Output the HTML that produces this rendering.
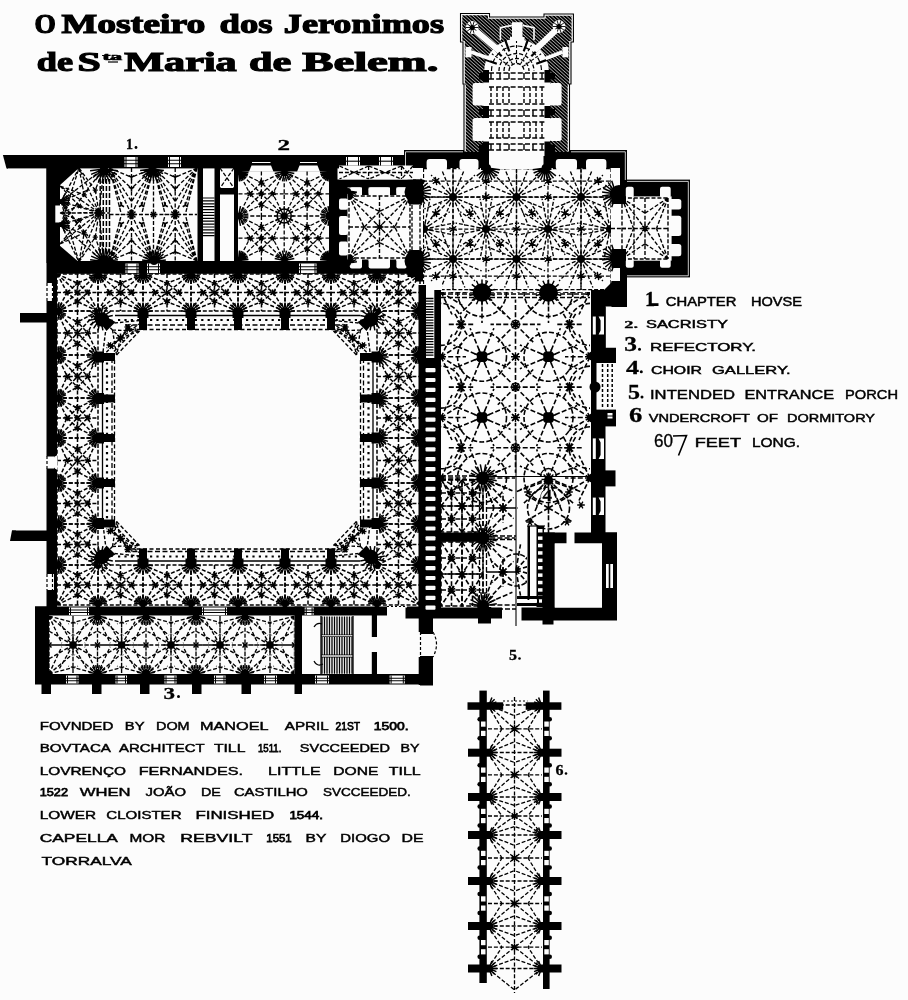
<!DOCTYPE html>
<html><head><meta charset="utf-8"><title>O Mosteiro dos Jeronimos</title>
<style>html,body{margin:0;padding:0;background:#fcfcfc;}svg{display:block;font-family:"Liberation Sans",sans-serif;}</style>
</head><body>
<svg width="908" height="1000" viewBox="0 0 908 1000">
<defs><filter id="soft" x="0" y="0" width="100%" height="100%" filterUnits="userSpaceOnUse"><feGaussianBlur stdDeviation="0.45"/></filter></defs>
<rect x="0" y="0" width="908" height="1000" fill="#fcfcfc"/>
<g filter="url(#soft)">
<rect x="4.0" y="155.0" width="400.0" height="13.4" fill="#000" />
<polygon points="0.0,155.0 7.0,155.0 7.0,169.0 0.0,169.0" fill="#fcfcfc" />
<polygon points="2.9,155.0 8.0,155.0 8.0,168.6 6.5,168.6" fill="#000" />
<rect x="46.5" y="155.0" width="10.5" height="457.0" fill="#000" />
<rect x="46.5" y="168.0" width="13.5" height="95.0" fill="#000" />
<polygon points="59.0,167.0 80.0,167.0 59.0,186.0" fill="#000" />
<polygon points="59.0,263.0 80.0,263.0 59.0,245.0" fill="#000" />
<rect x="55.3" y="205.5" width="5.2" height="17.0" fill="#fcfcfc" />
<rect x="47.0" y="261.0" width="375.0" height="12.8" fill="#000" />
<rect x="234.0" y="155.0" width="103.0" height="16.5" fill="#000" />
<rect x="197.5" y="167.0" width="5.5" height="96.0" fill="#000" />
<rect x="214.5" y="167.0" width="5.5" height="96.0" fill="#000" />
<rect x="220.0" y="188.0" width="18.0" height="6.5" fill="#000" />
<rect x="234.0" y="167.0" width="4.0" height="96.0" fill="#000" />
<path d="M203 198L214.5 198M203 200.9L214.5 200.9M203 203.8L214.5 203.8M203 206.7L214.5 206.7M203 209.6L214.5 209.6M203 212.5L214.5 212.5M203 215.4L214.5 215.4M203 218.3L214.5 218.3M203 221.2L214.5 221.2M203 224.1L214.5 224.1M203 227L214.5 227M203 229.9L214.5 229.9M203 232.8L214.5 232.8M203 235.7L214.5 235.7" fill="none" stroke="#000" stroke-width="1.2"/>
<rect x="329.0" y="167.0" width="8.5" height="96.0" fill="#000" />
<rect x="337.0" y="179.5" width="79.0" height="8.0" fill="#000" />
<rect x="337.0" y="187.0" width="10.5" height="76.0" fill="#000" />
<rect x="407.5" y="179.5" width="15.5" height="25" rx="4" fill="#000"/>
<rect x="407.5" y="179.5" width="15.5" height="10.5" fill="#000" />
<rect x="407.5" y="250" width="15.5" height="27" rx="4" fill="#000"/>
<rect x="407.5" y="265.0" width="15.5" height="12.0" fill="#000" />
<rect x="415.0" y="274.0" width="8.0" height="7.5" fill="#000" />
<rect x="404.0" y="150.0" width="223.0" height="18.0" fill="#000" />
<rect x="611.5" y="150.0" width="15.5" height="157.0" fill="#000" />
<polygon points="591.0,290.0 604.0,290.0 612.0,282.0 619.5,282.0 619.5,270.0 627.0,270.0 627.0,306.5 591.0,306.5" fill="#000" />
<rect x="626.0" y="179.6" width="64.0" height="97.8" fill="#000" />
<rect x="418.5" y="285.0" width="22.5" height="327.0" fill="#000" />
<rect x="591.0" y="300.0" width="14.5" height="235.0" fill="#000" />
<rect x="603.0" y="348.7" width="13.0" height="14.3" fill="#000" />
<rect x="603.0" y="409.6" width="13.0" height="16.8" fill="#000" />
<rect x="603.0" y="470.4" width="12.5" height="16.0" fill="#000" />
<rect x="405.5" y="607.5" width="96.5" height="11.0" fill="#000" />
<rect x="478.0" y="607.0" width="13.0" height="16.5" fill="#000" />
<rect x="521.5" y="607.5" width="95.5" height="13.0" fill="#000" />
<rect x="542.5" y="607.0" width="11.0" height="17.5" fill="#000" />
<rect x="544.0" y="532.5" width="73.0" height="11.0" fill="#000" />
<rect x="544.0" y="532.5" width="10.8" height="79.5" fill="#000" />
<rect x="602.0" y="532.5" width="15.0" height="79.5" fill="#000" />
<rect x="441.0" y="532.5" width="43.0" height="9.3" fill="#000" />
<rect x="420.0" y="617.0" width="13.0" height="17.0" fill="#000" />
<rect x="420.0" y="656.0" width="13.0" height="29.5" fill="#000" />
<rect x="35.0" y="606.5" width="352.0" height="9.0" fill="#000" />
<rect x="407.0" y="606.5" width="26.0" height="9.0" fill="#000" />
<rect x="35.0" y="606.5" width="14.0" height="77.5" fill="#000" />
<rect x="35.0" y="674.0" width="398.0" height="10.5" fill="#000" />
<rect x="294.5" y="606.5" width="7.5" height="87.5" fill="#000" />
<rect x="418.7" y="606.5" width="14.3" height="25.5" fill="#000" />
<rect x="418.7" y="657.0" width="14.3" height="28.0" fill="#000" />
<rect x="371.8" y="615.0" width="5.2" height="22.0" fill="#000" />
<rect x="371.8" y="652.0" width="5.2" height="23.0" fill="#000" />
<rect x="41.5" y="684.0" width="9.5" height="10.0" fill="#000" />
<rect x="92.0" y="684.0" width="9.5" height="10.0" fill="#000" />
<rect x="140.0" y="684.0" width="9.5" height="10.0" fill="#000" />
<rect x="192.0" y="684.0" width="9.5" height="10.0" fill="#000" />
<rect x="241.5" y="684.0" width="9.5" height="10.0" fill="#000" />
<rect x="20.0" y="313.0" width="27.0" height="9.5" fill="#000" />
<rect x="12.0" y="530.5" width="35.0" height="10.5" fill="#000" />
<polygon points="12.0,530.5 16.0,530.5 12.0,541.0 10.0,541.0" fill="#000" />
<rect x="479.4" y="690.6" width="7.4" height="292.4" fill="#000" />
<rect x="543.0" y="690.6" width="6.6" height="298.4" fill="#000" />
<rect x="468.0" y="748.7" width="22.5" height="8.0" fill="#000" />
<rect x="539.5" y="748.7" width="22.0" height="8.0" fill="#000" />
<rect x="468.0" y="793.0" width="22.5" height="8.0" fill="#000" />
<rect x="539.5" y="793.0" width="22.0" height="8.0" fill="#000" />
<rect x="468.0" y="831.0" width="22.5" height="8.0" fill="#000" />
<rect x="539.5" y="831.0" width="22.0" height="8.0" fill="#000" />
<rect x="468.0" y="877.0" width="22.5" height="8.0" fill="#000" />
<rect x="539.5" y="877.0" width="22.0" height="8.0" fill="#000" />
<rect x="468.0" y="922.0" width="22.5" height="8.0" fill="#000" />
<rect x="539.5" y="922.0" width="22.0" height="8.0" fill="#000" />
<rect x="468.0" y="964.5" width="22.5" height="8.0" fill="#000" />
<rect x="539.5" y="964.5" width="22.0" height="8.0" fill="#000" />
<rect x="467.5" y="702.3" width="35.7" height="7.5" fill="#000" />
<rect x="525.7" y="702.3" width="35.7" height="7.5" fill="#000" />
<path d="M57 274L98 274M98 274L98 311M57 311L98 311M57 274L57 311M57 292.5L98 292.5M77.5 274L77.5 311M57 274L77.5 292.5M98 274L77.5 292.5M98 311L77.5 292.5M57 311L77.5 292.5M57 274L67.2 292.5M57 274L77.5 283.2M98 274L87.8 292.5M98 274L77.5 283.2M98 311L87.8 292.5M98 311L77.5 301.8M57 311L67.2 292.5M57 311L77.5 301.8" fill="none" stroke="#000" stroke-width="1.5" stroke-dasharray="4 1.9"/>
<polyline points="67.2,292.5 77.5,283.2 87.8,292.5 77.5,301.8 67.2,292.5" fill="none" stroke="#000" stroke-width="1.5" stroke-dasharray="4 1.9"/>
<path d="M67.2 292.5L70.3 293.3M67.2 292.5L68.1 295.6M67.2 292.5L65 294.8M67.2 292.5L64.2 291.7M67.2 292.5L66.4 289.4M67.2 292.5L69.5 290.2M87.8 292.5L90.8 293.3M87.8 292.5L88.6 295.6M87.8 292.5L85.5 294.8M87.8 292.5L84.7 291.7M87.8 292.5L86.9 289.4M87.8 292.5L90 290.2M77.5 283.2L80.6 284.1M77.5 283.2L78.3 286.3M77.5 283.2L75.2 285.5M77.5 283.2L74.4 282.4M77.5 283.2L76.7 280.2M77.5 283.2L79.8 281M77.5 301.8L80.6 302.6M77.5 301.8L78.3 304.8M77.5 301.8L75.2 304M77.5 301.8L74.4 300.9M77.5 301.8L76.7 298.7M77.5 301.8L79.8 299.5M77.5 292.5L80.6 293.3M77.5 292.5L78.3 295.6M77.5 292.5L75.2 294.8M77.5 292.5L74.4 291.7M77.5 292.5L76.7 289.4M77.5 292.5L79.8 290.2" fill="none" stroke="#000" stroke-width="1.5"/>
<path d="M57 565L98 565M98 565L98 605M57 605L98 605M57 565L57 605M57 585L98 585M77.5 565L77.5 605M57 565L77.5 585M98 565L77.5 585M98 605L77.5 585M57 605L77.5 585M57 565L67.2 585M57 565L77.5 575M98 565L87.8 585M98 565L77.5 575M98 605L87.8 585M98 605L77.5 595M57 605L67.2 585M57 605L77.5 595" fill="none" stroke="#000" stroke-width="1.5" stroke-dasharray="4 1.9"/>
<polyline points="67.2,585.0 77.5,575.0 87.8,585.0 77.5,595.0 67.2,585.0" fill="none" stroke="#000" stroke-width="1.5" stroke-dasharray="4 1.9"/>
<path d="M67.2 585L70.3 585.8M67.2 585L68.1 588.1M67.2 585L65 587.3M67.2 585L64.2 584.2M67.2 585L66.4 581.9M67.2 585L69.5 582.7M87.8 585L90.8 585.8M87.8 585L88.6 588.1M87.8 585L85.5 587.3M87.8 585L84.7 584.2M87.8 585L86.9 581.9M87.8 585L90 582.7M77.5 575L80.6 575.8M77.5 575L78.3 578.1M77.5 575L75.2 577.3M77.5 575L74.4 574.2M77.5 575L76.7 571.9M77.5 575L79.8 572.7M77.5 595L80.6 595.8M77.5 595L78.3 598.1M77.5 595L75.2 597.3M77.5 595L74.4 594.2M77.5 595L76.7 591.9M77.5 595L79.8 592.7M77.5 585L80.6 585.8M77.5 585L78.3 588.1M77.5 585L75.2 587.3M77.5 585L74.4 584.2M77.5 585L76.7 581.9M77.5 585L79.8 582.7" fill="none" stroke="#000" stroke-width="1.5"/>
<path d="M98 274L143 274M143 274L143 311M98 311L143 311M98 274L98 311M98 292.5L143 292.5M120.5 274L120.5 311M98 274L120.5 292.5M143 274L120.5 292.5M143 311L120.5 292.5M98 311L120.5 292.5M98 274L109.2 292.5M98 274L120.5 283.2M143 274L131.8 292.5M143 274L120.5 283.2M143 311L131.8 292.5M143 311L120.5 301.8M98 311L109.2 292.5M98 311L120.5 301.8" fill="none" stroke="#000" stroke-width="1.5" stroke-dasharray="4 1.9"/>
<polyline points="109.2,292.5 120.5,283.2 131.8,292.5 120.5,301.8 109.2,292.5" fill="none" stroke="#000" stroke-width="1.5" stroke-dasharray="4 1.9"/>
<path d="M109.2 292.5L112.3 293.3M109.2 292.5L110.1 295.6M109.2 292.5L107 294.8M109.2 292.5L106.2 291.7M109.2 292.5L108.4 289.4M109.2 292.5L111.5 290.2M131.8 292.5L134.8 293.3M131.8 292.5L132.6 295.6M131.8 292.5L129.5 294.8M131.8 292.5L128.7 291.7M131.8 292.5L130.9 289.4M131.8 292.5L134 290.2M120.5 283.2L123.6 284.1M120.5 283.2L121.3 286.3M120.5 283.2L118.2 285.5M120.5 283.2L117.4 282.4M120.5 283.2L119.7 280.2M120.5 283.2L122.8 281M120.5 301.8L123.6 302.6M120.5 301.8L121.3 304.8M120.5 301.8L118.2 304M120.5 301.8L117.4 300.9M120.5 301.8L119.7 298.7M120.5 301.8L122.8 299.5M120.5 292.5L123.6 293.3M120.5 292.5L121.3 295.6M120.5 292.5L118.2 294.8M120.5 292.5L117.4 291.7M120.5 292.5L119.7 289.4M120.5 292.5L122.8 290.2" fill="none" stroke="#000" stroke-width="1.5"/>
<path d="M98 565L143 565M143 565L143 605M98 605L143 605M98 565L98 605M98 585L143 585M120.5 565L120.5 605M98 565L120.5 585M143 565L120.5 585M143 605L120.5 585M98 605L120.5 585M98 565L109.2 585M98 565L120.5 575M143 565L131.8 585M143 565L120.5 575M143 605L131.8 585M143 605L120.5 595M98 605L109.2 585M98 605L120.5 595" fill="none" stroke="#000" stroke-width="1.5" stroke-dasharray="4 1.9"/>
<polyline points="109.2,585.0 120.5,575.0 131.8,585.0 120.5,595.0 109.2,585.0" fill="none" stroke="#000" stroke-width="1.5" stroke-dasharray="4 1.9"/>
<path d="M109.2 585L112.3 585.8M109.2 585L110.1 588.1M109.2 585L107 587.3M109.2 585L106.2 584.2M109.2 585L108.4 581.9M109.2 585L111.5 582.7M131.8 585L134.8 585.8M131.8 585L132.6 588.1M131.8 585L129.5 587.3M131.8 585L128.7 584.2M131.8 585L130.9 581.9M131.8 585L134 582.7M120.5 575L123.6 575.8M120.5 575L121.3 578.1M120.5 575L118.2 577.3M120.5 575L117.4 574.2M120.5 575L119.7 571.9M120.5 575L122.8 572.7M120.5 595L123.6 595.8M120.5 595L121.3 598.1M120.5 595L118.2 597.3M120.5 595L117.4 594.2M120.5 595L119.7 591.9M120.5 595L122.8 592.7M120.5 585L123.6 585.8M120.5 585L121.3 588.1M120.5 585L118.2 587.3M120.5 585L117.4 584.2M120.5 585L119.7 581.9M120.5 585L122.8 582.7" fill="none" stroke="#000" stroke-width="1.5"/>
<path d="M143 274L191 274M191 274L191 311M143 311L191 311M143 274L143 311M143 292.5L191 292.5M167 274L167 311M143 274L167 292.5M191 274L167 292.5M191 311L167 292.5M143 311L167 292.5M143 274L155 292.5M143 274L167 283.2M191 274L179 292.5M191 274L167 283.2M191 311L179 292.5M191 311L167 301.8M143 311L155 292.5M143 311L167 301.8" fill="none" stroke="#000" stroke-width="1.5" stroke-dasharray="4 1.9"/>
<polyline points="155.0,292.5 167.0,283.2 179.0,292.5 167.0,301.8 155.0,292.5" fill="none" stroke="#000" stroke-width="1.5" stroke-dasharray="4 1.9"/>
<path d="M155 292.5L158.1 293.3M155 292.5L155.8 295.6M155 292.5L152.7 294.8M155 292.5L151.9 291.7M155 292.5L154.2 289.4M155 292.5L157.3 290.2M179 292.5L182.1 293.3M179 292.5L179.8 295.6M179 292.5L176.7 294.8M179 292.5L175.9 291.7M179 292.5L178.2 289.4M179 292.5L181.3 290.2M167 283.2L170.1 284.1M167 283.2L167.8 286.3M167 283.2L164.7 285.5M167 283.2L163.9 282.4M167 283.2L166.2 280.2M167 283.2L169.3 281M167 301.8L170.1 302.6M167 301.8L167.8 304.8M167 301.8L164.7 304M167 301.8L163.9 300.9M167 301.8L166.2 298.7M167 301.8L169.3 299.5M167 292.5L170.1 293.3M167 292.5L167.8 295.6M167 292.5L164.7 294.8M167 292.5L163.9 291.7M167 292.5L166.2 289.4M167 292.5L169.3 290.2" fill="none" stroke="#000" stroke-width="1.5"/>
<path d="M143 565L191 565M191 565L191 605M143 605L191 605M143 565L143 605M143 585L191 585M167 565L167 605M143 565L167 585M191 565L167 585M191 605L167 585M143 605L167 585M143 565L155 585M143 565L167 575M191 565L179 585M191 565L167 575M191 605L179 585M191 605L167 595M143 605L155 585M143 605L167 595" fill="none" stroke="#000" stroke-width="1.5" stroke-dasharray="4 1.9"/>
<polyline points="155.0,585.0 167.0,575.0 179.0,585.0 167.0,595.0 155.0,585.0" fill="none" stroke="#000" stroke-width="1.5" stroke-dasharray="4 1.9"/>
<path d="M155 585L158.1 585.8M155 585L155.8 588.1M155 585L152.7 587.3M155 585L151.9 584.2M155 585L154.2 581.9M155 585L157.3 582.7M179 585L182.1 585.8M179 585L179.8 588.1M179 585L176.7 587.3M179 585L175.9 584.2M179 585L178.2 581.9M179 585L181.3 582.7M167 575L170.1 575.8M167 575L167.8 578.1M167 575L164.7 577.3M167 575L163.9 574.2M167 575L166.2 571.9M167 575L169.3 572.7M167 595L170.1 595.8M167 595L167.8 598.1M167 595L164.7 597.3M167 595L163.9 594.2M167 595L166.2 591.9M167 595L169.3 592.7M167 585L170.1 585.8M167 585L167.8 588.1M167 585L164.7 587.3M167 585L163.9 584.2M167 585L166.2 581.9M167 585L169.3 582.7" fill="none" stroke="#000" stroke-width="1.5"/>
<path d="M191 274L238 274M238 274L238 311M191 311L238 311M191 274L191 311M191 292.5L238 292.5M214.5 274L214.5 311M191 274L214.5 292.5M238 274L214.5 292.5M238 311L214.5 292.5M191 311L214.5 292.5M191 274L202.8 292.5M191 274L214.5 283.2M238 274L226.2 292.5M238 274L214.5 283.2M238 311L226.2 292.5M238 311L214.5 301.8M191 311L202.8 292.5M191 311L214.5 301.8" fill="none" stroke="#000" stroke-width="1.5" stroke-dasharray="4 1.9"/>
<polyline points="202.8,292.5 214.5,283.2 226.2,292.5 214.5,301.8 202.8,292.5" fill="none" stroke="#000" stroke-width="1.5" stroke-dasharray="4 1.9"/>
<path d="M202.8 292.5L205.8 293.3M202.8 292.5L203.6 295.6M202.8 292.5L200.5 294.8M202.8 292.5L199.7 291.7M202.8 292.5L201.9 289.4M202.8 292.5L205 290.2M226.2 292.5L229.3 293.3M226.2 292.5L227.1 295.6M226.2 292.5L224 294.8M226.2 292.5L223.2 291.7M226.2 292.5L225.4 289.4M226.2 292.5L228.5 290.2M214.5 283.2L217.6 284.1M214.5 283.2L215.3 286.3M214.5 283.2L212.2 285.5M214.5 283.2L211.4 282.4M214.5 283.2L213.7 280.2M214.5 283.2L216.8 281M214.5 301.8L217.6 302.6M214.5 301.8L215.3 304.8M214.5 301.8L212.2 304M214.5 301.8L211.4 300.9M214.5 301.8L213.7 298.7M214.5 301.8L216.8 299.5M214.5 292.5L217.6 293.3M214.5 292.5L215.3 295.6M214.5 292.5L212.2 294.8M214.5 292.5L211.4 291.7M214.5 292.5L213.7 289.4M214.5 292.5L216.8 290.2" fill="none" stroke="#000" stroke-width="1.5"/>
<path d="M191 565L238 565M238 565L238 605M191 605L238 605M191 565L191 605M191 585L238 585M214.5 565L214.5 605M191 565L214.5 585M238 565L214.5 585M238 605L214.5 585M191 605L214.5 585M191 565L202.8 585M191 565L214.5 575M238 565L226.2 585M238 565L214.5 575M238 605L226.2 585M238 605L214.5 595M191 605L202.8 585M191 605L214.5 595" fill="none" stroke="#000" stroke-width="1.5" stroke-dasharray="4 1.9"/>
<polyline points="202.8,585.0 214.5,575.0 226.2,585.0 214.5,595.0 202.8,585.0" fill="none" stroke="#000" stroke-width="1.5" stroke-dasharray="4 1.9"/>
<path d="M202.8 585L205.8 585.8M202.8 585L203.6 588.1M202.8 585L200.5 587.3M202.8 585L199.7 584.2M202.8 585L201.9 581.9M202.8 585L205 582.7M226.2 585L229.3 585.8M226.2 585L227.1 588.1M226.2 585L224 587.3M226.2 585L223.2 584.2M226.2 585L225.4 581.9M226.2 585L228.5 582.7M214.5 575L217.6 575.8M214.5 575L215.3 578.1M214.5 575L212.2 577.3M214.5 575L211.4 574.2M214.5 575L213.7 571.9M214.5 575L216.8 572.7M214.5 595L217.6 595.8M214.5 595L215.3 598.1M214.5 595L212.2 597.3M214.5 595L211.4 594.2M214.5 595L213.7 591.9M214.5 595L216.8 592.7M214.5 585L217.6 585.8M214.5 585L215.3 588.1M214.5 585L212.2 587.3M214.5 585L211.4 584.2M214.5 585L213.7 581.9M214.5 585L216.8 582.7" fill="none" stroke="#000" stroke-width="1.5"/>
<path d="M238 274L285 274M285 274L285 311M238 311L285 311M238 274L238 311M238 292.5L285 292.5M261.5 274L261.5 311M238 274L261.5 292.5M285 274L261.5 292.5M285 311L261.5 292.5M238 311L261.5 292.5M238 274L249.8 292.5M238 274L261.5 283.2M285 274L273.2 292.5M285 274L261.5 283.2M285 311L273.2 292.5M285 311L261.5 301.8M238 311L249.8 292.5M238 311L261.5 301.8" fill="none" stroke="#000" stroke-width="1.5" stroke-dasharray="4 1.9"/>
<polyline points="249.8,292.5 261.5,283.2 273.2,292.5 261.5,301.8 249.8,292.5" fill="none" stroke="#000" stroke-width="1.5" stroke-dasharray="4 1.9"/>
<path d="M249.8 292.5L252.8 293.3M249.8 292.5L250.6 295.6M249.8 292.5L247.5 294.8M249.8 292.5L246.7 291.7M249.8 292.5L248.9 289.4M249.8 292.5L252 290.2M273.2 292.5L276.3 293.3M273.2 292.5L274.1 295.6M273.2 292.5L271 294.8M273.2 292.5L270.2 291.7M273.2 292.5L272.4 289.4M273.2 292.5L275.5 290.2M261.5 283.2L264.6 284.1M261.5 283.2L262.3 286.3M261.5 283.2L259.2 285.5M261.5 283.2L258.4 282.4M261.5 283.2L260.7 280.2M261.5 283.2L263.8 281M261.5 301.8L264.6 302.6M261.5 301.8L262.3 304.8M261.5 301.8L259.2 304M261.5 301.8L258.4 300.9M261.5 301.8L260.7 298.7M261.5 301.8L263.8 299.5M261.5 292.5L264.6 293.3M261.5 292.5L262.3 295.6M261.5 292.5L259.2 294.8M261.5 292.5L258.4 291.7M261.5 292.5L260.7 289.4M261.5 292.5L263.8 290.2" fill="none" stroke="#000" stroke-width="1.5"/>
<path d="M238 565L285 565M285 565L285 605M238 605L285 605M238 565L238 605M238 585L285 585M261.5 565L261.5 605M238 565L261.5 585M285 565L261.5 585M285 605L261.5 585M238 605L261.5 585M238 565L249.8 585M238 565L261.5 575M285 565L273.2 585M285 565L261.5 575M285 605L273.2 585M285 605L261.5 595M238 605L249.8 585M238 605L261.5 595" fill="none" stroke="#000" stroke-width="1.5" stroke-dasharray="4 1.9"/>
<polyline points="249.8,585.0 261.5,575.0 273.2,585.0 261.5,595.0 249.8,585.0" fill="none" stroke="#000" stroke-width="1.5" stroke-dasharray="4 1.9"/>
<path d="M249.8 585L252.8 585.8M249.8 585L250.6 588.1M249.8 585L247.5 587.3M249.8 585L246.7 584.2M249.8 585L248.9 581.9M249.8 585L252 582.7M273.2 585L276.3 585.8M273.2 585L274.1 588.1M273.2 585L271 587.3M273.2 585L270.2 584.2M273.2 585L272.4 581.9M273.2 585L275.5 582.7M261.5 575L264.6 575.8M261.5 575L262.3 578.1M261.5 575L259.2 577.3M261.5 575L258.4 574.2M261.5 575L260.7 571.9M261.5 575L263.8 572.7M261.5 595L264.6 595.8M261.5 595L262.3 598.1M261.5 595L259.2 597.3M261.5 595L258.4 594.2M261.5 595L260.7 591.9M261.5 595L263.8 592.7M261.5 585L264.6 585.8M261.5 585L262.3 588.1M261.5 585L259.2 587.3M261.5 585L258.4 584.2M261.5 585L260.7 581.9M261.5 585L263.8 582.7" fill="none" stroke="#000" stroke-width="1.5"/>
<path d="M285 274L331 274M331 274L331 311M285 311L331 311M285 274L285 311M285 292.5L331 292.5M308 274L308 311M285 274L308 292.5M331 274L308 292.5M331 311L308 292.5M285 311L308 292.5M285 274L296.5 292.5M285 274L308 283.2M331 274L319.5 292.5M331 274L308 283.2M331 311L319.5 292.5M331 311L308 301.8M285 311L296.5 292.5M285 311L308 301.8" fill="none" stroke="#000" stroke-width="1.5" stroke-dasharray="4 1.9"/>
<polyline points="296.5,292.5 308.0,283.2 319.5,292.5 308.0,301.8 296.5,292.5" fill="none" stroke="#000" stroke-width="1.5" stroke-dasharray="4 1.9"/>
<path d="M296.5 292.5L299.6 293.3M296.5 292.5L297.3 295.6M296.5 292.5L294.2 294.8M296.5 292.5L293.4 291.7M296.5 292.5L295.7 289.4M296.5 292.5L298.8 290.2M319.5 292.5L322.6 293.3M319.5 292.5L320.3 295.6M319.5 292.5L317.2 294.8M319.5 292.5L316.4 291.7M319.5 292.5L318.7 289.4M319.5 292.5L321.8 290.2M308 283.2L311.1 284.1M308 283.2L308.8 286.3M308 283.2L305.7 285.5M308 283.2L304.9 282.4M308 283.2L307.2 280.2M308 283.2L310.3 281M308 301.8L311.1 302.6M308 301.8L308.8 304.8M308 301.8L305.7 304M308 301.8L304.9 300.9M308 301.8L307.2 298.7M308 301.8L310.3 299.5M308 292.5L311.1 293.3M308 292.5L308.8 295.6M308 292.5L305.7 294.8M308 292.5L304.9 291.7M308 292.5L307.2 289.4M308 292.5L310.3 290.2" fill="none" stroke="#000" stroke-width="1.5"/>
<path d="M285 565L331 565M331 565L331 605M285 605L331 605M285 565L285 605M285 585L331 585M308 565L308 605M285 565L308 585M331 565L308 585M331 605L308 585M285 605L308 585M285 565L296.5 585M285 565L308 575M331 565L319.5 585M331 565L308 575M331 605L319.5 585M331 605L308 595M285 605L296.5 585M285 605L308 595" fill="none" stroke="#000" stroke-width="1.5" stroke-dasharray="4 1.9"/>
<polyline points="296.5,585.0 308.0,575.0 319.5,585.0 308.0,595.0 296.5,585.0" fill="none" stroke="#000" stroke-width="1.5" stroke-dasharray="4 1.9"/>
<path d="M296.5 585L299.6 585.8M296.5 585L297.3 588.1M296.5 585L294.2 587.3M296.5 585L293.4 584.2M296.5 585L295.7 581.9M296.5 585L298.8 582.7M319.5 585L322.6 585.8M319.5 585L320.3 588.1M319.5 585L317.2 587.3M319.5 585L316.4 584.2M319.5 585L318.7 581.9M319.5 585L321.8 582.7M308 575L311.1 575.8M308 575L308.8 578.1M308 575L305.7 577.3M308 575L304.9 574.2M308 575L307.2 571.9M308 575L310.3 572.7M308 595L311.1 595.8M308 595L308.8 598.1M308 595L305.7 597.3M308 595L304.9 594.2M308 595L307.2 591.9M308 595L310.3 592.7M308 585L311.1 585.8M308 585L308.8 588.1M308 585L305.7 587.3M308 585L304.9 584.2M308 585L307.2 581.9M308 585L310.3 582.7" fill="none" stroke="#000" stroke-width="1.5"/>
<path d="M331 274L377 274M377 274L377 311M331 311L377 311M331 274L331 311M331 292.5L377 292.5M354 274L354 311M331 274L354 292.5M377 274L354 292.5M377 311L354 292.5M331 311L354 292.5M331 274L342.5 292.5M331 274L354 283.2M377 274L365.5 292.5M377 274L354 283.2M377 311L365.5 292.5M377 311L354 301.8M331 311L342.5 292.5M331 311L354 301.8" fill="none" stroke="#000" stroke-width="1.5" stroke-dasharray="4 1.9"/>
<polyline points="342.5,292.5 354.0,283.2 365.5,292.5 354.0,301.8 342.5,292.5" fill="none" stroke="#000" stroke-width="1.5" stroke-dasharray="4 1.9"/>
<path d="M342.5 292.5L345.6 293.3M342.5 292.5L343.3 295.6M342.5 292.5L340.2 294.8M342.5 292.5L339.4 291.7M342.5 292.5L341.7 289.4M342.5 292.5L344.8 290.2M365.5 292.5L368.6 293.3M365.5 292.5L366.3 295.6M365.5 292.5L363.2 294.8M365.5 292.5L362.4 291.7M365.5 292.5L364.7 289.4M365.5 292.5L367.8 290.2M354 283.2L357.1 284.1M354 283.2L354.8 286.3M354 283.2L351.7 285.5M354 283.2L350.9 282.4M354 283.2L353.2 280.2M354 283.2L356.3 281M354 301.8L357.1 302.6M354 301.8L354.8 304.8M354 301.8L351.7 304M354 301.8L350.9 300.9M354 301.8L353.2 298.7M354 301.8L356.3 299.5M354 292.5L357.1 293.3M354 292.5L354.8 295.6M354 292.5L351.7 294.8M354 292.5L350.9 291.7M354 292.5L353.2 289.4M354 292.5L356.3 290.2" fill="none" stroke="#000" stroke-width="1.5"/>
<path d="M331 565L377 565M377 565L377 605M331 605L377 605M331 565L331 605M331 585L377 585M354 565L354 605M331 565L354 585M377 565L354 585M377 605L354 585M331 605L354 585M331 565L342.5 585M331 565L354 575M377 565L365.5 585M377 565L354 575M377 605L365.5 585M377 605L354 595M331 605L342.5 585M331 605L354 595" fill="none" stroke="#000" stroke-width="1.5" stroke-dasharray="4 1.9"/>
<polyline points="342.5,585.0 354.0,575.0 365.5,585.0 354.0,595.0 342.5,585.0" fill="none" stroke="#000" stroke-width="1.5" stroke-dasharray="4 1.9"/>
<path d="M342.5 585L345.6 585.8M342.5 585L343.3 588.1M342.5 585L340.2 587.3M342.5 585L339.4 584.2M342.5 585L341.7 581.9M342.5 585L344.8 582.7M365.5 585L368.6 585.8M365.5 585L366.3 588.1M365.5 585L363.2 587.3M365.5 585L362.4 584.2M365.5 585L364.7 581.9M365.5 585L367.8 582.7M354 575L357.1 575.8M354 575L354.8 578.1M354 575L351.7 577.3M354 575L350.9 574.2M354 575L353.2 571.9M354 575L356.3 572.7M354 595L357.1 595.8M354 595L354.8 598.1M354 595L351.7 597.3M354 595L350.9 594.2M354 595L353.2 591.9M354 595L356.3 592.7M354 585L357.1 585.8M354 585L354.8 588.1M354 585L351.7 587.3M354 585L350.9 584.2M354 585L353.2 581.9M354 585L356.3 582.7" fill="none" stroke="#000" stroke-width="1.5"/>
<path d="M377 274L420 274M420 274L420 311M377 311L420 311M377 274L377 311M377 292.5L420 292.5M398.5 274L398.5 311M377 274L398.5 292.5M420 274L398.5 292.5M420 311L398.5 292.5M377 311L398.5 292.5M377 274L387.8 292.5M377 274L398.5 283.2M420 274L409.2 292.5M420 274L398.5 283.2M420 311L409.2 292.5M420 311L398.5 301.8M377 311L387.8 292.5M377 311L398.5 301.8" fill="none" stroke="#000" stroke-width="1.5" stroke-dasharray="4 1.9"/>
<polyline points="387.8,292.5 398.5,283.2 409.2,292.5 398.5,301.8 387.8,292.5" fill="none" stroke="#000" stroke-width="1.5" stroke-dasharray="4 1.9"/>
<path d="M387.8 292.5L390.8 293.3M387.8 292.5L388.6 295.6M387.8 292.5L385.5 294.8M387.8 292.5L384.7 291.7M387.8 292.5L386.9 289.4M387.8 292.5L390 290.2M409.2 292.5L412.3 293.3M409.2 292.5L410.1 295.6M409.2 292.5L407 294.8M409.2 292.5L406.2 291.7M409.2 292.5L408.4 289.4M409.2 292.5L411.5 290.2M398.5 283.2L401.6 284.1M398.5 283.2L399.3 286.3M398.5 283.2L396.2 285.5M398.5 283.2L395.4 282.4M398.5 283.2L397.7 280.2M398.5 283.2L400.8 281M398.5 301.8L401.6 302.6M398.5 301.8L399.3 304.8M398.5 301.8L396.2 304M398.5 301.8L395.4 300.9M398.5 301.8L397.7 298.7M398.5 301.8L400.8 299.5M398.5 292.5L401.6 293.3M398.5 292.5L399.3 295.6M398.5 292.5L396.2 294.8M398.5 292.5L395.4 291.7M398.5 292.5L397.7 289.4M398.5 292.5L400.8 290.2" fill="none" stroke="#000" stroke-width="1.5"/>
<path d="M377 565L420 565M420 565L420 605M377 605L420 605M377 565L377 605M377 585L420 585M398.5 565L398.5 605M377 565L398.5 585M420 565L398.5 585M420 605L398.5 585M377 605L398.5 585M377 565L387.8 585M377 565L398.5 575M420 565L409.2 585M420 565L398.5 575M420 605L409.2 585M420 605L398.5 595M377 605L387.8 585M377 605L398.5 595" fill="none" stroke="#000" stroke-width="1.5" stroke-dasharray="4 1.9"/>
<polyline points="387.8,585.0 398.5,575.0 409.2,585.0 398.5,595.0 387.8,585.0" fill="none" stroke="#000" stroke-width="1.5" stroke-dasharray="4 1.9"/>
<path d="M387.8 585L390.8 585.8M387.8 585L388.6 588.1M387.8 585L385.5 587.3M387.8 585L384.7 584.2M387.8 585L386.9 581.9M387.8 585L390 582.7M409.2 585L412.3 585.8M409.2 585L410.1 588.1M409.2 585L407 587.3M409.2 585L406.2 584.2M409.2 585L408.4 581.9M409.2 585L411.5 582.7M398.5 575L401.6 575.8M398.5 575L399.3 578.1M398.5 575L396.2 577.3M398.5 575L395.4 574.2M398.5 575L397.7 571.9M398.5 575L400.8 572.7M398.5 595L401.6 595.8M398.5 595L399.3 598.1M398.5 595L396.2 597.3M398.5 595L395.4 594.2M398.5 595L397.7 591.9M398.5 595L400.8 592.7M398.5 585L401.6 585.8M398.5 585L399.3 588.1M398.5 585L396.2 587.3M398.5 585L395.4 584.2M398.5 585L397.7 581.9M398.5 585L400.8 582.7" fill="none" stroke="#000" stroke-width="1.5"/>
<path d="M57 311L98 311M98 311L98 355M57 355L98 355M57 311L57 355M57 333L98 333M77.5 311L77.5 355M57 311L77.5 333M98 311L77.5 333M98 355L77.5 333M57 355L77.5 333M57 311L67.2 333M57 311L77.5 322M98 311L87.8 333M98 311L77.5 322M98 355L87.8 333M98 355L77.5 344M57 355L67.2 333M57 355L77.5 344" fill="none" stroke="#000" stroke-width="1.5" stroke-dasharray="4 1.9"/>
<polyline points="67.2,333.0 77.5,322.0 87.8,333.0 77.5,344.0 67.2,333.0" fill="none" stroke="#000" stroke-width="1.5" stroke-dasharray="4 1.9"/>
<path d="M67.2 333L70.3 333.8M67.2 333L68.1 336.1M67.2 333L65 335.3M67.2 333L64.2 332.2M67.2 333L66.4 329.9M67.2 333L69.5 330.7M87.8 333L90.8 333.8M87.8 333L88.6 336.1M87.8 333L85.5 335.3M87.8 333L84.7 332.2M87.8 333L86.9 329.9M87.8 333L90 330.7M77.5 322L80.6 322.8M77.5 322L78.3 325.1M77.5 322L75.2 324.3M77.5 322L74.4 321.2M77.5 322L76.7 318.9M77.5 322L79.8 319.7M77.5 344L80.6 344.8M77.5 344L78.3 347.1M77.5 344L75.2 346.3M77.5 344L74.4 343.2M77.5 344L76.7 340.9M77.5 344L79.8 341.7M77.5 333L80.6 333.8M77.5 333L78.3 336.1M77.5 333L75.2 335.3M77.5 333L74.4 332.2M77.5 333L76.7 329.9M77.5 333L79.8 330.7" fill="none" stroke="#000" stroke-width="1.5"/>
<path d="M377 311L420 311M420 311L420 355M377 355L420 355M377 311L377 355M377 333L420 333M398.5 311L398.5 355M377 311L398.5 333M420 311L398.5 333M420 355L398.5 333M377 355L398.5 333M377 311L387.8 333M377 311L398.5 322M420 311L409.2 333M420 311L398.5 322M420 355L409.2 333M420 355L398.5 344M377 355L387.8 333M377 355L398.5 344" fill="none" stroke="#000" stroke-width="1.5" stroke-dasharray="4 1.9"/>
<polyline points="387.8,333.0 398.5,322.0 409.2,333.0 398.5,344.0 387.8,333.0" fill="none" stroke="#000" stroke-width="1.5" stroke-dasharray="4 1.9"/>
<path d="M387.8 333L390.8 333.8M387.8 333L388.6 336.1M387.8 333L385.5 335.3M387.8 333L384.7 332.2M387.8 333L386.9 329.9M387.8 333L390 330.7M409.2 333L412.3 333.8M409.2 333L410.1 336.1M409.2 333L407 335.3M409.2 333L406.2 332.2M409.2 333L408.4 329.9M409.2 333L411.5 330.7M398.5 322L401.6 322.8M398.5 322L399.3 325.1M398.5 322L396.2 324.3M398.5 322L395.4 321.2M398.5 322L397.7 318.9M398.5 322L400.8 319.7M398.5 344L401.6 344.8M398.5 344L399.3 347.1M398.5 344L396.2 346.3M398.5 344L395.4 343.2M398.5 344L397.7 340.9M398.5 344L400.8 341.7M398.5 333L401.6 333.8M398.5 333L399.3 336.1M398.5 333L396.2 335.3M398.5 333L395.4 332.2M398.5 333L397.7 329.9M398.5 333L400.8 330.7" fill="none" stroke="#000" stroke-width="1.5"/>
<path d="M57 355L98 355M98 355L98 398M57 398L98 398M57 355L57 398M57 376.5L98 376.5M77.5 355L77.5 398M57 355L77.5 376.5M98 355L77.5 376.5M98 398L77.5 376.5M57 398L77.5 376.5M57 355L67.2 376.5M57 355L77.5 365.8M98 355L87.8 376.5M98 355L77.5 365.8M98 398L87.8 376.5M98 398L77.5 387.2M57 398L67.2 376.5M57 398L77.5 387.2" fill="none" stroke="#000" stroke-width="1.5" stroke-dasharray="4 1.9"/>
<polyline points="67.2,376.5 77.5,365.8 87.8,376.5 77.5,387.2 67.2,376.5" fill="none" stroke="#000" stroke-width="1.5" stroke-dasharray="4 1.9"/>
<path d="M67.2 376.5L70.3 377.3M67.2 376.5L68.1 379.6M67.2 376.5L65 378.8M67.2 376.5L64.2 375.7M67.2 376.5L66.4 373.4M67.2 376.5L69.5 374.2M87.8 376.5L90.8 377.3M87.8 376.5L88.6 379.6M87.8 376.5L85.5 378.8M87.8 376.5L84.7 375.7M87.8 376.5L86.9 373.4M87.8 376.5L90 374.2M77.5 365.8L80.6 366.6M77.5 365.8L78.3 368.8M77.5 365.8L75.2 368M77.5 365.8L74.4 364.9M77.5 365.8L76.7 362.7M77.5 365.8L79.8 363.5M77.5 387.2L80.6 388.1M77.5 387.2L78.3 390.3M77.5 387.2L75.2 389.5M77.5 387.2L74.4 386.4M77.5 387.2L76.7 384.2M77.5 387.2L79.8 385M77.5 376.5L80.6 377.3M77.5 376.5L78.3 379.6M77.5 376.5L75.2 378.8M77.5 376.5L74.4 375.7M77.5 376.5L76.7 373.4M77.5 376.5L79.8 374.2" fill="none" stroke="#000" stroke-width="1.5"/>
<path d="M377 355L420 355M420 355L420 398M377 398L420 398M377 355L377 398M377 376.5L420 376.5M398.5 355L398.5 398M377 355L398.5 376.5M420 355L398.5 376.5M420 398L398.5 376.5M377 398L398.5 376.5M377 355L387.8 376.5M377 355L398.5 365.8M420 355L409.2 376.5M420 355L398.5 365.8M420 398L409.2 376.5M420 398L398.5 387.2M377 398L387.8 376.5M377 398L398.5 387.2" fill="none" stroke="#000" stroke-width="1.5" stroke-dasharray="4 1.9"/>
<polyline points="387.8,376.5 398.5,365.8 409.2,376.5 398.5,387.2 387.8,376.5" fill="none" stroke="#000" stroke-width="1.5" stroke-dasharray="4 1.9"/>
<path d="M387.8 376.5L390.8 377.3M387.8 376.5L388.6 379.6M387.8 376.5L385.5 378.8M387.8 376.5L384.7 375.7M387.8 376.5L386.9 373.4M387.8 376.5L390 374.2M409.2 376.5L412.3 377.3M409.2 376.5L410.1 379.6M409.2 376.5L407 378.8M409.2 376.5L406.2 375.7M409.2 376.5L408.4 373.4M409.2 376.5L411.5 374.2M398.5 365.8L401.6 366.6M398.5 365.8L399.3 368.8M398.5 365.8L396.2 368M398.5 365.8L395.4 364.9M398.5 365.8L397.7 362.7M398.5 365.8L400.8 363.5M398.5 387.2L401.6 388.1M398.5 387.2L399.3 390.3M398.5 387.2L396.2 389.5M398.5 387.2L395.4 386.4M398.5 387.2L397.7 384.2M398.5 387.2L400.8 385M398.5 376.5L401.6 377.3M398.5 376.5L399.3 379.6M398.5 376.5L396.2 378.8M398.5 376.5L395.4 375.7M398.5 376.5L397.7 373.4M398.5 376.5L400.8 374.2" fill="none" stroke="#000" stroke-width="1.5"/>
<path d="M57 398L98 398M98 398L98 438M57 438L98 438M57 398L57 438M57 418L98 418M77.5 398L77.5 438M57 398L77.5 418M98 398L77.5 418M98 438L77.5 418M57 438L77.5 418M57 398L67.2 418M57 398L77.5 408M98 398L87.8 418M98 398L77.5 408M98 438L87.8 418M98 438L77.5 428M57 438L67.2 418M57 438L77.5 428" fill="none" stroke="#000" stroke-width="1.5" stroke-dasharray="4 1.9"/>
<polyline points="67.2,418.0 77.5,408.0 87.8,418.0 77.5,428.0 67.2,418.0" fill="none" stroke="#000" stroke-width="1.5" stroke-dasharray="4 1.9"/>
<path d="M67.2 418L70.3 418.8M67.2 418L68.1 421.1M67.2 418L65 420.3M67.2 418L64.2 417.2M67.2 418L66.4 414.9M67.2 418L69.5 415.7M87.8 418L90.8 418.8M87.8 418L88.6 421.1M87.8 418L85.5 420.3M87.8 418L84.7 417.2M87.8 418L86.9 414.9M87.8 418L90 415.7M77.5 408L80.6 408.8M77.5 408L78.3 411.1M77.5 408L75.2 410.3M77.5 408L74.4 407.2M77.5 408L76.7 404.9M77.5 408L79.8 405.7M77.5 428L80.6 428.8M77.5 428L78.3 431.1M77.5 428L75.2 430.3M77.5 428L74.4 427.2M77.5 428L76.7 424.9M77.5 428L79.8 425.7M77.5 418L80.6 418.8M77.5 418L78.3 421.1M77.5 418L75.2 420.3M77.5 418L74.4 417.2M77.5 418L76.7 414.9M77.5 418L79.8 415.7" fill="none" stroke="#000" stroke-width="1.5"/>
<path d="M377 398L420 398M420 398L420 438M377 438L420 438M377 398L377 438M377 418L420 418M398.5 398L398.5 438M377 398L398.5 418M420 398L398.5 418M420 438L398.5 418M377 438L398.5 418M377 398L387.8 418M377 398L398.5 408M420 398L409.2 418M420 398L398.5 408M420 438L409.2 418M420 438L398.5 428M377 438L387.8 418M377 438L398.5 428" fill="none" stroke="#000" stroke-width="1.5" stroke-dasharray="4 1.9"/>
<polyline points="387.8,418.0 398.5,408.0 409.2,418.0 398.5,428.0 387.8,418.0" fill="none" stroke="#000" stroke-width="1.5" stroke-dasharray="4 1.9"/>
<path d="M387.8 418L390.8 418.8M387.8 418L388.6 421.1M387.8 418L385.5 420.3M387.8 418L384.7 417.2M387.8 418L386.9 414.9M387.8 418L390 415.7M409.2 418L412.3 418.8M409.2 418L410.1 421.1M409.2 418L407 420.3M409.2 418L406.2 417.2M409.2 418L408.4 414.9M409.2 418L411.5 415.7M398.5 408L401.6 408.8M398.5 408L399.3 411.1M398.5 408L396.2 410.3M398.5 408L395.4 407.2M398.5 408L397.7 404.9M398.5 408L400.8 405.7M398.5 428L401.6 428.8M398.5 428L399.3 431.1M398.5 428L396.2 430.3M398.5 428L395.4 427.2M398.5 428L397.7 424.9M398.5 428L400.8 425.7M398.5 418L401.6 418.8M398.5 418L399.3 421.1M398.5 418L396.2 420.3M398.5 418L395.4 417.2M398.5 418L397.7 414.9M398.5 418L400.8 415.7" fill="none" stroke="#000" stroke-width="1.5"/>
<path d="M57 438L98 438M98 438L98 483M57 483L98 483M57 438L57 483M57 460.5L98 460.5M77.5 438L77.5 483M57 438L77.5 460.5M98 438L77.5 460.5M98 483L77.5 460.5M57 483L77.5 460.5M57 438L67.2 460.5M57 438L77.5 449.2M98 438L87.8 460.5M98 438L77.5 449.2M98 483L87.8 460.5M98 483L77.5 471.8M57 483L67.2 460.5M57 483L77.5 471.8" fill="none" stroke="#000" stroke-width="1.5" stroke-dasharray="4 1.9"/>
<polyline points="67.2,460.5 77.5,449.2 87.8,460.5 77.5,471.8 67.2,460.5" fill="none" stroke="#000" stroke-width="1.5" stroke-dasharray="4 1.9"/>
<path d="M67.2 460.5L70.3 461.3M67.2 460.5L68.1 463.6M67.2 460.5L65 462.8M67.2 460.5L64.2 459.7M67.2 460.5L66.4 457.4M67.2 460.5L69.5 458.2M87.8 460.5L90.8 461.3M87.8 460.5L88.6 463.6M87.8 460.5L85.5 462.8M87.8 460.5L84.7 459.7M87.8 460.5L86.9 457.4M87.8 460.5L90 458.2M77.5 449.2L80.6 450.1M77.5 449.2L78.3 452.3M77.5 449.2L75.2 451.5M77.5 449.2L74.4 448.4M77.5 449.2L76.7 446.2M77.5 449.2L79.8 447M77.5 471.8L80.6 472.6M77.5 471.8L78.3 474.8M77.5 471.8L75.2 474M77.5 471.8L74.4 470.9M77.5 471.8L76.7 468.7M77.5 471.8L79.8 469.5M77.5 460.5L80.6 461.3M77.5 460.5L78.3 463.6M77.5 460.5L75.2 462.8M77.5 460.5L74.4 459.7M77.5 460.5L76.7 457.4M77.5 460.5L79.8 458.2" fill="none" stroke="#000" stroke-width="1.5"/>
<path d="M377 438L420 438M420 438L420 483M377 483L420 483M377 438L377 483M377 460.5L420 460.5M398.5 438L398.5 483M377 438L398.5 460.5M420 438L398.5 460.5M420 483L398.5 460.5M377 483L398.5 460.5M377 438L387.8 460.5M377 438L398.5 449.2M420 438L409.2 460.5M420 438L398.5 449.2M420 483L409.2 460.5M420 483L398.5 471.8M377 483L387.8 460.5M377 483L398.5 471.8" fill="none" stroke="#000" stroke-width="1.5" stroke-dasharray="4 1.9"/>
<polyline points="387.8,460.5 398.5,449.2 409.2,460.5 398.5,471.8 387.8,460.5" fill="none" stroke="#000" stroke-width="1.5" stroke-dasharray="4 1.9"/>
<path d="M387.8 460.5L390.8 461.3M387.8 460.5L388.6 463.6M387.8 460.5L385.5 462.8M387.8 460.5L384.7 459.7M387.8 460.5L386.9 457.4M387.8 460.5L390 458.2M409.2 460.5L412.3 461.3M409.2 460.5L410.1 463.6M409.2 460.5L407 462.8M409.2 460.5L406.2 459.7M409.2 460.5L408.4 457.4M409.2 460.5L411.5 458.2M398.5 449.2L401.6 450.1M398.5 449.2L399.3 452.3M398.5 449.2L396.2 451.5M398.5 449.2L395.4 448.4M398.5 449.2L397.7 446.2M398.5 449.2L400.8 447M398.5 471.8L401.6 472.6M398.5 471.8L399.3 474.8M398.5 471.8L396.2 474M398.5 471.8L395.4 470.9M398.5 471.8L397.7 468.7M398.5 471.8L400.8 469.5M398.5 460.5L401.6 461.3M398.5 460.5L399.3 463.6M398.5 460.5L396.2 462.8M398.5 460.5L395.4 459.7M398.5 460.5L397.7 457.4M398.5 460.5L400.8 458.2" fill="none" stroke="#000" stroke-width="1.5"/>
<path d="M57 483L98 483M98 483L98 524M57 524L98 524M57 483L57 524M57 503.5L98 503.5M77.5 483L77.5 524M57 483L77.5 503.5M98 483L77.5 503.5M98 524L77.5 503.5M57 524L77.5 503.5M57 483L67.2 503.5M57 483L77.5 493.2M98 483L87.8 503.5M98 483L77.5 493.2M98 524L87.8 503.5M98 524L77.5 513.8M57 524L67.2 503.5M57 524L77.5 513.8" fill="none" stroke="#000" stroke-width="1.5" stroke-dasharray="4 1.9"/>
<polyline points="67.2,503.5 77.5,493.2 87.8,503.5 77.5,513.8 67.2,503.5" fill="none" stroke="#000" stroke-width="1.5" stroke-dasharray="4 1.9"/>
<path d="M67.2 503.5L70.3 504.3M67.2 503.5L68.1 506.6M67.2 503.5L65 505.8M67.2 503.5L64.2 502.7M67.2 503.5L66.4 500.4M67.2 503.5L69.5 501.2M87.8 503.5L90.8 504.3M87.8 503.5L88.6 506.6M87.8 503.5L85.5 505.8M87.8 503.5L84.7 502.7M87.8 503.5L86.9 500.4M87.8 503.5L90 501.2M77.5 493.2L80.6 494.1M77.5 493.2L78.3 496.3M77.5 493.2L75.2 495.5M77.5 493.2L74.4 492.4M77.5 493.2L76.7 490.2M77.5 493.2L79.8 491M77.5 513.8L80.6 514.6M77.5 513.8L78.3 516.8M77.5 513.8L75.2 516M77.5 513.8L74.4 512.9M77.5 513.8L76.7 510.7M77.5 513.8L79.8 511.5M77.5 503.5L80.6 504.3M77.5 503.5L78.3 506.6M77.5 503.5L75.2 505.8M77.5 503.5L74.4 502.7M77.5 503.5L76.7 500.4M77.5 503.5L79.8 501.2" fill="none" stroke="#000" stroke-width="1.5"/>
<path d="M377 483L420 483M420 483L420 524M377 524L420 524M377 483L377 524M377 503.5L420 503.5M398.5 483L398.5 524M377 483L398.5 503.5M420 483L398.5 503.5M420 524L398.5 503.5M377 524L398.5 503.5M377 483L387.8 503.5M377 483L398.5 493.2M420 483L409.2 503.5M420 483L398.5 493.2M420 524L409.2 503.5M420 524L398.5 513.8M377 524L387.8 503.5M377 524L398.5 513.8" fill="none" stroke="#000" stroke-width="1.5" stroke-dasharray="4 1.9"/>
<polyline points="387.8,503.5 398.5,493.2 409.2,503.5 398.5,513.8 387.8,503.5" fill="none" stroke="#000" stroke-width="1.5" stroke-dasharray="4 1.9"/>
<path d="M387.8 503.5L390.8 504.3M387.8 503.5L388.6 506.6M387.8 503.5L385.5 505.8M387.8 503.5L384.7 502.7M387.8 503.5L386.9 500.4M387.8 503.5L390 501.2M409.2 503.5L412.3 504.3M409.2 503.5L410.1 506.6M409.2 503.5L407 505.8M409.2 503.5L406.2 502.7M409.2 503.5L408.4 500.4M409.2 503.5L411.5 501.2M398.5 493.2L401.6 494.1M398.5 493.2L399.3 496.3M398.5 493.2L396.2 495.5M398.5 493.2L395.4 492.4M398.5 493.2L397.7 490.2M398.5 493.2L400.8 491M398.5 513.8L401.6 514.6M398.5 513.8L399.3 516.8M398.5 513.8L396.2 516M398.5 513.8L395.4 512.9M398.5 513.8L397.7 510.7M398.5 513.8L400.8 511.5M398.5 503.5L401.6 504.3M398.5 503.5L399.3 506.6M398.5 503.5L396.2 505.8M398.5 503.5L395.4 502.7M398.5 503.5L397.7 500.4M398.5 503.5L400.8 501.2" fill="none" stroke="#000" stroke-width="1.5"/>
<path d="M57 524L98 524M98 524L98 565M57 565L98 565M57 524L57 565M57 544.5L98 544.5M77.5 524L77.5 565M57 524L77.5 544.5M98 524L77.5 544.5M98 565L77.5 544.5M57 565L77.5 544.5M57 524L67.2 544.5M57 524L77.5 534.2M98 524L87.8 544.5M98 524L77.5 534.2M98 565L87.8 544.5M98 565L77.5 554.8M57 565L67.2 544.5M57 565L77.5 554.8" fill="none" stroke="#000" stroke-width="1.5" stroke-dasharray="4 1.9"/>
<polyline points="67.2,544.5 77.5,534.2 87.8,544.5 77.5,554.8 67.2,544.5" fill="none" stroke="#000" stroke-width="1.5" stroke-dasharray="4 1.9"/>
<path d="M67.2 544.5L70.3 545.3M67.2 544.5L68.1 547.6M67.2 544.5L65 546.8M67.2 544.5L64.2 543.7M67.2 544.5L66.4 541.4M67.2 544.5L69.5 542.2M87.8 544.5L90.8 545.3M87.8 544.5L88.6 547.6M87.8 544.5L85.5 546.8M87.8 544.5L84.7 543.7M87.8 544.5L86.9 541.4M87.8 544.5L90 542.2M77.5 534.2L80.6 535.1M77.5 534.2L78.3 537.3M77.5 534.2L75.2 536.5M77.5 534.2L74.4 533.4M77.5 534.2L76.7 531.2M77.5 534.2L79.8 532M77.5 554.8L80.6 555.6M77.5 554.8L78.3 557.8M77.5 554.8L75.2 557M77.5 554.8L74.4 553.9M77.5 554.8L76.7 551.7M77.5 554.8L79.8 552.5M77.5 544.5L80.6 545.3M77.5 544.5L78.3 547.6M77.5 544.5L75.2 546.8M77.5 544.5L74.4 543.7M77.5 544.5L76.7 541.4M77.5 544.5L79.8 542.2" fill="none" stroke="#000" stroke-width="1.5"/>
<path d="M377 524L420 524M420 524L420 565M377 565L420 565M377 524L377 565M377 544.5L420 544.5M398.5 524L398.5 565M377 524L398.5 544.5M420 524L398.5 544.5M420 565L398.5 544.5M377 565L398.5 544.5M377 524L387.8 544.5M377 524L398.5 534.2M420 524L409.2 544.5M420 524L398.5 534.2M420 565L409.2 544.5M420 565L398.5 554.8M377 565L387.8 544.5M377 565L398.5 554.8" fill="none" stroke="#000" stroke-width="1.5" stroke-dasharray="4 1.9"/>
<polyline points="387.8,544.5 398.5,534.2 409.2,544.5 398.5,554.8 387.8,544.5" fill="none" stroke="#000" stroke-width="1.5" stroke-dasharray="4 1.9"/>
<path d="M387.8 544.5L390.8 545.3M387.8 544.5L388.6 547.6M387.8 544.5L385.5 546.8M387.8 544.5L384.7 543.7M387.8 544.5L386.9 541.4M387.8 544.5L390 542.2M409.2 544.5L412.3 545.3M409.2 544.5L410.1 547.6M409.2 544.5L407 546.8M409.2 544.5L406.2 543.7M409.2 544.5L408.4 541.4M409.2 544.5L411.5 542.2M398.5 534.2L401.6 535.1M398.5 534.2L399.3 537.3M398.5 534.2L396.2 536.5M398.5 534.2L395.4 533.4M398.5 534.2L397.7 531.2M398.5 534.2L400.8 532M398.5 554.8L401.6 555.6M398.5 554.8L399.3 557.8M398.5 554.8L396.2 557M398.5 554.8L395.4 553.9M398.5 554.8L397.7 551.7M398.5 554.8L400.8 552.5M398.5 544.5L401.6 545.3M398.5 544.5L399.3 547.6M398.5 544.5L396.2 546.8M398.5 544.5L395.4 543.7M398.5 544.5L397.7 541.4M398.5 544.5L400.8 542.2" fill="none" stroke="#000" stroke-width="1.5"/>
<circle cx="98.0" cy="274.5" r="3.0" fill="#000" />
<path d="M98 274.5L106.9 276.1M98 274.5L105.8 279M98 274.5L103.8 281.4M98 274.5L101.1 283M98 274.5L98 283.5M98 274.5L94.9 283M98 274.5L92.2 281.4M98 274.5L90.2 279M98 274.5L89.1 276.1" fill="none" stroke="#000" stroke-width="1.5"/>
<circle cx="98.0" cy="604.5" r="3.0" fill="#000" />
<path d="M98 604.5L89.1 602.9M98 604.5L90.2 600M98 604.5L92.2 597.6M98 604.5L94.9 596M98 604.5L98 595.5M98 604.5L101.1 596M98 604.5L103.8 597.6M98 604.5L105.8 600M98 604.5L106.9 602.9" fill="none" stroke="#000" stroke-width="1.5"/>
<circle cx="143.0" cy="274.5" r="3.0" fill="#000" />
<path d="M143 274.5L151.9 276.1M143 274.5L150.8 279M143 274.5L148.8 281.4M143 274.5L146.1 283M143 274.5L143 283.5M143 274.5L139.9 283M143 274.5L137.2 281.4M143 274.5L135.2 279M143 274.5L134.1 276.1" fill="none" stroke="#000" stroke-width="1.5"/>
<circle cx="143.0" cy="604.5" r="3.0" fill="#000" />
<path d="M143 604.5L134.1 602.9M143 604.5L135.2 600M143 604.5L137.2 597.6M143 604.5L139.9 596M143 604.5L143 595.5M143 604.5L146.1 596M143 604.5L148.8 597.6M143 604.5L150.8 600M143 604.5L151.9 602.9" fill="none" stroke="#000" stroke-width="1.5"/>
<circle cx="191.0" cy="274.5" r="3.0" fill="#000" />
<path d="M191 274.5L199.9 276.1M191 274.5L198.8 279M191 274.5L196.8 281.4M191 274.5L194.1 283M191 274.5L191 283.5M191 274.5L187.9 283M191 274.5L185.2 281.4M191 274.5L183.2 279M191 274.5L182.1 276.1" fill="none" stroke="#000" stroke-width="1.5"/>
<circle cx="191.0" cy="604.5" r="3.0" fill="#000" />
<path d="M191 604.5L182.1 602.9M191 604.5L183.2 600M191 604.5L185.2 597.6M191 604.5L187.9 596M191 604.5L191 595.5M191 604.5L194.1 596M191 604.5L196.8 597.6M191 604.5L198.8 600M191 604.5L199.9 602.9" fill="none" stroke="#000" stroke-width="1.5"/>
<circle cx="238.0" cy="274.5" r="3.0" fill="#000" />
<path d="M238 274.5L246.9 276.1M238 274.5L245.8 279M238 274.5L243.8 281.4M238 274.5L241.1 283M238 274.5L238 283.5M238 274.5L234.9 283M238 274.5L232.2 281.4M238 274.5L230.2 279M238 274.5L229.1 276.1" fill="none" stroke="#000" stroke-width="1.5"/>
<circle cx="238.0" cy="604.5" r="3.0" fill="#000" />
<path d="M238 604.5L229.1 602.9M238 604.5L230.2 600M238 604.5L232.2 597.6M238 604.5L234.9 596M238 604.5L238 595.5M238 604.5L241.1 596M238 604.5L243.8 597.6M238 604.5L245.8 600M238 604.5L246.9 602.9" fill="none" stroke="#000" stroke-width="1.5"/>
<circle cx="285.0" cy="274.5" r="3.0" fill="#000" />
<path d="M285 274.5L293.9 276.1M285 274.5L292.8 279M285 274.5L290.8 281.4M285 274.5L288.1 283M285 274.5L285 283.5M285 274.5L281.9 283M285 274.5L279.2 281.4M285 274.5L277.2 279M285 274.5L276.1 276.1" fill="none" stroke="#000" stroke-width="1.5"/>
<circle cx="285.0" cy="604.5" r="3.0" fill="#000" />
<path d="M285 604.5L276.1 602.9M285 604.5L277.2 600M285 604.5L279.2 597.6M285 604.5L281.9 596M285 604.5L285 595.5M285 604.5L288.1 596M285 604.5L290.8 597.6M285 604.5L292.8 600M285 604.5L293.9 602.9" fill="none" stroke="#000" stroke-width="1.5"/>
<circle cx="331.0" cy="274.5" r="3.0" fill="#000" />
<path d="M331 274.5L339.9 276.1M331 274.5L338.8 279M331 274.5L336.8 281.4M331 274.5L334.1 283M331 274.5L331 283.5M331 274.5L327.9 283M331 274.5L325.2 281.4M331 274.5L323.2 279M331 274.5L322.1 276.1" fill="none" stroke="#000" stroke-width="1.5"/>
<circle cx="331.0" cy="604.5" r="3.0" fill="#000" />
<path d="M331 604.5L322.1 602.9M331 604.5L323.2 600M331 604.5L325.2 597.6M331 604.5L327.9 596M331 604.5L331 595.5M331 604.5L334.1 596M331 604.5L336.8 597.6M331 604.5L338.8 600M331 604.5L339.9 602.9" fill="none" stroke="#000" stroke-width="1.5"/>
<circle cx="377.0" cy="274.5" r="3.0" fill="#000" />
<path d="M377 274.5L385.9 276.1M377 274.5L384.8 279M377 274.5L382.8 281.4M377 274.5L380.1 283M377 274.5L377 283.5M377 274.5L373.9 283M377 274.5L371.2 281.4M377 274.5L369.2 279M377 274.5L368.1 276.1" fill="none" stroke="#000" stroke-width="1.5"/>
<circle cx="377.0" cy="604.5" r="3.0" fill="#000" />
<path d="M377 604.5L368.1 602.9M377 604.5L369.2 600M377 604.5L371.2 597.6M377 604.5L373.9 596M377 604.5L377 595.5M377 604.5L380.1 596M377 604.5L382.8 597.6M377 604.5L384.8 600M377 604.5L385.9 602.9" fill="none" stroke="#000" stroke-width="1.5"/>
<circle cx="57.5" cy="311.0" r="3.0" fill="#000" />
<path d="M57.5 311L59.1 302.1M57.5 311L62 303.2M57.5 311L64.4 305.2M57.5 311L66 307.9M57.5 311L66.5 311M57.5 311L66 314.1M57.5 311L64.4 316.8M57.5 311L62 318.8M57.5 311L59.1 319.9" fill="none" stroke="#000" stroke-width="1.5"/>
<circle cx="419.5" cy="311.0" r="3.0" fill="#000" />
<path d="M419.5 311L417.9 319.9M419.5 311L415 318.8M419.5 311L412.6 316.8M419.5 311L411 314.1M419.5 311L410.5 311M419.5 311L411 307.9M419.5 311L412.6 305.2M419.5 311L415 303.2M419.5 311L417.9 302.1" fill="none" stroke="#000" stroke-width="1.5"/>
<circle cx="57.5" cy="355.0" r="3.0" fill="#000" />
<path d="M57.5 355L59.1 346.1M57.5 355L62 347.2M57.5 355L64.4 349.2M57.5 355L66 351.9M57.5 355L66.5 355M57.5 355L66 358.1M57.5 355L64.4 360.8M57.5 355L62 362.8M57.5 355L59.1 363.9" fill="none" stroke="#000" stroke-width="1.5"/>
<circle cx="419.5" cy="355.0" r="3.0" fill="#000" />
<path d="M419.5 355L417.9 363.9M419.5 355L415 362.8M419.5 355L412.6 360.8M419.5 355L411 358.1M419.5 355L410.5 355M419.5 355L411 351.9M419.5 355L412.6 349.2M419.5 355L415 347.2M419.5 355L417.9 346.1" fill="none" stroke="#000" stroke-width="1.5"/>
<circle cx="57.5" cy="398.0" r="3.0" fill="#000" />
<path d="M57.5 398L59.1 389.1M57.5 398L62 390.2M57.5 398L64.4 392.2M57.5 398L66 394.9M57.5 398L66.5 398M57.5 398L66 401.1M57.5 398L64.4 403.8M57.5 398L62 405.8M57.5 398L59.1 406.9" fill="none" stroke="#000" stroke-width="1.5"/>
<circle cx="419.5" cy="398.0" r="3.0" fill="#000" />
<path d="M419.5 398L417.9 406.9M419.5 398L415 405.8M419.5 398L412.6 403.8M419.5 398L411 401.1M419.5 398L410.5 398M419.5 398L411 394.9M419.5 398L412.6 392.2M419.5 398L415 390.2M419.5 398L417.9 389.1" fill="none" stroke="#000" stroke-width="1.5"/>
<circle cx="57.5" cy="438.0" r="3.0" fill="#000" />
<path d="M57.5 438L59.1 429.1M57.5 438L62 430.2M57.5 438L64.4 432.2M57.5 438L66 434.9M57.5 438L66.5 438M57.5 438L66 441.1M57.5 438L64.4 443.8M57.5 438L62 445.8M57.5 438L59.1 446.9" fill="none" stroke="#000" stroke-width="1.5"/>
<circle cx="419.5" cy="438.0" r="3.0" fill="#000" />
<path d="M419.5 438L417.9 446.9M419.5 438L415 445.8M419.5 438L412.6 443.8M419.5 438L411 441.1M419.5 438L410.5 438M419.5 438L411 434.9M419.5 438L412.6 432.2M419.5 438L415 430.2M419.5 438L417.9 429.1" fill="none" stroke="#000" stroke-width="1.5"/>
<circle cx="57.5" cy="483.0" r="3.0" fill="#000" />
<path d="M57.5 483L59.1 474.1M57.5 483L62 475.2M57.5 483L64.4 477.2M57.5 483L66 479.9M57.5 483L66.5 483M57.5 483L66 486.1M57.5 483L64.4 488.8M57.5 483L62 490.8M57.5 483L59.1 491.9" fill="none" stroke="#000" stroke-width="1.5"/>
<circle cx="419.5" cy="483.0" r="3.0" fill="#000" />
<path d="M419.5 483L417.9 491.9M419.5 483L415 490.8M419.5 483L412.6 488.8M419.5 483L411 486.1M419.5 483L410.5 483M419.5 483L411 479.9M419.5 483L412.6 477.2M419.5 483L415 475.2M419.5 483L417.9 474.1" fill="none" stroke="#000" stroke-width="1.5"/>
<circle cx="57.5" cy="524.0" r="3.0" fill="#000" />
<path d="M57.5 524L59.1 515.1M57.5 524L62 516.2M57.5 524L64.4 518.2M57.5 524L66 520.9M57.5 524L66.5 524M57.5 524L66 527.1M57.5 524L64.4 529.8M57.5 524L62 531.8M57.5 524L59.1 532.9" fill="none" stroke="#000" stroke-width="1.5"/>
<circle cx="419.5" cy="524.0" r="3.0" fill="#000" />
<path d="M419.5 524L417.9 532.9M419.5 524L415 531.8M419.5 524L412.6 529.8M419.5 524L411 527.1M419.5 524L410.5 524M419.5 524L411 520.9M419.5 524L412.6 518.2M419.5 524L415 516.2M419.5 524L417.9 515.1" fill="none" stroke="#000" stroke-width="1.5"/>
<circle cx="57.5" cy="565.0" r="3.0" fill="#000" />
<path d="M57.5 565L59.1 556.1M57.5 565L62 557.2M57.5 565L64.4 559.2M57.5 565L66 561.9M57.5 565L66.5 565M57.5 565L66 568.1M57.5 565L64.4 570.8M57.5 565L62 572.8M57.5 565L59.1 573.9" fill="none" stroke="#000" stroke-width="1.5"/>
<circle cx="419.5" cy="565.0" r="3.0" fill="#000" />
<path d="M419.5 565L417.9 573.9M419.5 565L415 572.8M419.5 565L412.6 570.8M419.5 565L411 568.1M419.5 565L410.5 565M419.5 565L411 561.9M419.5 565L412.6 559.2M419.5 565L415 557.2M419.5 565L417.9 556.1" fill="none" stroke="#000" stroke-width="1.5"/>
<path d="M115 315.5L360 315.5" fill="none" stroke="#000" stroke-width="1.3"/>
<path d="M118 320L357 320" fill="none" stroke="#000" stroke-width="2.2" stroke-dasharray="2.2 4.2"/>
<path d="M125 325L350 325" fill="none" stroke="#000" stroke-width="1.3" stroke-dasharray="5 2.5"/>
<path d="M130 329.5L345 329.5" fill="none" stroke="#000" stroke-width="1.3" stroke-dasharray="4 2.5"/>
<rect x="139.0" y="310.0" width="8.0" height="20.0" fill="#000" />
<rect x="137.5" y="312.0" width="11.0" height="6.0" fill="#000" />
<circle cx="143.0" cy="312.5" r="3.6" fill="#000" />
<path d="M143 312.5L133.2 310.8M143 312.5L134.3 307.5M143 312.5L136.6 304.8M143 312.5L139.6 303.1M143 312.5L143 302.5M143 312.5L146.4 303.1M143 312.5L149.4 304.8M143 312.5L151.7 307.5M143 312.5L152.8 310.8" fill="none" stroke="#000" stroke-width="1.5"/>
<rect x="187.0" y="310.0" width="8.0" height="20.0" fill="#000" />
<rect x="185.5" y="312.0" width="11.0" height="6.0" fill="#000" />
<circle cx="191.0" cy="312.5" r="3.6" fill="#000" />
<path d="M191 312.5L181.2 310.8M191 312.5L182.3 307.5M191 312.5L184.6 304.8M191 312.5L187.6 303.1M191 312.5L191 302.5M191 312.5L194.4 303.1M191 312.5L197.4 304.8M191 312.5L199.7 307.5M191 312.5L200.8 310.8" fill="none" stroke="#000" stroke-width="1.5"/>
<rect x="234.0" y="310.0" width="8.0" height="20.0" fill="#000" />
<rect x="232.5" y="312.0" width="11.0" height="6.0" fill="#000" />
<circle cx="238.0" cy="312.5" r="3.6" fill="#000" />
<path d="M238 312.5L228.2 310.8M238 312.5L229.3 307.5M238 312.5L231.6 304.8M238 312.5L234.6 303.1M238 312.5L238 302.5M238 312.5L241.4 303.1M238 312.5L244.4 304.8M238 312.5L246.7 307.5M238 312.5L247.8 310.8" fill="none" stroke="#000" stroke-width="1.5"/>
<rect x="281.0" y="310.0" width="8.0" height="20.0" fill="#000" />
<rect x="279.5" y="312.0" width="11.0" height="6.0" fill="#000" />
<circle cx="285.0" cy="312.5" r="3.6" fill="#000" />
<path d="M285 312.5L275.2 310.8M285 312.5L276.3 307.5M285 312.5L278.6 304.8M285 312.5L281.6 303.1M285 312.5L285 302.5M285 312.5L288.4 303.1M285 312.5L291.4 304.8M285 312.5L293.7 307.5M285 312.5L294.8 310.8" fill="none" stroke="#000" stroke-width="1.5"/>
<rect x="327.0" y="310.0" width="8.0" height="20.0" fill="#000" />
<rect x="325.5" y="312.0" width="11.0" height="6.0" fill="#000" />
<circle cx="331.0" cy="312.5" r="3.6" fill="#000" />
<path d="M331 312.5L321.2 310.8M331 312.5L322.3 307.5M331 312.5L324.6 304.8M331 312.5L327.6 303.1M331 312.5L331 302.5M331 312.5L334.4 303.1M331 312.5L337.4 304.8M331 312.5L339.7 307.5M331 312.5L340.8 310.8" fill="none" stroke="#000" stroke-width="1.5"/>
<path d="M115 561L360 561" fill="none" stroke="#000" stroke-width="1.3"/>
<path d="M118 556.5L357 556.5" fill="none" stroke="#000" stroke-width="2.2" stroke-dasharray="2.2 4.2"/>
<path d="M125 551.5L350 551.5" fill="none" stroke="#000" stroke-width="1.3" stroke-dasharray="5 2.5"/>
<path d="M130 549L345 549" fill="none" stroke="#000" stroke-width="1.3" stroke-dasharray="4 2.5"/>
<rect x="139.0" y="548.5" width="8.0" height="18.0" fill="#000" />
<rect x="137.5" y="558.5" width="11.0" height="6.0" fill="#000" />
<circle cx="143.0" cy="564.0" r="3.6" fill="#000" />
<path d="M143 564L152.8 565.7M143 564L151.7 569M143 564L149.4 571.7M143 564L146.4 573.4M143 564L143 574M143 564L139.6 573.4M143 564L136.6 571.7M143 564L134.3 569M143 564L133.2 565.7" fill="none" stroke="#000" stroke-width="1.5"/>
<rect x="187.0" y="548.5" width="8.0" height="18.0" fill="#000" />
<rect x="185.5" y="558.5" width="11.0" height="6.0" fill="#000" />
<circle cx="191.0" cy="564.0" r="3.6" fill="#000" />
<path d="M191 564L200.8 565.7M191 564L199.7 569M191 564L197.4 571.7M191 564L194.4 573.4M191 564L191 574M191 564L187.6 573.4M191 564L184.6 571.7M191 564L182.3 569M191 564L181.2 565.7" fill="none" stroke="#000" stroke-width="1.5"/>
<rect x="234.0" y="548.5" width="8.0" height="18.0" fill="#000" />
<rect x="232.5" y="558.5" width="11.0" height="6.0" fill="#000" />
<circle cx="238.0" cy="564.0" r="3.6" fill="#000" />
<path d="M238 564L247.8 565.7M238 564L246.7 569M238 564L244.4 571.7M238 564L241.4 573.4M238 564L238 574M238 564L234.6 573.4M238 564L231.6 571.7M238 564L229.3 569M238 564L228.2 565.7" fill="none" stroke="#000" stroke-width="1.5"/>
<rect x="281.0" y="548.5" width="8.0" height="18.0" fill="#000" />
<rect x="279.5" y="558.5" width="11.0" height="6.0" fill="#000" />
<circle cx="285.0" cy="564.0" r="3.6" fill="#000" />
<path d="M285 564L294.8 565.7M285 564L293.7 569M285 564L291.4 571.7M285 564L288.4 573.4M285 564L285 574M285 564L281.6 573.4M285 564L278.6 571.7M285 564L276.3 569M285 564L275.2 565.7" fill="none" stroke="#000" stroke-width="1.5"/>
<rect x="327.0" y="548.5" width="8.0" height="18.0" fill="#000" />
<rect x="325.5" y="558.5" width="11.0" height="6.0" fill="#000" />
<circle cx="331.0" cy="564.0" r="3.6" fill="#000" />
<path d="M331 564L340.8 565.7M331 564L339.7 569M331 564L337.4 571.7M331 564L334.4 573.4M331 564L331 574M331 564L327.6 573.4M331 564L324.6 571.7M331 564L322.3 569M331 564L321.2 565.7" fill="none" stroke="#000" stroke-width="1.5"/>
<path d="M102.5 353L102.5 527" fill="none" stroke="#000" stroke-width="1.3"/>
<path d="M107 356L107 524" fill="none" stroke="#000" stroke-width="2.2" stroke-dasharray="2.2 4.2"/>
<path d="M112 358L112 522" fill="none" stroke="#000" stroke-width="1.3" stroke-dasharray="5 2.5"/>
<path d="M114.5 360L114.5 520" fill="none" stroke="#000" stroke-width="1.3" stroke-dasharray="4 2.5"/>
<rect x="95.0" y="353.0" width="20.0" height="8.0" fill="#000" />
<rect x="96.0" y="351.5" width="8.0" height="11.0" fill="#000" />
<circle cx="97.0" cy="357.0" r="3.6" fill="#000" />
<path d="M97 357L95.3 366.8M97 357L92 365.7M97 357L89.3 363.4M97 357L87.6 360.4M97 357L87 357M97 357L87.6 353.6M97 357L89.3 350.6M97 357L92 348.3M97 357L95.3 347.2" fill="none" stroke="#000" stroke-width="1.5"/>
<rect x="95.0" y="394.5" width="20.0" height="8.0" fill="#000" />
<rect x="96.0" y="393.0" width="8.0" height="11.0" fill="#000" />
<circle cx="97.0" cy="398.5" r="3.6" fill="#000" />
<path d="M97 398.5L95.3 408.3M97 398.5L92 407.2M97 398.5L89.3 404.9M97 398.5L87.6 401.9M97 398.5L87 398.5M97 398.5L87.6 395.1M97 398.5L89.3 392.1M97 398.5L92 389.8M97 398.5L95.3 388.7" fill="none" stroke="#000" stroke-width="1.5"/>
<rect x="95.0" y="434.0" width="20.0" height="8.0" fill="#000" />
<rect x="96.0" y="432.5" width="8.0" height="11.0" fill="#000" />
<circle cx="97.0" cy="438.0" r="3.6" fill="#000" />
<path d="M97 438L95.3 447.8M97 438L92 446.7M97 438L89.3 444.4M97 438L87.6 441.4M97 438L87 438M97 438L87.6 434.6M97 438L89.3 431.6M97 438L92 429.3M97 438L95.3 428.2" fill="none" stroke="#000" stroke-width="1.5"/>
<rect x="95.0" y="479.0" width="20.0" height="8.0" fill="#000" />
<rect x="96.0" y="477.5" width="8.0" height="11.0" fill="#000" />
<circle cx="97.0" cy="483.0" r="3.6" fill="#000" />
<path d="M97 483L95.3 492.8M97 483L92 491.7M97 483L89.3 489.4M97 483L87.6 486.4M97 483L87 483M97 483L87.6 479.6M97 483L89.3 476.6M97 483L92 474.3M97 483L95.3 473.2" fill="none" stroke="#000" stroke-width="1.5"/>
<rect x="95.0" y="519.5" width="20.0" height="8.0" fill="#000" />
<rect x="96.0" y="518.0" width="8.0" height="11.0" fill="#000" />
<circle cx="97.0" cy="523.5" r="3.6" fill="#000" />
<path d="M97 523.5L95.3 533.3M97 523.5L92 532.2M97 523.5L89.3 529.9M97 523.5L87.6 526.9M97 523.5L87 523.5M97 523.5L87.6 520.1M97 523.5L89.3 517.1M97 523.5L92 514.8M97 523.5L95.3 513.7" fill="none" stroke="#000" stroke-width="1.5"/>
<path d="M373 353L373 527" fill="none" stroke="#000" stroke-width="1.3"/>
<path d="M368.5 356L368.5 524" fill="none" stroke="#000" stroke-width="2.2" stroke-dasharray="2.2 4.2"/>
<path d="M363.5 358L363.5 522" fill="none" stroke="#000" stroke-width="1.3" stroke-dasharray="5 2.5"/>
<path d="M360.5 360L360.5 520" fill="none" stroke="#000" stroke-width="1.3" stroke-dasharray="4 2.5"/>
<rect x="360.0" y="353.0" width="20.5" height="8.0" fill="#000" />
<rect x="371.5" y="351.5" width="8.0" height="11.0" fill="#000" />
<circle cx="378.5" cy="357.0" r="3.6" fill="#000" />
<path d="M378.5 357L380.2 347.2M378.5 357L383.5 348.3M378.5 357L386.2 350.6M378.5 357L387.9 353.6M378.5 357L388.5 357M378.5 357L387.9 360.4M378.5 357L386.2 363.4M378.5 357L383.5 365.7M378.5 357L380.2 366.8" fill="none" stroke="#000" stroke-width="1.5"/>
<rect x="360.0" y="394.5" width="20.5" height="8.0" fill="#000" />
<rect x="371.5" y="393.0" width="8.0" height="11.0" fill="#000" />
<circle cx="378.5" cy="398.5" r="3.6" fill="#000" />
<path d="M378.5 398.5L380.2 388.7M378.5 398.5L383.5 389.8M378.5 398.5L386.2 392.1M378.5 398.5L387.9 395.1M378.5 398.5L388.5 398.5M378.5 398.5L387.9 401.9M378.5 398.5L386.2 404.9M378.5 398.5L383.5 407.2M378.5 398.5L380.2 408.3" fill="none" stroke="#000" stroke-width="1.5"/>
<rect x="360.0" y="434.0" width="20.5" height="8.0" fill="#000" />
<rect x="371.5" y="432.5" width="8.0" height="11.0" fill="#000" />
<circle cx="378.5" cy="438.0" r="3.6" fill="#000" />
<path d="M378.5 438L380.2 428.2M378.5 438L383.5 429.3M378.5 438L386.2 431.6M378.5 438L387.9 434.6M378.5 438L388.5 438M378.5 438L387.9 441.4M378.5 438L386.2 444.4M378.5 438L383.5 446.7M378.5 438L380.2 447.8" fill="none" stroke="#000" stroke-width="1.5"/>
<rect x="360.0" y="479.0" width="20.5" height="8.0" fill="#000" />
<rect x="371.5" y="477.5" width="8.0" height="11.0" fill="#000" />
<circle cx="378.5" cy="483.0" r="3.6" fill="#000" />
<path d="M378.5 483L380.2 473.2M378.5 483L383.5 474.3M378.5 483L386.2 476.6M378.5 483L387.9 479.6M378.5 483L388.5 483M378.5 483L387.9 486.4M378.5 483L386.2 489.4M378.5 483L383.5 491.7M378.5 483L380.2 492.8" fill="none" stroke="#000" stroke-width="1.5"/>
<rect x="360.0" y="519.5" width="20.5" height="8.0" fill="#000" />
<rect x="371.5" y="518.0" width="8.0" height="11.0" fill="#000" />
<circle cx="378.5" cy="523.5" r="3.6" fill="#000" />
<path d="M378.5 523.5L380.2 513.7M378.5 523.5L383.5 514.8M378.5 523.5L386.2 517.1M378.5 523.5L387.9 520.1M378.5 523.5L388.5 523.5M378.5 523.5L387.9 526.9M378.5 523.5L386.2 529.9M378.5 523.5L383.5 532.2M378.5 523.5L380.2 533.3" fill="none" stroke="#000" stroke-width="1.5"/>
<polygon points="95.5,311.0 115.5,322.0 106.5,331.0 93.5,314.0" fill="#000" />
<circle cx="102.0" cy="319.5" r="7.2" fill="#000" />
<circle cx="100.5" cy="318.0" r="5.0" fill="#000" />
<path d="M100.5 318L112.8 320.4M100.5 318L110.9 324.9M100.5 318L107.4 328.4M100.5 318L102.9 330.3M100.5 318L98.1 330.3M100.5 318L93.6 328.4M100.5 318L90.1 324.9M100.5 318L88.2 320.4M100.5 318L88.2 315.6M100.5 318L90.1 311.1M100.5 318L93.6 307.6M100.5 318L98.1 305.7M100.5 318L102.9 305.7M100.5 318L107.4 307.6M100.5 318L110.9 311.1M100.5 318L112.8 315.6M120.5 338L125 338M120.5 338L123.7 341.2M120.5 338L120.5 342.5M120.5 338L117.3 341.2M120.5 338L116 338M120.5 338L117.3 334.8M120.5 338L120.5 333.5M120.5 338L123.7 334.8M111.5 346L115 346M111.5 346L113.2 349M111.5 346L109.8 349M111.5 346L108 346M111.5 346L109.8 343M111.5 346L113.2 343M128.5 329L132 329M128.5 329L130.2 332M128.5 329L126.8 332M128.5 329L125 329M128.5 329L126.8 326M128.5 329L130.2 326" fill="none" stroke="#000" stroke-width="1.5"/>
<path d="M116.5 355L139.5 331M114 351.5L136 328.5M110.5 348L132.5 325" fill="none" stroke="#000" stroke-width="1.4" stroke-dasharray="4 2"/>
<path d="M120.5 338L116.5 355M120.5 338L139.5 331M120.5 338L108.5 326M120.5 338L144.5 320M120.5 338L102.5 356M120.5 338L130.5 324M120.5 338L106.5 348M114.5 323L144.5 320M105.5 332L102.5 356M112.5 330L116.5 355M112.5 330L139.5 331" fill="none" stroke="#000" stroke-width="1.4" stroke-dasharray="3.5 2"/>
<path d="M109.5 345L112.5 345M109.5 345L111 347.6M109.5 345L108 347.6M109.5 345L106.5 345M109.5 345L108 342.4M109.5 345L111 342.4M127.5 327L130.5 327M127.5 327L129 329.6M127.5 327L126 329.6M127.5 327L124.5 327M127.5 327L126 324.4M127.5 327L129 324.4" fill="none" stroke="#000" stroke-width="1.4"/>
<polygon points="377.5,311.0 357.5,322.0 366.5,331.0 379.5,314.0" fill="#000" />
<circle cx="371.0" cy="319.5" r="7.2" fill="#000" />
<circle cx="372.5" cy="318.0" r="5.0" fill="#000" />
<path d="M372.5 318L384.8 320.4M372.5 318L382.9 324.9M372.5 318L379.4 328.4M372.5 318L374.9 330.3M372.5 318L370.1 330.3M372.5 318L365.6 328.4M372.5 318L362.1 324.9M372.5 318L360.2 320.4M372.5 318L360.2 315.6M372.5 318L362.1 311.1M372.5 318L365.6 307.6M372.5 318L370.1 305.7M372.5 318L374.9 305.7M372.5 318L379.4 307.6M372.5 318L382.9 311.1M372.5 318L384.8 315.6M352.5 338L357 338M352.5 338L355.7 341.2M352.5 338L352.5 342.5M352.5 338L349.3 341.2M352.5 338L348 338M352.5 338L349.3 334.8M352.5 338L352.5 333.5M352.5 338L355.7 334.8M361.5 346L365 346M361.5 346L363.2 349M361.5 346L359.8 349M361.5 346L358 346M361.5 346L359.8 343M361.5 346L363.2 343M344.5 329L348 329M344.5 329L346.2 332M344.5 329L342.8 332M344.5 329L341 329M344.5 329L342.8 326M344.5 329L346.2 326" fill="none" stroke="#000" stroke-width="1.5"/>
<path d="M356.5 355L333.5 331M359 351.5L337 328.5M362.5 348L340.5 325" fill="none" stroke="#000" stroke-width="1.4" stroke-dasharray="4 2"/>
<path d="M352.5 338L356.5 355M352.5 338L333.5 331M352.5 338L364.5 326M352.5 338L328.5 320M352.5 338L370.5 356M352.5 338L342.5 324M352.5 338L366.5 348M358.5 323L328.5 320M367.5 332L370.5 356M360.5 330L356.5 355M360.5 330L333.5 331" fill="none" stroke="#000" stroke-width="1.4" stroke-dasharray="3.5 2"/>
<path d="M363.5 345L366.5 345M363.5 345L365 347.6M363.5 345L362 347.6M363.5 345L360.5 345M363.5 345L362 342.4M363.5 345L365 342.4M345.5 327L348.5 327M345.5 327L347 329.6M345.5 327L344 329.6M345.5 327L342.5 327M345.5 327L344 324.4M345.5 327L347 324.4" fill="none" stroke="#000" stroke-width="1.4"/>
<polygon points="95.5,565.5 115.5,554.5 106.5,545.5 93.5,562.5" fill="#000" />
<circle cx="102.0" cy="557.0" r="7.2" fill="#000" />
<circle cx="100.5" cy="558.5" r="5.0" fill="#000" />
<path d="M100.5 558.5L112.8 560.9M100.5 558.5L110.9 565.4M100.5 558.5L107.4 568.9M100.5 558.5L102.9 570.8M100.5 558.5L98.1 570.8M100.5 558.5L93.6 568.9M100.5 558.5L90.1 565.4M100.5 558.5L88.2 560.9M100.5 558.5L88.2 556.1M100.5 558.5L90.1 551.6M100.5 558.5L93.6 548.1M100.5 558.5L98.1 546.2M100.5 558.5L102.9 546.2M100.5 558.5L107.4 548.1M100.5 558.5L110.9 551.6M100.5 558.5L112.8 556.1M120.5 538.5L125 538.5M120.5 538.5L123.7 541.7M120.5 538.5L120.5 543M120.5 538.5L117.3 541.7M120.5 538.5L116 538.5M120.5 538.5L117.3 535.3M120.5 538.5L120.5 534M120.5 538.5L123.7 535.3M111.5 530.5L115 530.5M111.5 530.5L113.2 533.5M111.5 530.5L109.8 533.5M111.5 530.5L108 530.5M111.5 530.5L109.8 527.5M111.5 530.5L113.2 527.5M128.5 547.5L132 547.5M128.5 547.5L130.2 550.5M128.5 547.5L126.8 550.5M128.5 547.5L125 547.5M128.5 547.5L126.8 544.5M128.5 547.5L130.2 544.5" fill="none" stroke="#000" stroke-width="1.5"/>
<path d="M116.5 521.5L139.5 545.5M114 525L136 548M110.5 528.5L132.5 551.5" fill="none" stroke="#000" stroke-width="1.4" stroke-dasharray="4 2"/>
<path d="M120.5 538.5L116.5 521.5M120.5 538.5L139.5 545.5M120.5 538.5L108.5 550.5M120.5 538.5L144.5 556.5M120.5 538.5L102.5 520.5M120.5 538.5L130.5 552.5M120.5 538.5L106.5 528.5M114.5 553.5L144.5 556.5M105.5 544.5L102.5 520.5M112.5 546.5L116.5 521.5M112.5 546.5L139.5 545.5" fill="none" stroke="#000" stroke-width="1.4" stroke-dasharray="3.5 2"/>
<path d="M109.5 531.5L112.5 531.5M109.5 531.5L111 534.1M109.5 531.5L108 534.1M109.5 531.5L106.5 531.5M109.5 531.5L108 528.9M109.5 531.5L111 528.9M127.5 549.5L130.5 549.5M127.5 549.5L129 552.1M127.5 549.5L126 552.1M127.5 549.5L124.5 549.5M127.5 549.5L126 546.9M127.5 549.5L129 546.9" fill="none" stroke="#000" stroke-width="1.4"/>
<polygon points="377.5,565.5 357.5,554.5 366.5,545.5 379.5,562.5" fill="#000" />
<circle cx="371.0" cy="557.0" r="7.2" fill="#000" />
<circle cx="372.5" cy="558.5" r="5.0" fill="#000" />
<path d="M372.5 558.5L384.8 560.9M372.5 558.5L382.9 565.4M372.5 558.5L379.4 568.9M372.5 558.5L374.9 570.8M372.5 558.5L370.1 570.8M372.5 558.5L365.6 568.9M372.5 558.5L362.1 565.4M372.5 558.5L360.2 560.9M372.5 558.5L360.2 556.1M372.5 558.5L362.1 551.6M372.5 558.5L365.6 548.1M372.5 558.5L370.1 546.2M372.5 558.5L374.9 546.2M372.5 558.5L379.4 548.1M372.5 558.5L382.9 551.6M372.5 558.5L384.8 556.1M352.5 538.5L357 538.5M352.5 538.5L355.7 541.7M352.5 538.5L352.5 543M352.5 538.5L349.3 541.7M352.5 538.5L348 538.5M352.5 538.5L349.3 535.3M352.5 538.5L352.5 534M352.5 538.5L355.7 535.3M361.5 530.5L365 530.5M361.5 530.5L363.2 533.5M361.5 530.5L359.8 533.5M361.5 530.5L358 530.5M361.5 530.5L359.8 527.5M361.5 530.5L363.2 527.5M344.5 547.5L348 547.5M344.5 547.5L346.2 550.5M344.5 547.5L342.8 550.5M344.5 547.5L341 547.5M344.5 547.5L342.8 544.5M344.5 547.5L346.2 544.5" fill="none" stroke="#000" stroke-width="1.5"/>
<path d="M356.5 521.5L333.5 545.5M359 525L337 548M362.5 528.5L340.5 551.5" fill="none" stroke="#000" stroke-width="1.4" stroke-dasharray="4 2"/>
<path d="M352.5 538.5L356.5 521.5M352.5 538.5L333.5 545.5M352.5 538.5L364.5 550.5M352.5 538.5L328.5 556.5M352.5 538.5L370.5 520.5M352.5 538.5L342.5 552.5M352.5 538.5L366.5 528.5M358.5 553.5L328.5 556.5M367.5 544.5L370.5 520.5M360.5 546.5L356.5 521.5M360.5 546.5L333.5 545.5" fill="none" stroke="#000" stroke-width="1.4" stroke-dasharray="3.5 2"/>
<path d="M363.5 531.5L366.5 531.5M363.5 531.5L365 534.1M363.5 531.5L362 534.1M363.5 531.5L360.5 531.5M363.5 531.5L362 528.9M363.5 531.5L365 528.9M345.5 549.5L348.5 549.5M345.5 549.5L347 552.1M345.5 549.5L344 552.1M345.5 549.5L342.5 549.5M345.5 549.5L344 546.9M345.5 549.5L347 546.9" fill="none" stroke="#000" stroke-width="1.4"/>
<rect x="124.5" y="157.0" width="13.0" height="10.0" fill="#fcfcfc" />
<path d="M123.5 160.3L138.5 160.3M123.5 163.7L138.5 163.7" fill="none" stroke="#000" stroke-width="1.1"/>
<path d="M126 157L126 167M136 157L136 167" fill="none" stroke="#000" stroke-width="1"/>
<rect x="168.0" y="157.0" width="13.0" height="10.0" fill="#fcfcfc" />
<path d="M167 160.3L182 160.3M167 163.7L182 163.7" fill="none" stroke="#000" stroke-width="1.1"/>
<path d="M169.5 157L169.5 167M179.5 157L179.5 167" fill="none" stroke="#000" stroke-width="1"/>
<rect x="125.5" y="263.5" width="13.0" height="9.5" fill="#fcfcfc" />
<path d="M124.5 266.7L139.5 266.7M124.5 269.8L139.5 269.8" fill="none" stroke="#000" stroke-width="1.1"/>
<path d="M127 263.5L127 273M137 263.5L137 273" fill="none" stroke="#000" stroke-width="1"/>
<rect x="147.0" y="263.5" width="13.0" height="9.5" fill="#fcfcfc" />
<path d="M146 266.7L161 266.7M146 269.8L161 269.8" fill="none" stroke="#000" stroke-width="1.1"/>
<path d="M148.5 263.5L148.5 273M158.5 263.5L158.5 273" fill="none" stroke="#000" stroke-width="1"/>
<path d="M99 212.5L79 168M99 212.5L60 186M99 212.5L60 213M99 212.5L60 244M99 212.5L79 262M99 212.5L104 168M99 212.5L104 262M79 168L84.2 194.8M60 186L84.2 194.8M84.2 194.8L99 212.5M60 186L79.5 206M60 213L79.5 206M79.5 206L99 212.5M60 213L79.5 220.5M60 244L79.5 220.5M79.5 220.5L99 212.5M60 244L84.2 232.8M79 262L84.2 232.8M84.2 232.8L99 212.5M104 168L95.2 190.2M79 168L95.2 190.2M95.2 190.2L99 212.5M79 262L95.2 237.2M104 262L95.2 237.2M95.2 237.2L99 212.5M60 213L110 213" fill="none" stroke="#000" stroke-width="1.3" stroke-dasharray="4 1.9"/>
<path d="M84.2 194.8L86.8 194.8M84.2 194.8L85.5 197M84.2 194.8L83 197M84.2 194.8L81.7 194.8M84.2 194.8L83 192.5M84.2 194.8L85.5 192.5M79.5 206L82.1 206M79.5 206L80.8 208.3M79.5 206L78.2 208.3M79.5 206L76.9 206M79.5 206L78.2 203.7M79.5 206L80.8 203.7M79.5 220.5L82.1 220.5M79.5 220.5L80.8 222.8M79.5 220.5L78.2 222.8M79.5 220.5L76.9 220.5M79.5 220.5L78.2 218.2M79.5 220.5L80.8 218.2M84.2 232.8L86.8 232.8M84.2 232.8L85.5 235M84.2 232.8L83 235M84.2 232.8L81.7 232.8M84.2 232.8L83 230.5M84.2 232.8L85.5 230.5M95.2 190.2L97.8 190.2M95.2 190.2L96.5 192.5M95.2 190.2L94 192.5M95.2 190.2L92.7 190.2M95.2 190.2L94 188M95.2 190.2L96.5 188M95.2 237.2L97.8 237.2M95.2 237.2L96.5 239.5M95.2 237.2L94 239.5M95.2 237.2L92.7 237.2M95.2 237.2L94 235M95.2 237.2L96.5 235" fill="none" stroke="#000" stroke-width="1.3"/>
<path d="M100.2 172L100.2 259M103.3 172L103.3 259M106.4 172L106.4 259M109.5 172L109.5 259" fill="none" stroke="#000" stroke-width="1.5" stroke-dasharray="5 2"/>
<path d="M109.5 214.5L153.5 214.5M131.5 168L131.5 261M109.5 168L131.5 214.5M109.5 168L131.5 177.3M109.5 168L131.5 188.5M109.5 168L131.5 201.5M109.5 168L121.4 205.2M109.5 168L121.4 214.5M153.5 168L131.5 214.5M153.5 168L131.5 177.3M153.5 168L131.5 188.5M153.5 168L131.5 201.5M153.5 168L141.6 205.2M153.5 168L141.6 214.5M153.5 261L131.5 214.5M153.5 261L131.5 251.7M153.5 261L131.5 240.5M153.5 261L131.5 227.5M153.5 261L141.6 223.8M153.5 261L141.6 214.5M109.5 261L131.5 214.5M109.5 261L131.5 251.7M109.5 261L131.5 240.5M109.5 261L131.5 227.5M109.5 261L121.4 223.8M109.5 261L121.4 214.5M153.5 214.5L197 214.5M175.2 168L175.2 261M153.5 168L175.2 214.5M153.5 168L175.2 177.3M153.5 168L175.2 188.5M153.5 168L175.2 201.5M153.5 168L165.2 205.2M153.5 168L165.2 214.5M197 168L175.2 214.5M197 168L175.2 177.3M197 168L175.2 188.5M197 168L175.2 201.5M197 168L185.3 205.2M197 168L185.3 214.5M197 261L175.2 214.5M197 261L175.2 251.7M197 261L175.2 240.5M197 261L175.2 227.5M197 261L185.3 223.8M197 261L185.3 214.5M153.5 261L175.2 214.5M153.5 261L175.2 251.7M153.5 261L175.2 240.5M153.5 261L175.2 227.5M153.5 261L165.2 223.8M153.5 261L165.2 214.5M153.5 168L153.5 261" fill="none" stroke="#000" stroke-width="1.35" stroke-dasharray="4 1.9"/>
<path d="M131.5 177.3L131.5 180.3M131.5 177.3L128.9 175.8M131.5 177.3L134.1 175.8M131.5 188.5L131.5 191.5M131.5 188.5L128.9 187M131.5 188.5L134.1 187M121.4 205.2L121.4 202.2M121.4 205.2L124 206.7M121.4 205.2L118.8 206.7M141.6 205.2L141.6 202.2M141.6 205.2L144.2 206.7M141.6 205.2L139 206.7M131.5 251.7L131.5 248.7M131.5 251.7L134.1 253.2M131.5 251.7L128.9 253.2M131.5 240.5L131.5 237.5M131.5 240.5L134.1 242M131.5 240.5L128.9 242M121.4 223.8L121.4 226.8M121.4 223.8L118.8 222.3M121.4 223.8L124 222.3M141.6 223.8L141.6 226.8M141.6 223.8L139 222.3M141.6 223.8L144.2 222.3M175.2 177.3L175.2 180.3M175.2 177.3L172.7 175.8M175.2 177.3L177.8 175.8M175.2 188.5L175.2 191.5M175.2 188.5L172.7 187M175.2 188.5L177.8 187M165.2 205.2L165.2 202.2M165.2 205.2L167.8 206.7M165.2 205.2L162.6 206.7M185.3 205.2L185.3 202.2M185.3 205.2L187.9 206.7M185.3 205.2L182.7 206.7M175.2 251.7L175.2 248.7M175.2 251.7L177.8 253.2M175.2 251.7L172.7 253.2M175.2 240.5L175.2 237.5M175.2 240.5L177.8 242M175.2 240.5L172.7 242M165.2 223.8L165.2 226.8M165.2 223.8L162.6 222.3M165.2 223.8L167.8 222.3M185.3 223.8L185.3 226.8M185.3 223.8L182.7 222.3M185.3 223.8L187.9 222.3" fill="none" stroke="#000" stroke-width="1.6"/>
<circle cx="104.0" cy="169.0" r="4.0" fill="#000" />
<path d="M104 169L117.9 170.8M104 169L116.9 174.4M104 169L115.1 177.5M104 169L112.5 180.1M104 169L109.4 181.9M104 169L105.8 182.9M104 169L102.2 182.9M104 169L98.6 181.9M104 169L95.5 180.1M104 169L92.9 177.5M104 169L91.1 174.4M104 169L90.1 170.8" fill="none" stroke="#000" stroke-width="1.5"/>
<circle cx="152.0" cy="169.0" r="3.5" fill="#000" />
<path d="M152 169L163.9 170.6M152 169L163.1 173.6M152 169L161.5 176.3M152 169L159.3 178.5M152 169L156.6 180.1M152 169L153.6 180.9M152 169L150.4 180.9M152 169L147.4 180.1M152 169L144.7 178.5M152 169L142.5 176.3M152 169L140.9 173.6M152 169L140.1 170.6" fill="none" stroke="#000" stroke-width="1.5"/>
<circle cx="104.0" cy="261.5" r="4.5" fill="#000" />
<path d="M104 261.5L90.1 259.7M104 261.5L91.1 256.1M104 261.5L92.9 253M104 261.5L95.5 250.4M104 261.5L98.6 248.6M104 261.5L102.2 247.6M104 261.5L105.8 247.6M104 261.5L109.4 248.6M104 261.5L112.5 250.4M104 261.5L115.1 253M104 261.5L116.9 256.1M104 261.5L117.9 259.7" fill="none" stroke="#000" stroke-width="1.5"/>
<circle cx="154.0" cy="261.5" r="3.5" fill="#000" />
<path d="M154 261.5L142.1 259.9M154 261.5L142.9 256.9M154 261.5L144.5 254.2M154 261.5L146.7 252M154 261.5L149.4 250.4M154 261.5L152.4 249.6M154 261.5L155.6 249.6M154 261.5L158.6 250.4M154 261.5L161.3 252M154 261.5L163.5 254.2M154 261.5L165.1 256.9M154 261.5L165.9 259.9" fill="none" stroke="#000" stroke-width="1.5"/>
<circle cx="61.0" cy="201.5" r="2.6" fill="#000" />
<path d="M61 201.5L65.3 193.6M61 201.5L67.5 195.3M61 201.5L69.1 197.5M61 201.5L69.9 200.1M61 201.5L69.9 202.9M61 201.5L69.1 205.5M61 201.5L67.5 207.7M61 201.5L65.3 209.4" fill="none" stroke="#000" stroke-width="1.5"/>
<circle cx="61.0" cy="224.5" r="2.6" fill="#000" />
<path d="M61 224.5L65.3 216.6M61 224.5L67.5 218.3M61 224.5L69.1 220.5M61 224.5L69.9 223.1M61 224.5L69.9 225.9M61 224.5L69.1 228.5M61 224.5L67.5 230.7M61 224.5L65.3 232.4M131.5 214.5L136.5 214.5M131.5 214.5L135.5 217.4M131.5 214.5L133 219.3M131.5 214.5L130 219.3M131.5 214.5L127.5 217.4M131.5 214.5L126.5 214.5M131.5 214.5L127.5 211.6M131.5 214.5L130 209.7M131.5 214.5L133 209.7M131.5 214.5L135.5 211.6M175.2 214.5L180.2 214.5M175.2 214.5L179.2 217.4M175.2 214.5L176.7 219.3M175.2 214.5L173.7 219.3M175.2 214.5L171.2 217.4M175.2 214.5L170.2 214.5M175.2 214.5L171.2 211.6M175.2 214.5L173.7 209.7M175.2 214.5L176.7 209.7M175.2 214.5L179.2 211.6M99 213L104 213M99 213L103 215.9M99 213L100.5 217.8M99 213L97.5 217.8M99 213L95 215.9M99 213L94 213M99 213L95 210.1M99 213L97.5 208.2M99 213L100.5 208.2M99 213L103 210.1" fill="none" stroke="#000" stroke-width="1.5"/>
<path d="M61 201.5L99 213M61 201.5L79 168M61 201.5L79 262M61 201.5L88 190M61 201.5L88 236M61 201.5L104 168M61 201.5L104 262M61 224.5L99 213M61 224.5L79 168M61 224.5L79 262M61 224.5L88 190M61 224.5L88 236M61 224.5L104 168M61 224.5L104 262M220 168L234 188M234 168L220 188" fill="none" stroke="#000" stroke-width="1.3" stroke-dasharray="4 1.9"/>
<path d="M153.5 214.5L157 214.5M153.5 214.5L156 217M153.5 214.5L153.5 218M153.5 214.5L151 217M153.5 214.5L150 214.5M153.5 214.5L151 212M153.5 214.5L153.5 211M153.5 214.5L156 212" fill="none" stroke="#000" stroke-width="1.4"/>
<polygon points="249.0,171.8 251.5,165.5 271.0,165.5 273.5,171.8" fill="#fcfcfc" />
<polygon points="297.0,171.8 299.5,165.5 317.5,165.5 320.0,171.8" fill="#fcfcfc" />
<path d="M252 162.5L270.5 162.5M300 162.5L317 162.5" fill="none" stroke="#fcfcfc" stroke-width="1.2"/>
<rect x="299.0" y="263.5" width="17.5" height="9.5" fill="#fcfcfc" />
<path d="M298 266.7L317.5 266.7M298 269.8L317.5 269.8" fill="none" stroke="#000" stroke-width="1.1"/>
<path d="M300.5 263.5L300.5 273M315 263.5L315 273" fill="none" stroke="#000" stroke-width="1"/>
<path d="M238.5 193.8L284.2 193.8M261.4 171.5L261.4 216M238.5 171.5L261.4 193.8M284.2 171.5L261.4 193.8M284.2 216L261.4 193.8M238.5 216L261.4 193.8M238.5 171.5L249.9 193.8M238.5 171.5L261.4 182.6M284.2 171.5L272.8 193.8M284.2 171.5L261.4 182.6M284.2 216L272.8 193.8M284.2 216L261.4 204.9M238.5 216L249.9 193.8M238.5 216L261.4 204.9" fill="none" stroke="#000" stroke-width="1.3" stroke-dasharray="4 1.9"/>
<polyline points="249.9,193.8 261.4,182.6 272.8,193.8 261.4,204.9 249.9,193.8" fill="none" stroke="#000" stroke-width="1.3" stroke-dasharray="4 1.9"/>
<path d="M249.9 193.8L253 194.6M249.9 193.8L250.8 196.8M249.9 193.8L247.7 196M249.9 193.8L246.8 192.9M249.9 193.8L249.1 190.7M249.9 193.8L252.2 191.5M272.8 193.8L275.9 194.6M272.8 193.8L273.6 196.8M272.8 193.8L270.5 196M272.8 193.8L269.7 192.9M272.8 193.8L272 190.7M272.8 193.8L275.1 191.5M261.4 182.6L264.5 183.5M261.4 182.6L262.2 185.7M261.4 182.6L259.1 184.9M261.4 182.6L258.3 181.8M261.4 182.6L260.5 179.5M261.4 182.6L263.6 180.4M261.4 204.9L264.5 205.7M261.4 204.9L262.2 208M261.4 204.9L259.1 207.1M261.4 204.9L258.3 204M261.4 204.9L260.5 201.8M261.4 204.9L263.6 202.6M261.4 193.8L264.5 194.6M261.4 193.8L262.2 196.8M261.4 193.8L259.1 196M261.4 193.8L258.3 192.9M261.4 193.8L260.5 190.7M261.4 193.8L263.6 191.5" fill="none" stroke="#000" stroke-width="1.5"/>
<path d="M284.2 193.8L330 193.8M307.1 171.5L307.1 216M284.2 171.5L307.1 193.8M330 171.5L307.1 193.8M330 216L307.1 193.8M284.2 216L307.1 193.8M284.2 171.5L295.7 193.8M284.2 171.5L307.1 182.6M330 171.5L318.6 193.8M330 171.5L307.1 182.6M330 216L318.6 193.8M330 216L307.1 204.9M284.2 216L295.7 193.8M284.2 216L307.1 204.9" fill="none" stroke="#000" stroke-width="1.3" stroke-dasharray="4 1.9"/>
<polyline points="295.7,193.8 307.1,182.6 318.6,193.8 307.1,204.9 295.7,193.8" fill="none" stroke="#000" stroke-width="1.3" stroke-dasharray="4 1.9"/>
<path d="M295.7 193.8L298.8 194.6M295.7 193.8L296.5 196.8M295.7 193.8L293.4 196M295.7 193.8L292.6 192.9M295.7 193.8L294.9 190.7M295.7 193.8L298 191.5M318.6 193.8L321.7 194.6M318.6 193.8L319.4 196.8M318.6 193.8L316.3 196M318.6 193.8L315.5 192.9M318.6 193.8L317.7 190.7M318.6 193.8L320.8 191.5M307.1 182.6L310.2 183.5M307.1 182.6L308 185.7M307.1 182.6L304.9 184.9M307.1 182.6L304 181.8M307.1 182.6L306.3 179.5M307.1 182.6L309.4 180.4M307.1 204.9L310.2 205.7M307.1 204.9L308 208M307.1 204.9L304.9 207.1M307.1 204.9L304 204M307.1 204.9L306.3 201.8M307.1 204.9L309.4 202.6M307.1 193.8L310.2 194.6M307.1 193.8L308 196.8M307.1 193.8L304.9 196M307.1 193.8L304 192.9M307.1 193.8L306.3 190.7M307.1 193.8L309.4 191.5" fill="none" stroke="#000" stroke-width="1.5"/>
<path d="M238.5 238.2L284.2 238.2M261.4 216L261.4 260.5M238.5 216L261.4 238.2M284.2 216L261.4 238.2M284.2 260.5L261.4 238.2M238.5 260.5L261.4 238.2M238.5 216L249.9 238.2M238.5 216L261.4 227.1M284.2 216L272.8 238.2M284.2 216L261.4 227.1M284.2 260.5L272.8 238.2M284.2 260.5L261.4 249.4M238.5 260.5L249.9 238.2M238.5 260.5L261.4 249.4" fill="none" stroke="#000" stroke-width="1.3" stroke-dasharray="4 1.9"/>
<polyline points="249.9,238.2 261.4,227.1 272.8,238.2 261.4,249.4 249.9,238.2" fill="none" stroke="#000" stroke-width="1.3" stroke-dasharray="4 1.9"/>
<path d="M249.9 238.2L253 239.1M249.9 238.2L250.8 241.3M249.9 238.2L247.7 240.5M249.9 238.2L246.8 237.4M249.9 238.2L249.1 235.2M249.9 238.2L252.2 236M272.8 238.2L275.9 239.1M272.8 238.2L273.6 241.3M272.8 238.2L270.5 240.5M272.8 238.2L269.7 237.4M272.8 238.2L272 235.2M272.8 238.2L275.1 236M261.4 227.1L264.5 228M261.4 227.1L262.2 230.2M261.4 227.1L259.1 229.4M261.4 227.1L258.3 226.3M261.4 227.1L260.5 224M261.4 227.1L263.6 224.9M261.4 249.4L264.5 250.2M261.4 249.4L262.2 252.5M261.4 249.4L259.1 251.6M261.4 249.4L258.3 248.5M261.4 249.4L260.5 246.3M261.4 249.4L263.6 247.1M261.4 238.2L264.5 239.1M261.4 238.2L262.2 241.3M261.4 238.2L259.1 240.5M261.4 238.2L258.3 237.4M261.4 238.2L260.5 235.2M261.4 238.2L263.6 236" fill="none" stroke="#000" stroke-width="1.5"/>
<path d="M284.2 238.2L330 238.2M307.1 216L307.1 260.5M284.2 216L307.1 238.2M330 216L307.1 238.2M330 260.5L307.1 238.2M284.2 260.5L307.1 238.2M284.2 216L295.7 238.2M284.2 216L307.1 227.1M330 216L318.6 238.2M330 216L307.1 227.1M330 260.5L318.6 238.2M330 260.5L307.1 249.4M284.2 260.5L295.7 238.2M284.2 260.5L307.1 249.4" fill="none" stroke="#000" stroke-width="1.3" stroke-dasharray="4 1.9"/>
<polyline points="295.7,238.2 307.1,227.1 318.6,238.2 307.1,249.4 295.7,238.2" fill="none" stroke="#000" stroke-width="1.3" stroke-dasharray="4 1.9"/>
<path d="M295.7 238.2L298.8 239.1M295.7 238.2L296.5 241.3M295.7 238.2L293.4 240.5M295.7 238.2L292.6 237.4M295.7 238.2L294.9 235.2M295.7 238.2L298 236M318.6 238.2L321.7 239.1M318.6 238.2L319.4 241.3M318.6 238.2L316.3 240.5M318.6 238.2L315.5 237.4M318.6 238.2L317.7 235.2M318.6 238.2L320.8 236M307.1 227.1L310.2 228M307.1 227.1L308 230.2M307.1 227.1L304.9 229.4M307.1 227.1L304 226.3M307.1 227.1L306.3 224M307.1 227.1L309.4 224.9M307.1 249.4L310.2 250.2M307.1 249.4L308 252.5M307.1 249.4L304.9 251.6M307.1 249.4L304 248.5M307.1 249.4L306.3 246.3M307.1 249.4L309.4 247.1M307.1 238.2L310.2 239.1M307.1 238.2L308 241.3M307.1 238.2L304.9 240.5M307.1 238.2L304 237.4M307.1 238.2L306.3 235.2M307.1 238.2L309.4 236" fill="none" stroke="#000" stroke-width="1.5"/>
<path d="M284.2 171.5L284.2 260.5M238.5 216L330 216" fill="none" stroke="#000" stroke-width="1.3" stroke-dasharray="4 1.9"/>
<circle cx="284.2" cy="216.0" r="7.5" fill="#fcfcfc" />
<circle cx="284.2" cy="216.0" r="7.0" fill="none" stroke="#000" stroke-width="1.6"/>
<circle cx="284.2" cy="216.0" r="3.6" fill="#000" />
<path d="M284.2 216L294.2 216M284.2 216L292.9 221M284.2 216L289.2 224.7M284.2 216L284.2 226M284.2 216L279.2 224.7M284.2 216L275.6 221M284.2 216L274.2 216M284.2 216L275.6 211M284.2 216L279.2 207.3M284.2 216L284.2 206M284.2 216L289.2 207.3M284.2 216L292.9 211" fill="none" stroke="#000" stroke-width="1.2"/>
<circle cx="238.5" cy="171.5" r="3.2" fill="#000" />
<path d="M238.5 171.5L248.5 172.5M238.5 171.5L248.1 174.4M238.5 171.5L247.3 176.2M238.5 171.5L246.2 177.8M238.5 171.5L244.8 179.2M238.5 171.5L243.2 180.3M238.5 171.5L241.4 181.1M238.5 171.5L239.5 181.5" fill="none" stroke="#000" stroke-width="1.5"/>
<circle cx="284.5" cy="171.5" r="3.2" fill="#000" />
<path d="M284.5 171.5L294.3 173.5M284.5 171.5L292.8 177.1M284.5 171.5L290.1 179.8M284.5 171.5L286.5 181.3M284.5 171.5L282.5 181.3M284.5 171.5L278.9 179.8M284.5 171.5L276.2 177.1M284.5 171.5L274.7 173.5" fill="none" stroke="#000" stroke-width="1.5"/>
<circle cx="330.0" cy="171.5" r="3.2" fill="#000" />
<path d="M330 171.5L329 181.5M330 171.5L327.1 181.1M330 171.5L325.3 180.3M330 171.5L323.7 179.2M330 171.5L322.3 177.8M330 171.5L321.2 176.2M330 171.5L320.4 174.4M330 171.5L320 172.5" fill="none" stroke="#000" stroke-width="1.5"/>
<circle cx="238.5" cy="216.0" r="3.2" fill="#000" />
<path d="M238.5 216L240.5 206.2M238.5 216L244.1 207.7M238.5 216L246.8 210.4M238.5 216L248.3 214M238.5 216L248.3 218M238.5 216L246.8 221.6M238.5 216L244.1 224.3M238.5 216L240.5 225.8" fill="none" stroke="#000" stroke-width="1.5"/>
<circle cx="330.0" cy="216.0" r="3.2" fill="#000" />
<path d="M330 216L328 225.8M330 216L324.4 224.3M330 216L321.7 221.6M330 216L320.2 218M330 216L320.2 214M330 216L321.7 210.4M330 216L324.4 207.7M330 216L328 206.2" fill="none" stroke="#000" stroke-width="1.5"/>
<circle cx="238.5" cy="260.5" r="3.2" fill="#000" />
<path d="M238.5 260.5L239.5 250.5M238.5 260.5L241.4 250.9M238.5 260.5L243.2 251.7M238.5 260.5L244.8 252.8M238.5 260.5L246.2 254.2M238.5 260.5L247.3 255.8M238.5 260.5L248.1 257.6M238.5 260.5L248.5 259.5" fill="none" stroke="#000" stroke-width="1.5"/>
<circle cx="284.5" cy="260.5" r="3.2" fill="#000" />
<path d="M284.5 260.5L274.7 258.5M284.5 260.5L276.2 254.9M284.5 260.5L278.9 252.2M284.5 260.5L282.5 250.7M284.5 260.5L286.5 250.7M284.5 260.5L290.1 252.2M284.5 260.5L292.8 254.9M284.5 260.5L294.3 258.5" fill="none" stroke="#000" stroke-width="1.5"/>
<circle cx="330.0" cy="260.5" r="3.2" fill="#000" />
<path d="M330 260.5L320 259.5M330 260.5L320.4 257.6M330 260.5L321.2 255.8M330 260.5L322.3 254.2M330 260.5L323.7 252.8M330 260.5L325.3 251.7M330 260.5L327.1 250.9M330 260.5L329 250.5" fill="none" stroke="#000" stroke-width="1.5"/>
<rect x="339.0" y="165.5" width="74.0" height="13.9" fill="#fcfcfc" />
<path d="M339.4 166L368.6 179M368.6 166L339.4 179M368.6 166L368.6 179M368.6 166L401.5 179M401.5 166L368.6 179M401.5 166L401.5 179M401.5 166L413 179M413 166L401.5 179M339 172.5L413 172.5" fill="none" stroke="#000" stroke-width="1.3" stroke-dasharray="4 1.9"/>
<rect x="346.0" y="157.0" width="14.0" height="8.5" fill="#fcfcfc" />
<path d="M345 161.2L361 161.2" fill="none" stroke="#000" stroke-width="1.1"/>
<path d="M347.5 157L347.5 165.5M358.5 157L358.5 165.5" fill="none" stroke="#000" stroke-width="1"/>
<rect x="379.0" y="157.0" width="14.0" height="8.5" fill="#fcfcfc" />
<path d="M378 161.2L394 161.2" fill="none" stroke="#000" stroke-width="1.1"/>
<path d="M380.5 157L380.5 165.5M391.5 157L391.5 165.5" fill="none" stroke="#000" stroke-width="1"/>
<rect x="362.0" y="187.0" width="6.6" height="8.0" fill="#000" />
<rect x="390.0" y="187.0" width="6.4" height="8.0" fill="#000" />
<rect x="347.0" y="259.5" width="3.0" height="8.5" fill="#000" />
<rect x="362.0" y="259.5" width="6.6" height="8.5" fill="#000" />
<rect x="390.0" y="259.5" width="6.4" height="8.5" fill="#000" />
<rect x="349.8" y="258.0" width="12.2" height="10.5" rx="2" fill="#fcfcfc"/>
<rect x="349.8" y="187.3" width="12.2" height="7.7" rx="2" fill="#fcfcfc"/>
<rect x="368.6" y="258.0" width="21.4" height="10.5" rx="2" fill="#fcfcfc"/>
<rect x="368.6" y="187.3" width="21.4" height="7.7" rx="2" fill="#fcfcfc"/>
<rect x="396.4" y="258.0" width="10.2" height="10.5" rx="2" fill="#fcfcfc"/>
<rect x="396.4" y="187.3" width="10.2" height="7.7" rx="2" fill="#fcfcfc"/>
<rect x="339.0" y="198.4" width="9.0" height="11.4" rx="2" fill="#fcfcfc"/>
<rect x="339.0" y="216.0" width="9.0" height="19.0" rx="2" fill="#fcfcfc"/>
<rect x="339.0" y="241.5" width="9.0" height="13.9" rx="2" fill="#fcfcfc"/>
<path d="M349 196L410 196M410 196L410 258M349 258L410 258M349 196L349 258M349 227L410 227M379.5 196L379.5 258M349 196L379.5 227M410 196L379.5 227M410 258L379.5 227M349 258L379.5 227M349 196L364.2 227M349 196L379.5 211.5M410 196L394.8 227M410 196L379.5 211.5M410 258L394.8 227M410 258L379.5 242.5M349 258L364.2 227M349 258L379.5 242.5" fill="none" stroke="#000" stroke-width="1.4" stroke-dasharray="4 1.9"/>
<polyline points="364.2,227.0 379.5,211.5 394.8,227.0 379.5,242.5 364.2,227.0" fill="none" stroke="#000" stroke-width="1.4" stroke-dasharray="4 1.9"/>
<path d="M412 205L412 250M420 205L420 250" fill="none" stroke="#000" stroke-width="1.3" stroke-dasharray="4 1.9"/>
<path d="M379.5 227L383.5 227M379.5 227L382.3 229.8M379.5 227L379.5 231M379.5 227L376.7 229.8M379.5 227L375.5 227M379.5 227L376.7 224.2M379.5 227L379.5 223M379.5 227L382.3 224.2" fill="none" stroke="#000" stroke-width="1.4"/>
<circle cx="348.0" cy="191.0" r="3.0" fill="#000" />
<path d="M348 191L356.9 192.2M348 191L356.3 194.4M348 191L355.1 196.5M348 191L353.5 198.1M348 191L351.4 199.3M348 191L349.2 199.9" fill="none" stroke="#000" stroke-width="1.5"/>
<circle cx="348.0" cy="263.0" r="3.0" fill="#000" />
<path d="M348 263L349.2 254.1M348 263L351.4 254.7M348 263L353.5 255.9M348 263L355.1 257.5M348 263L356.3 259.6M348 263L356.9 261.8" fill="none" stroke="#000" stroke-width="1.5"/>
<clipPath id="ctr"><rect x="423" y="168" width="188.5" height="124"/></clipPath><g clip-path="url(#ctr)">
<path d="M423.5 168L423.5 292M453 168L453 292M486 168L486 292M516.5 168L516.5 292M548 168L548 292M581 168L581 292M611 168L611 292M423 168.5L611 168.5M423 181L611 181M423 197L611 197M423 229L611 229M423 259L611 259M423 276L611 276M423 289.5L611 289.5" fill="none" stroke="#000" stroke-width="1.25" stroke-dasharray="4 1.9"/>
<path d="M453 197L484 197M453 197L481.6 208.9M453 197L474.9 218.9M453 197L464.9 225.6M453 197L453 228M453 197L441.1 225.6M453 197L431.1 218.9M453 197L424.4 208.9M453 197L422 197M453 197L424.4 185.1M453 197L431.1 175.1M453 197L441.1 168.4M453 197L453 166M453 197L464.9 168.4M453 197L474.9 175.1M453 197L481.6 185.1M516.5 197L547.5 197M516.5 197L545.1 208.9M516.5 197L538.4 218.9M516.5 197L528.4 225.6M516.5 197L516.5 228M516.5 197L504.6 225.6M516.5 197L494.6 218.9M516.5 197L487.9 208.9M516.5 197L485.5 197M516.5 197L487.9 185.1M516.5 197L494.6 175.1M516.5 197L504.6 168.4M516.5 197L516.5 166M516.5 197L528.4 168.4M516.5 197L538.4 175.1M516.5 197L545.1 185.1M581 197L612 197M581 197L609.6 208.9M581 197L602.9 218.9M581 197L592.9 225.6M581 197L581 228M581 197L569.1 225.6M581 197L559.1 218.9M581 197L552.4 208.9M581 197L550 197M581 197L552.4 185.1M581 197L559.1 175.1M581 197L569.1 168.4M581 197L581 166M581 197L592.9 168.4M581 197L602.9 175.1M581 197L609.6 185.1M453 259L484 259M453 259L481.6 270.9M453 259L474.9 280.9M453 259L464.9 287.6M453 259L453 290M453 259L441.1 287.6M453 259L431.1 280.9M453 259L424.4 270.9M453 259L422 259M453 259L424.4 247.1M453 259L431.1 237.1M453 259L441.1 230.4M453 259L453 228M453 259L464.9 230.4M453 259L474.9 237.1M453 259L481.6 247.1M516.5 259L547.5 259M516.5 259L545.1 270.9M516.5 259L538.4 280.9M516.5 259L528.4 287.6M516.5 259L516.5 290M516.5 259L504.6 287.6M516.5 259L494.6 280.9M516.5 259L487.9 270.9M516.5 259L485.5 259M516.5 259L487.9 247.1M516.5 259L494.6 237.1M516.5 259L504.6 230.4M516.5 259L516.5 228M516.5 259L528.4 230.4M516.5 259L538.4 237.1M516.5 259L545.1 247.1M581 259L612 259M581 259L609.6 270.9M581 259L602.9 280.9M581 259L592.9 287.6M581 259L581 290M581 259L569.1 287.6M581 259L559.1 280.9M581 259L552.4 270.9M581 259L550 259M581 259L552.4 247.1M581 259L559.1 237.1M581 259L569.1 230.4M581 259L581 228M581 259L592.9 230.4M581 259L602.9 237.1M581 259L609.6 247.1M486 229L516.4 235M486 229L511.8 246.2M486 229L503.2 254.8M486 229L492 259.4M486 229L480 259.4M486 229L468.8 254.8M486 229L460.2 246.2M486 229L455.6 235M486 229L455.6 223M486 229L460.2 211.8M486 229L468.8 203.2M486 229L480 198.6M486 229L492 198.6M486 229L503.2 203.2M486 229L511.8 211.8M486 229L516.4 223M548 229L578.4 235M548 229L573.8 246.2M548 229L565.2 254.8M548 229L554 259.4M548 229L542 259.4M548 229L530.8 254.8M548 229L522.2 246.2M548 229L517.6 235M548 229L517.6 223M548 229L522.2 211.8M548 229L530.8 203.2M548 229L542 198.6M548 229L554 198.6M548 229L565.2 203.2M548 229L573.8 211.8M548 229L578.4 223M424 229L454.4 235M424 229L449.8 246.2M424 229L441.2 254.8M424 229L430 259.4M424 229L418 259.4M424 229L406.8 254.8M424 229L398.2 246.2M424 229L393.6 235M424 229L393.6 223M424 229L398.2 211.8M424 229L406.8 203.2M424 229L418 198.6M424 229L430 198.6M424 229L441.2 203.2M424 229L449.8 211.8M424 229L454.4 223M610 229L640.4 235M610 229L635.8 246.2M610 229L627.2 254.8M610 229L616 259.4M610 229L604 259.4M610 229L592.8 254.8M610 229L584.2 246.2M610 229L579.6 235M610 229L579.6 223M610 229L584.2 211.8M610 229L592.8 203.2M610 229L604 198.6M610 229L616 198.6M610 229L627.2 203.2M610 229L635.8 211.8M610 229L640.4 223" fill="none" stroke="#000" stroke-width="1.35" stroke-dasharray="4 1.9"/>
<path d="M453 197L456.2 197M453 197L456 198.2M453 197L455.3 199.3M453 197L454.2 200M453 197L453 200.2M453 197L451.8 200M453 197L450.7 199.3M453 197L450 198.2M453 197L449.8 197M453 197L450 195.8M453 197L450.7 194.7M453 197L451.8 194M453 197L453 193.8M453 197L454.2 194M453 197L455.3 194.7M453 197L456 195.8M516.5 197L519.7 197M516.5 197L519.5 198.2M516.5 197L518.8 199.3M516.5 197L517.7 200M516.5 197L516.5 200.2M516.5 197L515.3 200M516.5 197L514.2 199.3M516.5 197L513.5 198.2M516.5 197L513.3 197M516.5 197L513.5 195.8M516.5 197L514.2 194.7M516.5 197L515.3 194M516.5 197L516.5 193.8M516.5 197L517.7 194M516.5 197L518.8 194.7M516.5 197L519.5 195.8M581 197L584.2 197M581 197L584 198.2M581 197L583.3 199.3M581 197L582.2 200M581 197L581 200.2M581 197L579.8 200M581 197L578.7 199.3M581 197L578 198.2M581 197L577.8 197M581 197L578 195.8M581 197L578.7 194.7M581 197L579.8 194M581 197L581 193.8M581 197L582.2 194M581 197L583.3 194.7M581 197L584 195.8M453 259L456.2 259M453 259L456 260.2M453 259L455.3 261.3M453 259L454.2 262M453 259L453 262.2M453 259L451.8 262M453 259L450.7 261.3M453 259L450 260.2M453 259L449.8 259M453 259L450 257.8M453 259L450.7 256.7M453 259L451.8 256M453 259L453 255.8M453 259L454.2 256M453 259L455.3 256.7M453 259L456 257.8M516.5 259L519.7 259M516.5 259L519.5 260.2M516.5 259L518.8 261.3M516.5 259L517.7 262M516.5 259L516.5 262.2M516.5 259L515.3 262M516.5 259L514.2 261.3M516.5 259L513.5 260.2M516.5 259L513.3 259M516.5 259L513.5 257.8M516.5 259L514.2 256.7M516.5 259L515.3 256M516.5 259L516.5 255.8M516.5 259L517.7 256M516.5 259L518.8 256.7M516.5 259L519.5 257.8M581 259L584.2 259M581 259L584 260.2M581 259L583.3 261.3M581 259L582.2 262M581 259L581 262.2M581 259L579.8 262M581 259L578.7 261.3M581 259L578 260.2M581 259L577.8 259M581 259L578 257.8M581 259L578.7 256.7M581 259L579.8 256M581 259L581 255.8M581 259L582.2 256M581 259L583.3 256.7M581 259L584 257.8M486 229L489.2 229.6M486 229L488.7 230.8M486 229L487.8 231.7M486 229L486.6 232.2M486 229L485.4 232.2M486 229L484.2 231.7M486 229L483.3 230.8M486 229L482.8 229.6M486 229L482.8 228.4M486 229L483.3 227.2M486 229L484.2 226.3M486 229L485.4 225.8M486 229L486.6 225.8M486 229L487.8 226.3M486 229L488.7 227.2M486 229L489.2 228.4M548 229L551.2 229.6M548 229L550.7 230.8M548 229L549.8 231.7M548 229L548.6 232.2M548 229L547.4 232.2M548 229L546.2 231.7M548 229L545.3 230.8M548 229L544.8 229.6M548 229L544.8 228.4M548 229L545.3 227.2M548 229L546.2 226.3M548 229L547.4 225.8M548 229L548.6 225.8M548 229L549.8 226.3M548 229L550.7 227.2M548 229L551.2 228.4M424 229L427.2 229.6M424 229L426.7 230.8M424 229L425.8 231.7M424 229L424.6 232.2M424 229L423.4 232.2M424 229L422.2 231.7M424 229L421.3 230.8M424 229L420.8 229.6M424 229L420.8 228.4M424 229L421.3 227.2M424 229L422.2 226.3M424 229L423.4 225.8M424 229L424.6 225.8M424 229L425.8 226.3M424 229L426.7 227.2M424 229L427.2 228.4M610 229L613.2 229.6M610 229L612.7 230.8M610 229L611.8 231.7M610 229L610.6 232.2M610 229L609.4 232.2M610 229L608.2 231.7M610 229L607.3 230.8M610 229L606.8 229.6M610 229L606.8 228.4M610 229L607.3 227.2M610 229L608.2 226.3M610 229L609.4 225.8M610 229L610.6 225.8M610 229L611.8 226.3M610 229L612.7 227.2M610 229L613.2 228.4" fill="none" stroke="#000" stroke-width="1.5"/>
<path d="M453 197L459.8 197M453 197L457.8 201.8M453 197L453 203.8M453 197L448.2 201.8M453 197L446.2 197M453 197L448.2 192.2M453 197L453 190.2M453 197L457.8 192.2M516.5 197L523.2 197M516.5 197L521.3 201.8M516.5 197L516.5 203.8M516.5 197L511.7 201.8M516.5 197L509.8 197M516.5 197L511.7 192.2M516.5 197L516.5 190.2M516.5 197L521.3 192.2M581 197L587.8 197M581 197L585.8 201.8M581 197L581 203.8M581 197L576.2 201.8M581 197L574.2 197M581 197L576.2 192.2M581 197L581 190.2M581 197L585.8 192.2M453 259L459.8 259M453 259L457.8 263.8M453 259L453 265.8M453 259L448.2 263.8M453 259L446.2 259M453 259L448.2 254.2M453 259L453 252.2M453 259L457.8 254.2M516.5 259L523.2 259M516.5 259L521.3 263.8M516.5 259L516.5 265.8M516.5 259L511.7 263.8M516.5 259L509.8 259M516.5 259L511.7 254.2M516.5 259L516.5 252.2M516.5 259L521.3 254.2M581 259L587.8 259M581 259L585.8 263.8M581 259L581 265.8M581 259L576.2 263.8M581 259L574.2 259M581 259L576.2 254.2M581 259L581 252.2M581 259L585.8 254.2M486 229L492.6 230.3M486 229L489.8 234.6M486 229L484.7 235.6M486 229L480.4 232.8M486 229L479.4 227.7M486 229L482.2 223.4M486 229L487.3 222.4M486 229L491.6 225.2M548 229L554.6 230.3M548 229L551.8 234.6M548 229L546.7 235.6M548 229L542.4 232.8M548 229L541.4 227.7M548 229L544.2 223.4M548 229L549.3 222.4M548 229L553.6 225.2M424 229L430.6 230.3M424 229L427.8 234.6M424 229L422.7 235.6M424 229L418.4 232.8M424 229L417.4 227.7M424 229L420.2 223.4M424 229L425.3 222.4M424 229L429.6 225.2M610 229L616.6 230.3M610 229L613.8 234.6M610 229L608.7 235.6M610 229L604.4 232.8M610 229L603.4 227.7M610 229L606.2 223.4M610 229L611.3 222.4M610 229L615.6 225.2M486 197L489.9 198.4M486 197L486.7 201.1M486 197L482.8 199.7M486 197L482.1 195.6M486 197L485.3 192.9M486 197L489.2 194.3M548 197L551.9 198.4M548 197L548.7 201.1M548 197L544.8 199.7M548 197L544.1 195.6M548 197L547.3 192.9M548 197L551.2 194.3M453 229L456.9 230.4M453 229L453.7 233.1M453 229L449.8 231.7M453 229L449.1 227.6M453 229L452.3 224.9M453 229L456.2 226.3M516.5 229L520.4 230.4M516.5 229L517.2 233.1M516.5 229L513.3 231.7M516.5 229L512.6 227.6M516.5 229L515.8 224.9M516.5 229L519.7 226.3M581 229L584.9 230.4M581 229L581.7 233.1M581 229L577.8 231.7M581 229L577.1 227.6M581 229L580.3 224.9M581 229L584.2 226.3M486 259L489.9 260.4M486 259L486.7 263.1M486 259L482.8 261.7M486 259L482.1 257.6M486 259L485.3 254.9M486 259L489.2 256.3M548 259L551.9 260.4M548 259L548.7 263.1M548 259L544.8 261.7M548 259L544.1 257.6M548 259L547.3 254.9M548 259L551.2 256.3M486 181L489.9 182.4M486 181L486.7 185.1M486 181L482.8 183.7M486 181L482.1 179.6M486 181L485.3 176.9M486 181L489.2 178.3M548 181L551.9 182.4M548 181L548.7 185.1M548 181L544.8 183.7M548 181L544.1 179.6M548 181L547.3 176.9M548 181L551.2 178.3M453 276L456.9 277.4M453 276L453.7 280.1M453 276L449.8 278.7M453 276L449.1 274.6M453 276L452.3 271.9M453 276L456.2 273.3M516.5 276L520.4 277.4M516.5 276L517.2 280.1M516.5 276L513.3 278.7M516.5 276L512.6 274.6M516.5 276L515.8 271.9M516.5 276L519.7 273.3M581 276L584.9 277.4M581 276L581.7 280.1M581 276L577.8 278.7M581 276L577.1 274.6M581 276L580.3 271.9M581 276L584.2 273.3M436 181L439.9 182.4M436 181L436.7 185.1M436 181L432.8 183.7M436 181L432.1 179.6M436 181L435.3 176.9M436 181L439.2 178.3M436 276L439.9 277.4M436 276L436.7 280.1M436 276L432.8 278.7M436 276L432.1 274.6M436 276L435.3 271.9M436 276L439.2 273.3M598 181L601.9 182.4M598 181L598.7 185.1M598 181L594.8 183.7M598 181L594.1 179.6M598 181L597.3 176.9M598 181L601.2 178.3M598 276L601.9 277.4M598 276L598.7 280.1M598 276L594.8 278.7M598 276L594.1 274.6M598 276L597.3 271.9M598 276L601.2 273.3M436 213L439.9 214.4M436 213L436.7 217.1M436 213L432.8 215.7M436 213L432.1 211.6M436 213L435.3 208.9M436 213L439.2 210.3M436 244L439.9 245.4M436 244L436.7 248.1M436 244L432.8 246.7M436 244L432.1 242.6M436 244L435.3 239.9M436 244L439.2 241.3M598 213L601.9 214.4M598 213L598.7 217.1M598 213L594.8 215.7M598 213L594.1 211.6M598 213L597.3 208.9M598 213L601.2 210.3M598 244L601.9 245.4M598 244L598.7 248.1M598 244L594.8 246.7M598 244L594.1 242.6M598 244L597.3 239.9M598 244L601.2 241.3M470 213L473.9 214.4M470 213L470.7 217.1M470 213L466.8 215.7M470 213L466.1 211.6M470 213L469.3 208.9M470 213L473.2 210.3M500 213L503.9 214.4M500 213L500.7 217.1M500 213L496.8 215.7M500 213L496.1 211.6M500 213L499.3 208.9M500 213L503.2 210.3M532 213L535.9 214.4M532 213L532.7 217.1M532 213L528.8 215.7M532 213L528.1 211.6M532 213L531.3 208.9M532 213L535.2 210.3M565 213L568.9 214.4M565 213L565.7 217.1M565 213L561.8 215.7M565 213L561.1 211.6M565 213L564.3 208.9M565 213L568.2 210.3M470 244L473.9 245.4M470 244L470.7 248.1M470 244L466.8 246.7M470 244L466.1 242.6M470 244L469.3 239.9M470 244L473.2 241.3M500 244L503.9 245.4M500 244L500.7 248.1M500 244L496.8 246.7M500 244L496.1 242.6M500 244L499.3 239.9M500 244L503.2 241.3M532 244L535.9 245.4M532 244L532.7 248.1M532 244L528.8 246.7M532 244L528.1 242.6M532 244L531.3 239.9M532 244L535.2 241.3M565 244L568.9 245.4M565 244L565.7 248.1M565 244L561.8 246.7M565 244L561.1 242.6M565 244L564.3 239.9M565 244L568.2 241.3" fill="none" stroke="#000" stroke-width="1.4"/>
</g>
<rect x="487.0" y="149.0" width="58.6" height="20.0" fill="#fcfcfc" />
<rect x="426.6" y="159.0" width="20.4" height="11.0" rx="3" fill="#fcfcfc"/>
<rect x="459.5" y="159.0" width="19.0" height="11.0" rx="3" fill="#fcfcfc"/>
<rect x="555.8" y="159.0" width="21.2" height="11.0" rx="3" fill="#fcfcfc"/>
<rect x="586.0" y="159.0" width="20.4" height="11.0" rx="3" fill="#fcfcfc"/>
<circle cx="487.0" cy="168.0" r="4.0" fill="#000" />
<path d="M487 168L499.9 169.7M487 168L499 173M487 168L497.3 175.9M487 168L494.9 178.3M487 168L492 180M487 168L488.7 180.9M487 168L485.3 180.9M487 168L482 180M487 168L479.1 178.3M487 168L476.7 175.9" fill="none" stroke="#000" stroke-width="1.5"/>
<circle cx="545.6" cy="168.0" r="4.0" fill="#000" />
<path d="M545.6 168L555.9 175.9M545.6 168L553.5 178.3M545.6 168L550.6 180M545.6 168L547.3 180.9M545.6 168L543.9 180.9M545.6 168L540.6 180M545.6 168L537.7 178.3M545.6 168L535.3 175.9M545.6 168L533.6 173M545.6 168L532.7 169.7" fill="none" stroke="#000" stroke-width="1.5"/>
<rect x="481.0" y="150.0" width="8.0" height="20.0" fill="#000" />
<rect x="543.5" y="150.0" width="8.0" height="20.0" fill="#000" />
<circle cx="414.0" cy="192.0" r="9.5" fill="#000" />
<circle cx="417.0" cy="192.0" r="6.0" fill="#000" />
<path d="M417 192L421.3 178.7M417 192L424.8 180.4M417 192L427.7 183M417 192L429.8 186.3M417 192L430.9 190.1M417 192L430.9 193.9M417 192L429.8 197.7M417 192L427.7 201M417 192L424.8 203.6M417 192L421.3 205.3" fill="none" stroke="#000" stroke-width="1.5"/>
<circle cx="414.0" cy="261.0" r="9.5" fill="#000" />
<circle cx="417.0" cy="261.0" r="6.0" fill="#000" />
<path d="M417 261L421.3 247.7M417 261L424.8 249.4M417 261L427.7 252M417 261L429.8 255.3M417 261L430.9 259.1M417 261L430.9 262.9M417 261L429.8 266.7M417 261L427.7 270M417 261L424.8 272.6M417 261L421.3 274.3" fill="none" stroke="#000" stroke-width="1.5"/>
<rect x="611.0" y="168.0" width="9.0" height="20.0" fill="#fcfcfc" />
<rect x="611.0" y="268.0" width="9.0" height="13.0" fill="#fcfcfc" />
<rect x="611.0" y="204.0" width="16.0" height="45.0" fill="#fcfcfc" />
<circle cx="619.0" cy="194.0" r="9.0" fill="#000" />
<circle cx="616.0" cy="194.0" r="6.0" fill="#000" />
<path d="M616 194L611.7 207.3M616 194L608.2 205.6M616 194L605.3 203M616 194L603.2 199.7M616 194L602.1 195.9M616 194L602.1 192.1M616 194L603.2 188.3M616 194L605.3 185M616 194L608.2 182.4M616 194L611.7 180.7" fill="none" stroke="#000" stroke-width="1.5"/>
<circle cx="619.0" cy="258.0" r="9.0" fill="#000" />
<circle cx="616.0" cy="258.0" r="6.0" fill="#000" />
<path d="M616 258L611.7 271.3M616 258L608.2 269.6M616 258L605.3 267M616 258L603.2 263.7M616 258L602.1 259.9M616 258L602.1 256.1M616 258L603.2 252.3M616 258L605.3 249M616 258L608.2 246.4M616 258L611.7 244.7" fill="none" stroke="#000" stroke-width="1.5"/>
<rect x="626.0" y="196.4" width="45.6" height="64.3" fill="#fcfcfc" />
<rect x="625.8" y="186.7" width="7.9" height="11.3" rx="2" fill="#fcfcfc"/>
<rect x="625.8" y="259.0" width="7.9" height="8.8" rx="2" fill="#fcfcfc"/>
<rect x="660.0" y="186.7" width="10.7" height="11.3" rx="2" fill="#fcfcfc"/>
<rect x="660.0" y="259.0" width="10.7" height="8.8" rx="2" fill="#fcfcfc"/>
<rect x="669.0" y="199.0" width="12.3" height="10.6" rx="2.5" fill="#fcfcfc"/>
<rect x="669.0" y="215.8" width="12.3" height="20.2" rx="2.5" fill="#fcfcfc"/>
<rect x="669.0" y="244.0" width="12.3" height="12.3" rx="2.5" fill="#fcfcfc"/>
<path d="M622 198L668 198M668 198L668 259M622 259L668 259M622 198L622 259M622 228.5L668 228.5M645 198L645 259M622 198L645 228.5M668 198L645 228.5M668 259L645 228.5M622 259L645 228.5M622 198L633.5 228.5M622 198L645 213.2M668 198L656.5 228.5M668 198L645 213.2M668 259L656.5 228.5M668 259L645 243.8M622 259L633.5 228.5M622 259L645 243.8" fill="none" stroke="#000" stroke-width="1.4" stroke-dasharray="4 1.9"/>
<path d="M634 198L634 259M611 228.5L626 228.5" fill="none" stroke="#000" stroke-width="1.3" stroke-dasharray="4 1.9"/>
<path d="M645 228.5L649 228.5M645 228.5L647.8 231.3M645 228.5L645 232.5M645 228.5L642.2 231.3M645 228.5L641 228.5M645 228.5L642.2 225.7M645 228.5L645 224.5M645 228.5L647.8 225.7" fill="none" stroke="#000" stroke-width="1.4"/>
<clipPath id="cnv"><rect x="441" y="292" width="149" height="316"/></clipPath><g clip-path="url(#cnv)">
<path d="M482 292L513 292M482 292L503.9 313.9M482 292L482 323M482 292L460.1 313.9M482 292L451 292M482 292L460.1 270.1M482 292L482 261M482 292L503.9 270.1" fill="none" stroke="#000" stroke-width="1.6" stroke-dasharray="5 2.2"/>
<circle cx="482.0" cy="292.0" r="24.5" fill="none" stroke="#000" stroke-width="1.6" stroke-dasharray="5 2.2"/>
<path d="M548.5 292L579.5 292M548.5 292L570.4 313.9M548.5 292L548.5 323M548.5 292L526.6 313.9M548.5 292L517.5 292M548.5 292L526.6 270.1M548.5 292L548.5 261M548.5 292L570.4 270.1" fill="none" stroke="#000" stroke-width="1.6" stroke-dasharray="5 2.2"/>
<circle cx="548.5" cy="292.0" r="24.5" fill="none" stroke="#000" stroke-width="1.6" stroke-dasharray="5 2.2"/>
<path d="M441 292L452 269.5M590 292L579 269.5M441 292L462.2 278.8M590 292L568.8 278.8M441 292L466 292M590 292L565 292M441 292L462.2 305.2M590 292L568.8 305.2M441 292L452 314.5M590 292L579 314.5M482 356.8L510.6 368.7M482 356.8L493.9 385.4M482 356.8L470.1 385.4M482 356.8L453.4 368.7M482 356.8L453.4 344.9M482 356.8L470.1 328.2M482 356.8L493.9 328.2M482 356.8L510.6 344.9" fill="none" stroke="#000" stroke-width="1.6" stroke-dasharray="5 2.2"/>
<circle cx="482.0" cy="356.8" r="24.5" fill="none" stroke="#000" stroke-width="1.6" stroke-dasharray="5 2.2"/>
<path d="M548.5 356.8L577.1 368.7M548.5 356.8L560.4 385.4M548.5 356.8L536.6 385.4M548.5 356.8L519.9 368.7M548.5 356.8L519.9 344.9M548.5 356.8L536.6 328.2M548.5 356.8L560.4 328.2M548.5 356.8L577.1 344.9" fill="none" stroke="#000" stroke-width="1.6" stroke-dasharray="5 2.2"/>
<circle cx="548.5" cy="356.8" r="24.5" fill="none" stroke="#000" stroke-width="1.6" stroke-dasharray="5 2.2"/>
<path d="M441 356.8L452 334.3M590 356.8L579 334.3M441 356.8L462.2 343.6M590 356.8L568.8 343.6M441 356.8L466 356.8M590 356.8L565 356.8M441 356.8L462.2 370M590 356.8L568.8 370M441 356.8L452 379.3M590 356.8L579 379.3M482 417.5L510.6 429.4M482 417.5L493.9 446.1M482 417.5L470.1 446.1M482 417.5L453.4 429.4M482 417.5L453.4 405.6M482 417.5L470.1 388.9M482 417.5L493.9 388.9M482 417.5L510.6 405.6" fill="none" stroke="#000" stroke-width="1.6" stroke-dasharray="5 2.2"/>
<circle cx="482.0" cy="417.5" r="24.5" fill="none" stroke="#000" stroke-width="1.6" stroke-dasharray="5 2.2"/>
<path d="M548.5 417.5L577.1 429.4M548.5 417.5L560.4 446.1M548.5 417.5L536.6 446.1M548.5 417.5L519.9 429.4M548.5 417.5L519.9 405.6M548.5 417.5L536.6 388.9M548.5 417.5L560.4 388.9M548.5 417.5L577.1 405.6" fill="none" stroke="#000" stroke-width="1.6" stroke-dasharray="5 2.2"/>
<circle cx="548.5" cy="417.5" r="24.5" fill="none" stroke="#000" stroke-width="1.6" stroke-dasharray="5 2.2"/>
<path d="M441 417.5L452 395M590 417.5L579 395M441 417.5L462.2 404.3M590 417.5L568.8 404.3M441 417.5L466 417.5M590 417.5L565 417.5M441 417.5L462.2 430.7M590 417.5L568.8 430.7M441 417.5L452 440M590 417.5L579 440M482 478L510.6 489.9M482 478L493.9 506.6M482 478L470.1 506.6M482 478L453.4 489.9M482 478L453.4 466.1M482 478L470.1 449.4M482 478L493.9 449.4M482 478L510.6 466.1" fill="none" stroke="#000" stroke-width="1.6" stroke-dasharray="5 2.2"/>
<circle cx="482.0" cy="478.0" r="24.5" fill="none" stroke="#000" stroke-width="1.6" stroke-dasharray="5 2.2"/>
<path d="M548.5 478L577.1 489.9M548.5 478L560.4 506.6M548.5 478L536.6 506.6M548.5 478L519.9 489.9M548.5 478L519.9 466.1M548.5 478L536.6 449.4M548.5 478L560.4 449.4M548.5 478L577.1 466.1" fill="none" stroke="#000" stroke-width="1.6" stroke-dasharray="5 2.2"/>
<circle cx="548.5" cy="478.0" r="24.5" fill="none" stroke="#000" stroke-width="1.6" stroke-dasharray="5 2.2"/>
<path d="M441 478L452 455.5M590 478L579 455.5M441 478L462.2 464.8M590 478L568.8 464.8M441 478L466 478M590 478L565 478M441 478L462.2 491.2M590 478L568.8 491.2M441 478L452 500.5M590 478L579 500.5" fill="none" stroke="#000" stroke-width="1.6" stroke-dasharray="5 2.2"/>
<circle cx="441.0" cy="324.4" r="21.0" fill="none" stroke="#000" stroke-width="1.6" stroke-dasharray="5 2.2"/>
<circle cx="590.0" cy="324.4" r="21.0" fill="none" stroke="#000" stroke-width="1.6" stroke-dasharray="5 2.2"/>
<path d="M515.5 324.4L540.5 324.4M515.5 324.4L533.2 342.1M515.5 324.4L515.5 349.4M515.5 324.4L497.8 342.1M515.5 324.4L490.5 324.4M515.5 324.4L497.8 306.7M515.5 324.4L515.5 299.4M515.5 324.4L533.2 306.7" fill="none" stroke="#000" stroke-width="1.6" stroke-dasharray="5 2.2"/>
<circle cx="515.5" cy="324.4" r="4.0" fill="none" stroke="#000" stroke-width="1.2" stroke-dasharray="None"/>
<path d="M461 324.4L475 324.4M461 324.4L468 336.5M461 324.4L454 336.5M461 324.4L447 324.4M461 324.4L454 312.3M461 324.4L468 312.3M569.5 324.4L583.5 324.4M569.5 324.4L576.5 336.5M569.5 324.4L562.5 336.5M569.5 324.4L555.5 324.4M569.5 324.4L562.5 312.3M569.5 324.4L576.5 312.3" fill="none" stroke="#000" stroke-width="1.6" stroke-dasharray="5 2.2"/>
<path d="M461 324.4L463.5 324.4M461 324.4L462.3 326.6M461 324.4L459.7 326.6M461 324.4L458.5 324.4M461 324.4L459.7 322.2M461 324.4L462.3 322.2M569.5 324.4L572 324.4M569.5 324.4L570.8 326.6M569.5 324.4L568.2 326.6M569.5 324.4L567 324.4M569.5 324.4L568.2 322.2M569.5 324.4L570.8 322.2" fill="none" stroke="#000" stroke-width="1.5"/>
<path d="M461 324.4L466.2 324.4M461 324.4L464.7 328.1M461 324.4L461 329.6M461 324.4L457.3 328.1M461 324.4L455.8 324.4M461 324.4L457.3 320.7M461 324.4L461 319.1M461 324.4L464.7 320.7M569.5 324.4L574.8 324.4M569.5 324.4L573.2 328.1M569.5 324.4L569.5 329.6M569.5 324.4L565.8 328.1M569.5 324.4L564.2 324.4M569.5 324.4L565.8 320.7M569.5 324.4L569.5 319.1M569.5 324.4L573.2 320.7" fill="none" stroke="#000" stroke-width="1.4"/>
<circle cx="441.0" cy="387.1" r="21.0" fill="none" stroke="#000" stroke-width="1.6" stroke-dasharray="5 2.2"/>
<circle cx="590.0" cy="387.1" r="21.0" fill="none" stroke="#000" stroke-width="1.6" stroke-dasharray="5 2.2"/>
<path d="M515.5 387.1L540.5 387.1M515.5 387.1L533.2 404.8M515.5 387.1L515.5 412.1M515.5 387.1L497.8 404.8M515.5 387.1L490.5 387.1M515.5 387.1L497.8 369.5M515.5 387.1L515.5 362.1M515.5 387.1L533.2 369.5" fill="none" stroke="#000" stroke-width="1.6" stroke-dasharray="5 2.2"/>
<circle cx="515.5" cy="387.1" r="4.0" fill="none" stroke="#000" stroke-width="1.2" stroke-dasharray="None"/>
<path d="M461 387.1L475 387.1M461 387.1L468 399.3M461 387.1L454 399.3M461 387.1L447 387.1M461 387.1L454 375M461 387.1L468 375M569.5 387.1L583.5 387.1M569.5 387.1L576.5 399.3M569.5 387.1L562.5 399.3M569.5 387.1L555.5 387.1M569.5 387.1L562.5 375M569.5 387.1L576.5 375" fill="none" stroke="#000" stroke-width="1.6" stroke-dasharray="5 2.2"/>
<path d="M461 387.1L463.5 387.1M461 387.1L462.3 389.3M461 387.1L459.7 389.3M461 387.1L458.5 387.1M461 387.1L459.7 385M461 387.1L462.3 385M569.5 387.1L572 387.1M569.5 387.1L570.8 389.3M569.5 387.1L568.2 389.3M569.5 387.1L567 387.1M569.5 387.1L568.2 385M569.5 387.1L570.8 385" fill="none" stroke="#000" stroke-width="1.5"/>
<path d="M461 387.1L466.2 387.1M461 387.1L464.7 390.9M461 387.1L461 392.4M461 387.1L457.3 390.9M461 387.1L455.8 387.1M461 387.1L457.3 383.4M461 387.1L461 381.9M461 387.1L464.7 383.4M569.5 387.1L574.8 387.1M569.5 387.1L573.2 390.9M569.5 387.1L569.5 392.4M569.5 387.1L565.8 390.9M569.5 387.1L564.2 387.1M569.5 387.1L565.8 383.4M569.5 387.1L569.5 381.9M569.5 387.1L573.2 383.4" fill="none" stroke="#000" stroke-width="1.4"/>
<circle cx="441.0" cy="447.8" r="21.0" fill="none" stroke="#000" stroke-width="1.6" stroke-dasharray="5 2.2"/>
<circle cx="590.0" cy="447.8" r="21.0" fill="none" stroke="#000" stroke-width="1.6" stroke-dasharray="5 2.2"/>
<path d="M515.5 447.8L540.5 447.8M515.5 447.8L533.2 465.4M515.5 447.8L515.5 472.8M515.5 447.8L497.8 465.4M515.5 447.8L490.5 447.8M515.5 447.8L497.8 430.1M515.5 447.8L515.5 422.8M515.5 447.8L533.2 430.1" fill="none" stroke="#000" stroke-width="1.6" stroke-dasharray="5 2.2"/>
<circle cx="515.5" cy="447.8" r="4.0" fill="none" stroke="#000" stroke-width="1.2" stroke-dasharray="None"/>
<path d="M461 447.8L475 447.8M461 447.8L468 459.9M461 447.8L454 459.9M461 447.8L447 447.8M461 447.8L454 435.6M461 447.8L468 435.6M569.5 447.8L583.5 447.8M569.5 447.8L576.5 459.9M569.5 447.8L562.5 459.9M569.5 447.8L555.5 447.8M569.5 447.8L562.5 435.6M569.5 447.8L576.5 435.6M515.5 356.8L525.4 366.7M515.5 356.8L505.6 366.7M515.5 356.8L505.6 346.9M515.5 356.8L525.4 346.9M515.5 417.5L525.4 427.4M515.5 417.5L505.6 427.4M515.5 417.5L505.6 407.6M515.5 417.5L525.4 407.6" fill="none" stroke="#000" stroke-width="1.6" stroke-dasharray="5 2.2"/>
<path d="M461 447.8L463.5 447.8M461 447.8L462.3 449.9M461 447.8L459.7 449.9M461 447.8L458.5 447.8M461 447.8L459.7 445.6M461 447.8L462.3 445.6M569.5 447.8L572 447.8M569.5 447.8L570.8 449.9M569.5 447.8L568.2 449.9M569.5 447.8L567 447.8M569.5 447.8L568.2 445.6M569.5 447.8L570.8 445.6M515.5 356.8L517 358.3M515.5 356.8L514 358.3M515.5 356.8L514 355.3M515.5 356.8L517 355.3M515.5 417.5L517 419M515.5 417.5L514 419M515.5 417.5L514 416M515.5 417.5L517 416" fill="none" stroke="#000" stroke-width="1.5"/>
<path d="M461 447.8L466.2 447.8M461 447.8L464.7 451.5M461 447.8L461 453M461 447.8L457.3 451.5M461 447.8L455.8 447.8M461 447.8L457.3 444M461 447.8L461 442.5M461 447.8L464.7 444M569.5 447.8L574.8 447.8M569.5 447.8L573.2 451.5M569.5 447.8L569.5 453M569.5 447.8L565.8 451.5M569.5 447.8L564.2 447.8M569.5 447.8L565.8 444M569.5 447.8L569.5 442.5M569.5 447.8L573.2 444M515.5 356.8L518.7 360M515.5 356.8L515.5 361.3M515.5 356.8L512.3 360M515.5 356.8L511 356.8M515.5 356.8L512.3 353.6M515.5 356.8L515.5 352.3M515.5 356.8L518.7 353.6M515.5 356.8L520 356.8M515.5 417.5L518.7 420.7M515.5 417.5L515.5 422M515.5 417.5L512.3 420.7M515.5 417.5L511 417.5M515.5 417.5L512.3 414.3M515.5 417.5L515.5 413M515.5 417.5L518.7 414.3M515.5 417.5L520 417.5" fill="none" stroke="#000" stroke-width="1.4"/>
</g>
<path d="M441 294L590 294M441 297.5L590 297.5" fill="none" stroke="#000" stroke-width="1.3" stroke-dasharray="5 2"/>
<circle cx="482.0" cy="292.5" r="9.2" fill="#000" />
<circle cx="482.0" cy="292.5" r="7.0" fill="#000" />
<path d="M482 292.5L494.7 295.4M482 292.5L492.2 300.6M482 292.5L487.6 304.2M482 292.5L482 305.5M482 292.5L476.4 304.2M482 292.5L471.8 300.6M482 292.5L469.3 295.4M482 292.5L469.3 289.6M482 292.5L471.8 284.4M482 292.5L476.4 280.8M482 292.5L482 279.5M482 292.5L487.6 280.8M482 292.5L492.2 284.4M482 292.5L494.7 289.6" fill="none" stroke="#000" stroke-width="1.5"/>
<polygon points="476.8,353.3 478.5,351.6 485.5,351.6 487.2,353.3 487.2,360.3 485.5,362.0 478.5,362.0 476.8,360.3" fill="#000" />
<path d="M482 356.8L489.4 359.9M482 356.8L485.1 364.2M482 356.8L478.9 364.2M482 356.8L474.6 359.9M482 356.8L474.6 353.7M482 356.8L478.9 349.4M482 356.8L485.1 349.4M482 356.8L489.4 353.7" fill="none" stroke="#000" stroke-width="1.6"/>
<polygon points="476.8,414.0 478.5,412.3 485.5,412.3 487.2,414.0 487.2,421.0 485.5,422.7 478.5,422.7 476.8,421.0" fill="#000" />
<path d="M482 417.5L489.4 420.6M482 417.5L485.1 424.9M482 417.5L478.9 424.9M482 417.5L474.6 420.6M482 417.5L474.6 414.4M482 417.5L478.9 410.1M482 417.5L485.1 410.1M482 417.5L489.4 414.4" fill="none" stroke="#000" stroke-width="1.6"/>
<circle cx="548.5" cy="292.5" r="9.2" fill="#000" />
<circle cx="548.5" cy="292.5" r="7.0" fill="#000" />
<path d="M548.5 292.5L561.2 295.4M548.5 292.5L558.7 300.6M548.5 292.5L554.1 304.2M548.5 292.5L548.5 305.5M548.5 292.5L542.9 304.2M548.5 292.5L538.3 300.6M548.5 292.5L535.8 295.4M548.5 292.5L535.8 289.6M548.5 292.5L538.3 284.4M548.5 292.5L542.9 280.8M548.5 292.5L548.5 279.5M548.5 292.5L554.1 280.8M548.5 292.5L558.7 284.4M548.5 292.5L561.2 289.6" fill="none" stroke="#000" stroke-width="1.5"/>
<polygon points="543.3,353.3 545.0,351.6 552.0,351.6 553.7,353.3 553.7,360.3 552.0,362.0 545.0,362.0 543.3,360.3" fill="#000" />
<path d="M548.5 356.8L555.9 359.9M548.5 356.8L551.6 364.2M548.5 356.8L545.4 364.2M548.5 356.8L541.1 359.9M548.5 356.8L541.1 353.7M548.5 356.8L545.4 349.4M548.5 356.8L551.6 349.4M548.5 356.8L555.9 353.7" fill="none" stroke="#000" stroke-width="1.6"/>
<polygon points="543.3,414.0 545.0,412.3 552.0,412.3 553.7,414.0 553.7,421.0 552.0,422.7 545.0,422.7 543.3,421.0" fill="#000" />
<path d="M548.5 417.5L555.9 420.6M548.5 417.5L551.6 424.9M548.5 417.5L545.4 424.9M548.5 417.5L541.1 420.6M548.5 417.5L541.1 414.4M548.5 417.5L545.4 410.1M548.5 417.5L551.6 410.1M548.5 417.5L555.9 414.4" fill="none" stroke="#000" stroke-width="1.6"/>
<clipPath id="cnl"><rect x="441" y="470" width="149" height="138"/></clipPath><g clip-path="url(#cnl)">
<path d="M441 480L462 506M462 480L441 506M441 493L462 493M451.5 480L451.5 506" fill="none" stroke="#000" stroke-width="1.6" stroke-dasharray="5 2.2"/>
<polyline points="441.0,480.0 462.0,480.0 462.0,506.0 441.0,506.0 441.0,480.0" fill="none" stroke="#000" stroke-width="1.6" stroke-dasharray="5 2.2"/>
<path d="M451.5 493L455.2 494.5M451.5 493L453 496.7M451.5 493L450 496.7M451.5 493L447.8 494.5M451.5 493L447.8 491.5M451.5 493L450 489.3M451.5 493L453 489.3M451.5 493L455.2 491.5" fill="none" stroke="#000" stroke-width="1.4"/>
<path d="M462 480L483 506M483 480L462 506M462 493L483 493M472.5 480L472.5 506" fill="none" stroke="#000" stroke-width="1.6" stroke-dasharray="5 2.2"/>
<polyline points="462.0,480.0 483.0,480.0 483.0,506.0 462.0,506.0 462.0,480.0" fill="none" stroke="#000" stroke-width="1.6" stroke-dasharray="5 2.2"/>
<path d="M472.5 493L476.2 494.5M472.5 493L474 496.7M472.5 493L471 496.7M472.5 493L468.8 494.5M472.5 493L468.8 491.5M472.5 493L471 489.3M472.5 493L474 489.3M472.5 493L476.2 491.5" fill="none" stroke="#000" stroke-width="1.4"/>
<path d="M441 506L462 532M462 506L441 532M441 519L462 519M451.5 506L451.5 532" fill="none" stroke="#000" stroke-width="1.6" stroke-dasharray="5 2.2"/>
<polyline points="441.0,506.0 462.0,506.0 462.0,532.0 441.0,532.0 441.0,506.0" fill="none" stroke="#000" stroke-width="1.6" stroke-dasharray="5 2.2"/>
<path d="M451.5 519L455.2 520.5M451.5 519L453 522.7M451.5 519L450 522.7M451.5 519L447.8 520.5M451.5 519L447.8 517.5M451.5 519L450 515.3M451.5 519L453 515.3M451.5 519L455.2 517.5" fill="none" stroke="#000" stroke-width="1.4"/>
<path d="M462 506L483 532M483 506L462 532M462 519L483 519M472.5 506L472.5 532" fill="none" stroke="#000" stroke-width="1.6" stroke-dasharray="5 2.2"/>
<polyline points="462.0,506.0 483.0,506.0 483.0,532.0 462.0,532.0 462.0,506.0" fill="none" stroke="#000" stroke-width="1.6" stroke-dasharray="5 2.2"/>
<path d="M472.5 519L476.2 520.5M472.5 519L474 522.7M472.5 519L471 522.7M472.5 519L468.8 520.5M472.5 519L468.8 517.5M472.5 519L471 515.3M472.5 519L474 515.3M472.5 519L476.2 517.5" fill="none" stroke="#000" stroke-width="1.4"/>
<path d="M441 542L462 574M462 542L441 574M441 558L462 558M451.5 542L451.5 574" fill="none" stroke="#000" stroke-width="1.6" stroke-dasharray="5 2.2"/>
<polyline points="441.0,542.0 462.0,542.0 462.0,574.0 441.0,574.0 441.0,542.0" fill="none" stroke="#000" stroke-width="1.6" stroke-dasharray="5 2.2"/>
<path d="M451.5 558L455.2 559.5M451.5 558L453 561.7M451.5 558L450 561.7M451.5 558L447.8 559.5M451.5 558L447.8 556.5M451.5 558L450 554.3M451.5 558L453 554.3M451.5 558L455.2 556.5" fill="none" stroke="#000" stroke-width="1.4"/>
<path d="M462 542L483 574M483 542L462 574M462 558L483 558M472.5 542L472.5 574" fill="none" stroke="#000" stroke-width="1.6" stroke-dasharray="5 2.2"/>
<polyline points="462.0,542.0 483.0,542.0 483.0,574.0 462.0,574.0 462.0,542.0" fill="none" stroke="#000" stroke-width="1.6" stroke-dasharray="5 2.2"/>
<path d="M472.5 558L476.2 559.5M472.5 558L474 561.7M472.5 558L471 561.7M472.5 558L468.8 559.5M472.5 558L468.8 556.5M472.5 558L471 554.3M472.5 558L474 554.3M472.5 558L476.2 556.5" fill="none" stroke="#000" stroke-width="1.4"/>
<path d="M441 574L462 606M462 574L441 606M441 590L462 590M451.5 574L451.5 606" fill="none" stroke="#000" stroke-width="1.6" stroke-dasharray="5 2.2"/>
<polyline points="441.0,574.0 462.0,574.0 462.0,606.0 441.0,606.0 441.0,574.0" fill="none" stroke="#000" stroke-width="1.6" stroke-dasharray="5 2.2"/>
<path d="M451.5 590L455.2 591.5M451.5 590L453 593.7M451.5 590L450 593.7M451.5 590L447.8 591.5M451.5 590L447.8 588.5M451.5 590L450 586.3M451.5 590L453 586.3M451.5 590L455.2 588.5" fill="none" stroke="#000" stroke-width="1.4"/>
<path d="M462 574L483 606M483 574L462 606M462 590L483 590M472.5 574L472.5 606" fill="none" stroke="#000" stroke-width="1.6" stroke-dasharray="5 2.2"/>
<polyline points="462.0,574.0 483.0,574.0 483.0,606.0 462.0,606.0 462.0,574.0" fill="none" stroke="#000" stroke-width="1.6" stroke-dasharray="5 2.2"/>
<path d="M472.5 590L476.2 591.5M472.5 590L474 593.7M472.5 590L471 593.7M472.5 590L468.8 591.5M472.5 590L468.8 588.5M472.5 590L471 586.3M472.5 590L474 586.3M472.5 590L476.2 588.5M503 508L507.5 508M503 508L506.2 511.2M503 508L503 512.5M503 508L499.8 511.2M503 508L498.5 508M503 508L499.8 504.8M503 508L503 503.5M503 508L506.2 504.8M503 572L507.5 572M503 572L506.2 575.2M503 572L503 576.5M503 572L499.8 575.2M503 572L498.5 572M503 572L499.8 568.8M503 572L503 567.5M503 572L506.2 568.8" fill="none" stroke="#000" stroke-width="1.4"/>
<path d="M462 506L467 506M462 506L465.5 509.5M462 506L462 511M462 506L458.5 509.5M462 506L457 506M462 506L458.5 502.5M462 506L462 501M462 506L465.5 502.5M462 574L467 574M462 574L465.5 577.5M462 574L462 579M462 574L458.5 577.5M462 574L457 574M462 574L458.5 570.5M462 574L462 569M462 574L465.5 570.5M503 508L505.2 508M503 508L504.5 509.5M503 508L503 510.2M503 508L501.5 509.5M503 508L500.8 508M503 508L501.5 506.5M503 508L503 505.8M503 508L504.5 506.5M503 572L505.2 572M503 572L504.5 573.5M503 572L503 574.2M503 572L501.5 573.5M503 572L500.8 572M503 572L501.5 570.5M503 572L503 569.8M503 572L504.5 570.5" fill="none" stroke="#000" stroke-width="1.5"/>
<path d="M479.5 486L479.5 532M479.5 546L479.5 600M483 486L483 532M483 546L483 600M486.5 486L486.5 532M486.5 546L486.5 600" fill="none" stroke="#000" stroke-width="1.3" stroke-dasharray="5 2"/>
<path d="M483 478L493.9 447.9M483 478L505 454.7M483 478L512.4 465.3M483 478L515 478M483 478L512.4 490.7M483 478L505 501.3M483 478L493.9 508.1M483 538L493.9 507.9M483 538L505 514.7M483 538L512.4 525.3M483 538L515 538M483 538L512.4 550.7M483 538L505 561.3M483 538L493.9 568.1M483 605L493.9 574.9M483 605L505 581.7M483 605L512.4 592.3M483 605L515 605M483 605L512.4 617.7M483 605L505 628.3M483 605L493.9 635.1M503 508L518 508M503 508L513.6 518.6M503 508L503 523M503 508L492.4 518.6M503 508L488 508M503 508L492.4 497.4M503 508L503 493M503 508L513.6 497.4M486 508L516 508M503 572L518 572M503 572L513.6 582.6M503 572L503 587M503 572L492.4 582.6M503 572L488 572M503 572L492.4 561.4M503 572L503 557M503 572L513.6 561.4M486 572L516 572" fill="none" stroke="#000" stroke-width="1.6" stroke-dasharray="5 2.2"/>
<circle cx="548.5" cy="508.0" r="21.0" fill="none" stroke="#000" stroke-width="1.6" stroke-dasharray="5 2.2"/>
<path d="M548.5 508L572.7 522M548.5 508L548.5 536M548.5 508L524.3 522M548.5 508L524.3 494M548.5 508L548.5 480M548.5 508L572.7 494M548.5 480L580.4 491.6M548.5 480L573.2 503.3M548.5 480L562 511.2M548.5 480L548.5 514M548.5 480L535 511.2M548.5 480L523.8 503.3M548.5 480L516.6 491.6M516 570L520.5 544.4M516 570L533.4 550.7M516 570L541 562.8M516 570L541 577.2M516 570L533.4 589.3M516 570L520.5 595.6" fill="none" stroke="#000" stroke-width="1.6" stroke-dasharray="5 2.2"/>
<path d="M528 492L531.8 492M528 492L529.9 495.3M528 492L526.1 495.3M528 492L524.2 492M528 492L526.1 488.7M528 492L529.9 488.7M569 492L572.8 492M569 492L570.9 495.3M569 492L567.1 495.3M569 492L565.2 492M569 492L567.1 488.7M569 492L570.9 488.7M530 522L533.8 522M530 522L531.9 525.3M530 522L528.1 525.3M530 522L526.2 522M530 522L528.1 518.7M530 522L531.9 518.7M567 522L570.8 522M567 522L568.9 525.3M567 522L565.1 525.3M567 522L563.2 522M567 522L565.1 518.7M567 522L568.9 518.7M581 505L584.8 505M581 505L582.9 508.3M581 505L579.1 508.3M581 505L577.2 505M581 505L579.1 501.7M581 505L582.9 501.7" fill="none" stroke="#000" stroke-width="1.4"/>
<circle cx="516.0" cy="570.0" r="16.0" fill="none" stroke="#000" stroke-width="1.6" stroke-dasharray="5 2.2"/>
</g>
<path d="M441 476L483 476M441 479.5L483 479.5M486 536L516 536M486 539.5L516 539.5M491 609L516 609" fill="none" stroke="#000" stroke-width="1.3" stroke-dasharray="5 2"/>
<path d="M483 476.5L590 476.5" fill="none" stroke="#000" stroke-width="1.2"/>
<path d="M516 440L516 626" fill="none" stroke="#000" stroke-width="1.1"/>
<circle cx="483.0" cy="478.0" r="6.5" fill="#000" />
<circle cx="483.0" cy="478.0" r="5.0" fill="#000" />
<path d="M483 478L496.7 480.7M483 478L494.6 485.8M483 478L490.8 489.6M483 478L485.7 491.7M483 478L480.3 491.7M483 478L475.2 489.6M483 478L471.4 485.8M483 478L469.3 480.7M483 478L469.3 475.3M483 478L471.4 470.2M483 478L475.2 466.4M483 478L480.3 464.3M483 478L485.7 464.3M483 478L490.8 466.4M483 478L494.6 470.2M483 478L496.7 475.3" fill="none" stroke="#000" stroke-width="1.5"/>
<circle cx="483.0" cy="538.0" r="6.5" fill="#000" />
<circle cx="483.0" cy="538.0" r="5.0" fill="#000" />
<path d="M483 538L496.7 540.7M483 538L494.6 545.8M483 538L490.8 549.6M483 538L485.7 551.7M483 538L480.3 551.7M483 538L475.2 549.6M483 538L471.4 545.8M483 538L469.3 540.7M483 538L469.3 535.3M483 538L471.4 530.2M483 538L475.2 526.4M483 538L480.3 524.3M483 538L485.7 524.3M483 538L490.8 526.4M483 538L494.6 530.2M483 538L496.7 535.3" fill="none" stroke="#000" stroke-width="1.5"/>
<circle cx="483.0" cy="606.0" r="6.0" fill="#000" />
<circle cx="483.0" cy="606.0" r="5.0" fill="#000" />
<path d="M483 606L469.2 603.8M483 606L470.5 599.6M483 606L473.1 596.1M483 606L476.6 593.5M483 606L480.8 592.2M483 606L485.2 592.2M483 606L489.4 593.5M483 606L492.9 596.1M483 606L495.5 599.6M483 606L496.8 603.8" fill="none" stroke="#000" stroke-width="1.5"/>
<path d="M540.5 476.5 A8 8 0 0 1 556.5 476.5" fill="none" stroke="#000" stroke-width="1.3"/>
<circle cx="548.5" cy="479.5" r="4.2" fill="#000" />
<path d="M548.5 479.5L555.5 479.5M548.5 479.5L553.4 484.4M548.5 479.5L548.5 486.5M548.5 479.5L543.6 484.4M548.5 479.5L541.5 479.5M548.5 479.5L543.6 474.6M548.5 479.5L548.5 472.5M548.5 479.5L553.4 474.6" fill="none" stroke="#000" stroke-width="1.4"/>
<rect x="527.0" y="526.0" width="17.0" height="81.0" fill="#fcfcfc" />
<rect x="527.5" y="526.0" width="2.5" height="74.0" fill="#000" />
<rect x="536.5" y="526.0" width="7.5" height="81.0" fill="#000" />
<rect x="538.0" y="529.0" width="4.5" height="3.5" fill="#fcfcfc" />
<rect x="538.0" y="536.4" width="4.5" height="3.5" fill="#fcfcfc" />
<rect x="538.0" y="543.8" width="4.5" height="3.5" fill="#fcfcfc" />
<rect x="538.0" y="551.2" width="4.5" height="3.5" fill="#fcfcfc" />
<rect x="538.0" y="558.6" width="4.5" height="3.5" fill="#fcfcfc" />
<rect x="538.0" y="566.0" width="4.5" height="3.5" fill="#fcfcfc" />
<rect x="538.0" y="573.4" width="4.5" height="3.5" fill="#fcfcfc" />
<rect x="538.0" y="580.8" width="4.5" height="3.5" fill="#fcfcfc" />
<rect x="538.0" y="588.2" width="4.5" height="3.5" fill="#fcfcfc" />
<rect x="538.0" y="595.6" width="4.5" height="3.5" fill="#fcfcfc" />
<path d="M527 526L545 526" fill="none" stroke="#000" stroke-width="1.2"/>
<rect x="517.0" y="596.0" width="27.0" height="3.0" fill="#000" />
<rect x="517.0" y="603.0" width="27.0" height="3.0" fill="#000" />
<rect x="519.0" y="599.3" width="3.0" height="3.4" fill="#fcfcfc" />
<rect x="524.0" y="599.3" width="3.0" height="3.4" fill="#fcfcfc" />
<rect x="529.0" y="599.3" width="3.0" height="3.4" fill="#fcfcfc" />
<rect x="534.0" y="599.3" width="3.0" height="3.4" fill="#fcfcfc" />
<rect x="539.0" y="599.3" width="3.0" height="3.4" fill="#fcfcfc" />
<rect x="554.8" y="543.5" width="47.2" height="64.0" fill="#fcfcfc" />
<rect x="566.5" y="531.0" width="8.0" height="13.0" fill="#fcfcfc" />
<rect x="606.0" y="564.0" width="7.0" height="24.0" fill="#fcfcfc" />
<path d="M609.5 564L609.5 588" fill="none" stroke="#000" stroke-width="1.6"/>
<rect x="426.0" y="284.0" width="8.3" height="74.0" fill="#fcfcfc" />
<rect x="434.0" y="284.0" width="8.0" height="6.0" fill="#fcfcfc" />
<path d="M426 298.5L433.5 298.5M426 301.2L433.5 301.2M426 303.9L433.5 303.9M426 306.6L433.5 306.6M426 309.3L433.5 309.3M426 312L433.5 312M426 314.7L433.5 314.7M426 317.4L433.5 317.4M426 320.1L433.5 320.1M426 322.8L433.5 322.8M426 325.5L433.5 325.5M426 328.2L433.5 328.2M426 330.9L433.5 330.9M426 333.6L433.5 333.6M426 336.3L433.5 336.3M426 339L433.5 339M426 341.7L433.5 341.7M426 344.4L433.5 344.4M426 347.1L433.5 347.1M426 349.8L433.5 349.8M426 352.5L433.5 352.5M426 355.2L433.5 355.2" fill="none" stroke="#000" stroke-width="1.3"/>
<rect x="425.5" y="368.0" width="10" height="4.2" rx="1" fill="#fcfcfc"/>
<rect x="425.5" y="377.9" width="10" height="4.2" rx="1" fill="#fcfcfc"/>
<rect x="425.5" y="387.8" width="10" height="4.2" rx="1" fill="#fcfcfc"/>
<rect x="425.5" y="397.7" width="10" height="4.2" rx="1" fill="#fcfcfc"/>
<rect x="425.5" y="407.6" width="10" height="4.2" rx="1" fill="#fcfcfc"/>
<rect x="425.5" y="417.5" width="10" height="4.2" rx="1" fill="#fcfcfc"/>
<rect x="425.5" y="427.4" width="10" height="4.2" rx="1" fill="#fcfcfc"/>
<rect x="425.5" y="437.3" width="10" height="4.2" rx="1" fill="#fcfcfc"/>
<rect x="425.5" y="447.2" width="10" height="4.2" rx="1" fill="#fcfcfc"/>
<rect x="425.5" y="457.1" width="10" height="4.2" rx="1" fill="#fcfcfc"/>
<rect x="425.5" y="467.0" width="10" height="4.2" rx="1" fill="#fcfcfc"/>
<rect x="425.5" y="476.9" width="10" height="4.2" rx="1" fill="#fcfcfc"/>
<rect x="425.5" y="486.8" width="10" height="4.2" rx="1" fill="#fcfcfc"/>
<rect x="425.5" y="496.7" width="10" height="4.2" rx="1" fill="#fcfcfc"/>
<rect x="425.5" y="506.6" width="10" height="4.2" rx="1" fill="#fcfcfc"/>
<rect x="425.5" y="516.5" width="10" height="4.2" rx="1" fill="#fcfcfc"/>
<rect x="425.5" y="526.4" width="10" height="4.2" rx="1" fill="#fcfcfc"/>
<rect x="425.5" y="536.3" width="10" height="4.2" rx="1" fill="#fcfcfc"/>
<rect x="425.5" y="546.2" width="10" height="4.2" rx="1" fill="#fcfcfc"/>
<rect x="425.5" y="556.1" width="10" height="4.2" rx="1" fill="#fcfcfc"/>
<rect x="425.5" y="566.0" width="10" height="4.2" rx="1" fill="#fcfcfc"/>
<rect x="425.5" y="575.9" width="10" height="4.2" rx="1" fill="#fcfcfc"/>
<rect x="425.5" y="585.8" width="10" height="4.2" rx="1" fill="#fcfcfc"/>
<rect x="425.5" y="595.7" width="10" height="4.2" rx="1" fill="#fcfcfc"/>
<rect x="425.5" y="605.6" width="10" height="4.2" rx="1" fill="#fcfcfc"/>
<circle cx="440.5" cy="356.8" r="3.0" fill="#000" />
<circle cx="440.5" cy="417.5" r="3.0" fill="#000" />
<rect x="592.8" y="316.5" width="3.0" height="18.0" fill="#fcfcfc" />
<polygon points="598.6,316.5 604.0,316.5 604.0,334.5 598.6,334.5 600.6,330.5 600.6,320.5" fill="#fcfcfc" />
<rect x="592.8" y="438.4" width="3.0" height="20.6" fill="#fcfcfc" />
<polygon points="598.6,438.4 604.0,438.4 604.0,459.0 598.6,459.0 600.6,455.0 600.6,442.4" fill="#fcfcfc" />
<rect x="592.8" y="497.6" width="3.0" height="17.4" fill="#fcfcfc" />
<polygon points="598.6,497.6 604.0,497.6 604.0,515.0 598.6,515.0 600.6,511.0 600.6,501.6" fill="#fcfcfc" />
<polyline points="605.0,306.5 605.0,348.5 616.0,348.5" fill="none" stroke="#000" stroke-width="1.3"/>
<rect x="596.5" y="363.0" width="9.5" height="46.6" fill="#fcfcfc" />
<circle cx="595.0" cy="387.0" r="5.5" fill="#000" />
<path d="M602.5 364L602.5 409M607.7 364L607.7 409M612.2 364L612.2 409" fill="none" stroke="#000" stroke-width="1.5" stroke-dasharray="3 2"/>
<rect x="607.5" y="413.0" width="5.0" height="5.5" fill="#fcfcfc" />
<path d="M606 416L614 416" fill="none" stroke="#000" stroke-width="1"/>
<circle cx="592.5" cy="356.0" r="4.5" fill="#000" />
<circle cx="592.5" cy="418.0" r="4.5" fill="#000" />
<circle cx="592.5" cy="478.0" r="4.5" fill="#000" />
<clipPath id="crf"><rect x="49" y="615.5" width="245.5" height="58.5"/></clipPath><g clip-path="url(#crf)">
<path d="M73 645L100 645M73 645L96.4 658.5M73 645L86.5 668.4M73 645L73 672M73 645L59.5 668.4M73 645L49.6 658.5M73 645L46 645M73 645L49.6 631.5M73 645L59.5 621.6M73 645L73 618M73 645L86.5 621.6M73 645L96.4 631.5M73 616L73 674M121.6 645L148.6 645M121.6 645L145 658.5M121.6 645L135.1 668.4M121.6 645L121.6 672M121.6 645L108.1 668.4M121.6 645L98.2 658.5M121.6 645L94.6 645M121.6 645L98.2 631.5M121.6 645L108.1 621.6M121.6 645L121.6 618M121.6 645L135.1 621.6M121.6 645L145 631.5M121.6 616L121.6 674M171 645L198 645M171 645L194.4 658.5M171 645L184.5 668.4M171 645L171 672M171 645L157.5 668.4M171 645L147.6 658.5M171 645L144 645M171 645L147.6 631.5M171 645L157.5 621.6M171 645L171 618M171 645L184.5 621.6M171 645L194.4 631.5M171 616L171 674M220 645L247 645M220 645L243.4 658.5M220 645L233.5 668.4M220 645L220 672M220 645L206.5 668.4M220 645L196.6 658.5M220 645L193 645M220 645L196.6 631.5M220 645L206.5 621.6M220 645L220 618M220 645L233.5 621.6M220 645L243.4 631.5M220 616L220 674M270 645L297 645M270 645L293.4 658.5M270 645L283.5 668.4M270 645L270 672M270 645L256.5 668.4M270 645L246.6 658.5M270 645L243 645M270 645L246.6 631.5M270 645L256.5 621.6M270 645L270 618M270 645L283.5 621.6M270 645L293.4 631.5M270 616L270 674M49 616L49 674M49 616L78 623.8M49 674L78 666.2M49 616L72 635.3M49 674L72 654.7M49 616L61.7 643.2M49 674L61.7 646.8M49 616L49 646M49 674L49 644M49 616L36.3 643.2M49 674L36.3 646.8M49 616L26 635.3M49 674L26 654.7M49 616L20 623.8M49 674L20 666.2M97.5 616L97.5 674M97.5 616L126.5 623.8M97.5 674L126.5 666.2M97.5 616L120.5 635.3M97.5 674L120.5 654.7M97.5 616L110.2 643.2M97.5 674L110.2 646.8M97.5 616L97.5 646M97.5 674L97.5 644M97.5 616L84.8 643.2M97.5 674L84.8 646.8M97.5 616L74.5 635.3M97.5 674L74.5 654.7M97.5 616L68.5 623.8M97.5 674L68.5 666.2M146 616L146 674M146 616L175 623.8M146 674L175 666.2M146 616L169 635.3M146 674L169 654.7M146 616L158.7 643.2M146 674L158.7 646.8M146 616L146 646M146 674L146 644M146 616L133.3 643.2M146 674L133.3 646.8M146 616L123 635.3M146 674L123 654.7M146 616L117 623.8M146 674L117 666.2M196 616L196 674M196 616L225 623.8M196 674L225 666.2M196 616L219 635.3M196 674L219 654.7M196 616L208.7 643.2M196 674L208.7 646.8M196 616L196 646M196 674L196 644M196 616L183.3 643.2M196 674L183.3 646.8M196 616L173 635.3M196 674L173 654.7M196 616L167 623.8M196 674L167 666.2M245 616L245 674M245 616L274 623.8M245 674L274 666.2M245 616L268 635.3M245 674L268 654.7M245 616L257.7 643.2M245 674L257.7 646.8M245 616L245 646M245 674L245 644M245 616L232.3 643.2M245 674L232.3 646.8M245 616L222 635.3M245 674L222 654.7M245 616L216 623.8M245 674L216 666.2M294.5 616L294.5 674M294.5 616L323.5 623.8M294.5 674L323.5 666.2M294.5 616L317.5 635.3M294.5 674L317.5 654.7M294.5 616L307.2 643.2M294.5 674L307.2 646.8M294.5 616L294.5 646M294.5 674L294.5 644M294.5 616L281.8 643.2M294.5 674L281.8 646.8M294.5 616L271.5 635.3M294.5 674L271.5 654.7M294.5 616L265.5 623.8M294.5 674L265.5 666.2M49 645L294.5 645" fill="none" stroke="#000" stroke-width="1.35" stroke-dasharray="4 1.9"/>
<path d="M73 645L76.6 645M73 645L76.1 646.8M73 645L74.8 648.1M73 645L73 648.6M73 645L71.2 648.1M73 645L69.9 646.8M73 645L69.4 645M73 645L69.9 643.2M73 645L71.2 641.9M73 645L73 641.4M73 645L74.8 641.9M73 645L76.1 643.2M121.6 645L125.2 645M121.6 645L124.7 646.8M121.6 645L123.4 648.1M121.6 645L121.6 648.6M121.6 645L119.8 648.1M121.6 645L118.5 646.8M121.6 645L118 645M121.6 645L118.5 643.2M121.6 645L119.8 641.9M121.6 645L121.6 641.4M121.6 645L123.4 641.9M121.6 645L124.7 643.2M171 645L174.6 645M171 645L174.1 646.8M171 645L172.8 648.1M171 645L171 648.6M171 645L169.2 648.1M171 645L167.9 646.8M171 645L167.4 645M171 645L167.9 643.2M171 645L169.2 641.9M171 645L171 641.4M171 645L172.8 641.9M171 645L174.1 643.2M220 645L223.6 645M220 645L223.1 646.8M220 645L221.8 648.1M220 645L220 648.6M220 645L218.2 648.1M220 645L216.9 646.8M220 645L216.4 645M220 645L216.9 643.2M220 645L218.2 641.9M220 645L220 641.4M220 645L221.8 641.9M220 645L223.1 643.2M270 645L273.6 645M270 645L273.1 646.8M270 645L271.8 648.1M270 645L270 648.6M270 645L268.2 648.1M270 645L266.9 646.8M270 645L266.4 645M270 645L266.9 643.2M270 645L268.2 641.9M270 645L270 641.4M270 645L271.8 641.9M270 645L273.1 643.2M49 645L51.5 647.5M49 645L46.5 647.5M49 645L46.5 642.5M49 645L51.5 642.5M97.5 645L100 647.5M97.5 645L95 647.5M97.5 645L95 642.5M97.5 645L100 642.5M146 645L148.5 647.5M146 645L143.5 647.5M146 645L143.5 642.5M146 645L148.5 642.5M196 645L198.5 647.5M196 645L193.5 647.5M196 645L193.5 642.5M196 645L198.5 642.5M245 645L247.5 647.5M245 645L242.5 647.5M245 645L242.5 642.5M245 645L247.5 642.5M294.5 645L297 647.5M294.5 645L292 647.5M294.5 645L292 642.5M294.5 645L297 642.5" fill="none" stroke="#000" stroke-width="1.5"/>
<path d="M73 645L80.5 645M73 645L78.3 650.3M73 645L73 652.5M73 645L67.7 650.3M73 645L65.5 645M73 645L67.7 639.7M73 645L73 637.5M73 645L78.3 639.7M121.6 645L129.1 645M121.6 645L126.9 650.3M121.6 645L121.6 652.5M121.6 645L116.3 650.3M121.6 645L114.1 645M121.6 645L116.3 639.7M121.6 645L121.6 637.5M121.6 645L126.9 639.7M171 645L178.5 645M171 645L176.3 650.3M171 645L171 652.5M171 645L165.7 650.3M171 645L163.5 645M171 645L165.7 639.7M171 645L171 637.5M171 645L176.3 639.7M220 645L227.5 645M220 645L225.3 650.3M220 645L220 652.5M220 645L214.7 650.3M220 645L212.5 645M220 645L214.7 639.7M220 645L220 637.5M220 645L225.3 639.7M270 645L277.5 645M270 645L275.3 650.3M270 645L270 652.5M270 645L264.7 650.3M270 645L262.5 645M270 645L264.7 639.7M270 645L270 637.5M270 645L275.3 639.7" fill="none" stroke="#000" stroke-width="1.4"/>
</g>
<circle cx="97.5" cy="616.0" r="3.2" fill="#000" />
<path d="M97.5 616L106.3 617.8M97.5 616L105 621M97.5 616L102.5 623.5M97.5 616L99.3 624.8M97.5 616L95.7 624.8M97.5 616L92.5 623.5M97.5 616L90 621M97.5 616L88.7 617.8" fill="none" stroke="#000" stroke-width="1.5"/>
<circle cx="97.5" cy="674.0" r="3.2" fill="#000" />
<path d="M97.5 674L88.7 672.2M97.5 674L90 669M97.5 674L92.5 666.5M97.5 674L95.7 665.2M97.5 674L99.3 665.2M97.5 674L102.5 666.5M97.5 674L105 669M97.5 674L106.3 672.2" fill="none" stroke="#000" stroke-width="1.5"/>
<circle cx="146.0" cy="616.0" r="3.2" fill="#000" />
<path d="M146 616L154.8 617.8M146 616L153.5 621M146 616L151 623.5M146 616L147.8 624.8M146 616L144.2 624.8M146 616L141 623.5M146 616L138.5 621M146 616L137.2 617.8" fill="none" stroke="#000" stroke-width="1.5"/>
<circle cx="146.0" cy="674.0" r="3.2" fill="#000" />
<path d="M146 674L137.2 672.2M146 674L138.5 669M146 674L141 666.5M146 674L144.2 665.2M146 674L147.8 665.2M146 674L151 666.5M146 674L153.5 669M146 674L154.8 672.2" fill="none" stroke="#000" stroke-width="1.5"/>
<circle cx="196.0" cy="616.0" r="3.2" fill="#000" />
<path d="M196 616L204.8 617.8M196 616L203.5 621M196 616L201 623.5M196 616L197.8 624.8M196 616L194.2 624.8M196 616L191 623.5M196 616L188.5 621M196 616L187.2 617.8" fill="none" stroke="#000" stroke-width="1.5"/>
<circle cx="196.0" cy="674.0" r="3.2" fill="#000" />
<path d="M196 674L187.2 672.2M196 674L188.5 669M196 674L191 666.5M196 674L194.2 665.2M196 674L197.8 665.2M196 674L201 666.5M196 674L203.5 669M196 674L204.8 672.2" fill="none" stroke="#000" stroke-width="1.5"/>
<circle cx="245.0" cy="616.0" r="3.2" fill="#000" />
<path d="M245 616L253.8 617.8M245 616L252.5 621M245 616L250 623.5M245 616L246.8 624.8M245 616L243.2 624.8M245 616L240 623.5M245 616L237.5 621M245 616L236.2 617.8" fill="none" stroke="#000" stroke-width="1.5"/>
<circle cx="245.0" cy="674.0" r="3.2" fill="#000" />
<path d="M245 674L236.2 672.2M245 674L237.5 669M245 674L240 666.5M245 674L243.2 665.2M245 674L246.8 665.2M245 674L250 666.5M245 674L252.5 669M245 674L253.8 672.2" fill="none" stroke="#000" stroke-width="1.5"/>
<rect x="66.0" y="675.5" width="12.5" height="8.0" fill="#fcfcfc" />
<path d="M65 678.2L79.5 678.2M65 680.8L79.5 680.8" fill="none" stroke="#000" stroke-width="1.1"/>
<path d="M67.5 675.5L67.5 683.5M77 675.5L77 683.5" fill="none" stroke="#000" stroke-width="1"/>
<rect x="115.5" y="675.5" width="11.5" height="8.0" fill="#fcfcfc" />
<path d="M114.5 678.2L128 678.2M114.5 680.8L128 680.8" fill="none" stroke="#000" stroke-width="1.1"/>
<path d="M117 675.5L117 683.5M125.5 675.5L125.5 683.5" fill="none" stroke="#000" stroke-width="1"/>
<rect x="164.5" y="675.5" width="12.0" height="8.0" fill="#fcfcfc" />
<path d="M163.5 678.2L177.5 678.2M163.5 680.8L177.5 680.8" fill="none" stroke="#000" stroke-width="1.1"/>
<path d="M166 675.5L166 683.5M175 675.5L175 683.5" fill="none" stroke="#000" stroke-width="1"/>
<rect x="214.0" y="675.5" width="11.5" height="8.0" fill="#fcfcfc" />
<path d="M213 678.2L226.5 678.2M213 680.8L226.5 680.8" fill="none" stroke="#000" stroke-width="1.1"/>
<path d="M215.5 675.5L215.5 683.5M224 675.5L224 683.5" fill="none" stroke="#000" stroke-width="1"/>
<rect x="264.0" y="675.5" width="13.0" height="8.0" fill="#fcfcfc" />
<path d="M263 678.2L278 678.2M263 680.8L278 680.8" fill="none" stroke="#000" stroke-width="1.1"/>
<path d="M265.5 675.5L265.5 683.5M275.5 675.5L275.5 683.5" fill="none" stroke="#000" stroke-width="1"/>
<rect x="315.0" y="675.5" width="14.0" height="8.0" fill="#fcfcfc" />
<path d="M314 678.2L330 678.2M314 680.8L330 680.8" fill="none" stroke="#000" stroke-width="1.1"/>
<path d="M316.5 675.5L316.5 683.5M327.5 675.5L327.5 683.5" fill="none" stroke="#000" stroke-width="1"/>
<rect x="389.6" y="675.5" width="15.2" height="8.0" fill="#fcfcfc" />
<path d="M388.6 678.2L405.8 678.2M388.6 680.8L405.8 680.8" fill="none" stroke="#000" stroke-width="1.1"/>
<path d="M391.1 675.5L391.1 683.5M403.3 675.5L403.3 683.5" fill="none" stroke="#000" stroke-width="1"/>
<rect x="69.0" y="607.5" width="20.0" height="7.5" fill="#fcfcfc" />
<path d="M68 610L90 610M68 612.5L90 612.5" fill="none" stroke="#000" stroke-width="1.1"/>
<path d="M70.5 607.5L70.5 615M87.5 607.5L87.5 615" fill="none" stroke="#000" stroke-width="1"/>
<rect x="202.0" y="607.5" width="25.0" height="7.5" fill="#fcfcfc" />
<path d="M201 610L228 610M201 612.5L228 612.5" fill="none" stroke="#000" stroke-width="1.1"/>
<path d="M203.5 607.5L203.5 615M225.5 607.5L225.5 615" fill="none" stroke="#000" stroke-width="1"/>
<rect x="304.7" y="607.5" width="8.9" height="7.5" fill="#fcfcfc" />
<path d="M303.7 610L314.6 610M303.7 612.5L314.6 612.5" fill="none" stroke="#000" stroke-width="1.1"/>
<path d="M306.2 607.5L306.2 615M312.1 607.5L312.1 615" fill="none" stroke="#000" stroke-width="1"/>
<path d="M322 616.5L322 673.8M324.5 616.5L324.5 673.8M327 616.5L327 673.8M329.5 616.5L329.5 673.8M332 616.5L332 673.8M334.5 616.5L334.5 673.8M337 616.5L337 673.8M339.5 616.5L339.5 673.8M342 616.5L342 673.8M344.5 616.5L344.5 673.8M347 616.5L347 673.8M349.5 616.5L349.5 673.8M352 616.5L352 673.8" fill="none" stroke="#000" stroke-width="1.3"/>
<rect x="321.0" y="634.5" width="32.0" height="2.5" fill="#000" />
<rect x="321.0" y="654.5" width="32.0" height="3.0" fill="#000" />
<rect x="321.5" y="635.2" width="31.5" height="1.1" fill="#fcfcfc" />
<rect x="321.5" y="655.3" width="31.5" height="1.4" fill="#fcfcfc" />
<path d="M353 616L353 674M321 616L321 674" fill="none" stroke="#000" stroke-width="1.3"/>
<path d="M314 627 q3 -5 8 -3" fill="none" stroke="#000" stroke-width="1.2"/>
<path d="M314 661 q3 6 9 3" fill="none" stroke="#000" stroke-width="1.2"/>
<path d="M420.5 632L420.5 657" fill="none" stroke="#000" stroke-width="1.2" stroke-dasharray="3 2"/>
<path d="M433 632 Q440 644 433 657" fill="none" stroke="#000" stroke-width="1.2" stroke-dasharray="3 2"/>
<path d="M387 606.5L407 606.5" fill="none" stroke="#000" stroke-width="1" stroke-dasharray="2 2"/>
<clipPath id="cdo"><rect x="488" y="700" width="54.3" height="296"/></clipPath><g clip-path="url(#cdo)">
<path d="M488 728.8L542 728.8M488 705L514.5 728.8M488 705L514.5 715.7M488 705L502 728.8M488 752.5L514.5 728.8M488 752.5L514.5 741.8M488 752.5L502 728.8M542 705L514.5 728.8M542 705L514.5 715.7M542 705L528 728.8M542 752.5L514.5 728.8M542 752.5L514.5 741.8M542 752.5L528 728.8M488 774.8L542 774.8M488 752.5L514.5 774.8M488 752.5L514.5 762.5M488 752.5L502 774.8M488 797L514.5 774.8M488 797L514.5 787M488 797L502 774.8M542 752.5L514.5 774.8M542 752.5L514.5 762.5M542 752.5L528 774.8M542 797L514.5 774.8M542 797L514.5 787M542 797L528 774.8M488 816L542 816M488 797L514.5 816M488 797L514.5 805.5M488 797L502 816M488 835L514.5 816M488 835L514.5 826.5M488 835L502 816M542 797L514.5 816M542 797L514.5 805.5M542 797L528 816M542 835L514.5 816M542 835L514.5 826.5M542 835L528 816M488 858L542 858M488 835L514.5 858M488 835L514.5 845.4M488 835L502 858M488 881L514.5 858M488 881L514.5 870.6M488 881L502 858M542 835L514.5 858M542 835L514.5 845.4M542 835L528 858M542 881L514.5 858M542 881L514.5 870.6M542 881L528 858M488 903.5L542 903.5M488 881L514.5 903.5M488 881L514.5 891.1M488 881L502 903.5M488 926L514.5 903.5M488 926L514.5 915.9M488 926L502 903.5M542 881L514.5 903.5M542 881L514.5 891.1M542 881L528 903.5M542 926L514.5 903.5M542 926L514.5 915.9M542 926L528 903.5M488 947.2L542 947.2M488 926L514.5 947.2M488 926L514.5 935.6M488 926L502 947.2M488 968.5L514.5 947.2M488 968.5L514.5 958.9M488 968.5L502 947.2M542 926L514.5 947.2M542 926L514.5 935.6M542 926L528 947.2M542 968.5L514.5 947.2M542 968.5L514.5 958.9M542 968.5L528 947.2M488 705L542 705M488 752.5L542 752.5M488 797L542 797M488 835L542 835M488 881L542 881M488 926L542 926M488 968.5L542 968.5M488 968.5L514.5 990M542 968.5L514.5 990" fill="none" stroke="#000" stroke-width="1.3" stroke-dasharray="4 1.9"/>
<path d="M514.5 728.8L518.5 728.8M514.5 728.8L517.3 731.6M514.5 728.8L514.5 732.8M514.5 728.8L511.7 731.6M514.5 728.8L510.5 728.8M514.5 728.8L511.7 725.9M514.5 728.8L514.5 724.8M514.5 728.8L517.3 725.9M514.5 774.8L518.5 774.8M514.5 774.8L517.3 777.6M514.5 774.8L514.5 778.8M514.5 774.8L511.7 777.6M514.5 774.8L510.5 774.8M514.5 774.8L511.7 771.9M514.5 774.8L514.5 770.8M514.5 774.8L517.3 771.9M514.5 816L518.5 816M514.5 816L517.3 818.8M514.5 816L514.5 820M514.5 816L511.7 818.8M514.5 816L510.5 816M514.5 816L511.7 813.2M514.5 816L514.5 812M514.5 816L517.3 813.2M514.5 858L518.5 858M514.5 858L517.3 860.8M514.5 858L514.5 862M514.5 858L511.7 860.8M514.5 858L510.5 858M514.5 858L511.7 855.2M514.5 858L514.5 854M514.5 858L517.3 855.2M514.5 903.5L518.5 903.5M514.5 903.5L517.3 906.3M514.5 903.5L514.5 907.5M514.5 903.5L511.7 906.3M514.5 903.5L510.5 903.5M514.5 903.5L511.7 900.7M514.5 903.5L514.5 899.5M514.5 903.5L517.3 900.7M514.5 947.2L518.5 947.2M514.5 947.2L517.3 950.1M514.5 947.2L514.5 951.2M514.5 947.2L511.7 950.1M514.5 947.2L510.5 947.2M514.5 947.2L511.7 944.4M514.5 947.2L514.5 943.2M514.5 947.2L517.3 944.4" fill="none" stroke="#000" stroke-width="1.4"/>
</g>
<path d="M514.5 697L514.5 993" fill="none" stroke="#000" stroke-width="1.3" stroke-dasharray="4 1.9"/>
<path d="M503 701L527.5 701" fill="none" stroke="#000" stroke-width="1.2" stroke-dasharray="2 2"/>
<circle cx="489.0" cy="705.0" r="2.8" fill="#000" />
<path d="M489 705L491.9 697.6M489 705L494.6 699.3M489 705L496.4 701.9M489 705L497 705M489 705L496.4 708.1M489 705L494.6 710.7M489 705L491.9 712.4" fill="none" stroke="#000" stroke-width="1.5"/>
<circle cx="541.5" cy="705.0" r="2.8" fill="#000" />
<path d="M541.5 705L538.6 712.4M541.5 705L535.9 710.7M541.5 705L534.1 708.1M541.5 705L533.5 705M541.5 705L534.1 701.9M541.5 705L535.9 699.3M541.5 705L538.6 697.6" fill="none" stroke="#000" stroke-width="1.5"/>
<circle cx="489.0" cy="752.5" r="2.8" fill="#000" />
<path d="M489 752.5L491.9 745.1M489 752.5L494.6 746.8M489 752.5L496.4 749.4M489 752.5L497 752.5M489 752.5L496.4 755.6M489 752.5L494.6 758.2M489 752.5L491.9 759.9" fill="none" stroke="#000" stroke-width="1.5"/>
<circle cx="541.5" cy="752.5" r="2.8" fill="#000" />
<path d="M541.5 752.5L538.6 759.9M541.5 752.5L535.9 758.2M541.5 752.5L534.1 755.6M541.5 752.5L533.5 752.5M541.5 752.5L534.1 749.4M541.5 752.5L535.9 746.8M541.5 752.5L538.6 745.1" fill="none" stroke="#000" stroke-width="1.5"/>
<circle cx="489.0" cy="797.0" r="2.8" fill="#000" />
<path d="M489 797L491.9 789.6M489 797L494.6 791.3M489 797L496.4 793.9M489 797L497 797M489 797L496.4 800.1M489 797L494.6 802.7M489 797L491.9 804.4" fill="none" stroke="#000" stroke-width="1.5"/>
<circle cx="541.5" cy="797.0" r="2.8" fill="#000" />
<path d="M541.5 797L538.6 804.4M541.5 797L535.9 802.7M541.5 797L534.1 800.1M541.5 797L533.5 797M541.5 797L534.1 793.9M541.5 797L535.9 791.3M541.5 797L538.6 789.6" fill="none" stroke="#000" stroke-width="1.5"/>
<circle cx="489.0" cy="835.0" r="2.8" fill="#000" />
<path d="M489 835L491.9 827.6M489 835L494.6 829.3M489 835L496.4 831.9M489 835L497 835M489 835L496.4 838.1M489 835L494.6 840.7M489 835L491.9 842.4" fill="none" stroke="#000" stroke-width="1.5"/>
<circle cx="541.5" cy="835.0" r="2.8" fill="#000" />
<path d="M541.5 835L538.6 842.4M541.5 835L535.9 840.7M541.5 835L534.1 838.1M541.5 835L533.5 835M541.5 835L534.1 831.9M541.5 835L535.9 829.3M541.5 835L538.6 827.6" fill="none" stroke="#000" stroke-width="1.5"/>
<circle cx="489.0" cy="881.0" r="2.8" fill="#000" />
<path d="M489 881L491.9 873.6M489 881L494.6 875.3M489 881L496.4 877.9M489 881L497 881M489 881L496.4 884.1M489 881L494.6 886.7M489 881L491.9 888.4" fill="none" stroke="#000" stroke-width="1.5"/>
<circle cx="541.5" cy="881.0" r="2.8" fill="#000" />
<path d="M541.5 881L538.6 888.4M541.5 881L535.9 886.7M541.5 881L534.1 884.1M541.5 881L533.5 881M541.5 881L534.1 877.9M541.5 881L535.9 875.3M541.5 881L538.6 873.6" fill="none" stroke="#000" stroke-width="1.5"/>
<circle cx="489.0" cy="926.0" r="2.8" fill="#000" />
<path d="M489 926L491.9 918.6M489 926L494.6 920.3M489 926L496.4 922.9M489 926L497 926M489 926L496.4 929.1M489 926L494.6 931.7M489 926L491.9 933.4" fill="none" stroke="#000" stroke-width="1.5"/>
<circle cx="541.5" cy="926.0" r="2.8" fill="#000" />
<path d="M541.5 926L538.6 933.4M541.5 926L535.9 931.7M541.5 926L534.1 929.1M541.5 926L533.5 926M541.5 926L534.1 922.9M541.5 926L535.9 920.3M541.5 926L538.6 918.6" fill="none" stroke="#000" stroke-width="1.5"/>
<circle cx="489.0" cy="968.5" r="2.8" fill="#000" />
<path d="M489 968.5L491.9 961.1M489 968.5L494.6 962.8M489 968.5L496.4 965.4M489 968.5L497 968.5M489 968.5L496.4 971.6M489 968.5L494.6 974.2M489 968.5L491.9 975.9" fill="none" stroke="#000" stroke-width="1.5"/>
<circle cx="541.5" cy="968.5" r="2.8" fill="#000" />
<path d="M541.5 968.5L538.6 975.9M541.5 968.5L535.9 974.2M541.5 968.5L534.1 971.6M541.5 968.5L533.5 968.5M541.5 968.5L534.1 965.4M541.5 968.5L535.9 962.8M541.5 968.5L538.6 961.1" fill="none" stroke="#000" stroke-width="1.5"/>
<rect x="481.0" y="721.5" width="4.5" height="5.2" fill="#fcfcfc" />
<rect x="544.3" y="721.5" width="4.5" height="5.2" fill="#fcfcfc" />
<rect x="481.0" y="730.8" width="4.5" height="5.2" fill="#fcfcfc" />
<rect x="544.3" y="730.8" width="4.5" height="5.2" fill="#fcfcfc" />
<circle cx="479.6" cy="719.2" r="2.2" fill="#000" />
<circle cx="549.8" cy="719.2" r="2.2" fill="#000" />
<circle cx="479.6" cy="738.2" r="2.2" fill="#000" />
<circle cx="549.8" cy="738.2" r="2.2" fill="#000" />
<rect x="481.0" y="767.5" width="4.5" height="5.2" fill="#fcfcfc" />
<rect x="544.3" y="767.5" width="4.5" height="5.2" fill="#fcfcfc" />
<rect x="481.0" y="776.8" width="4.5" height="5.2" fill="#fcfcfc" />
<rect x="544.3" y="776.8" width="4.5" height="5.2" fill="#fcfcfc" />
<circle cx="479.6" cy="765.2" r="2.2" fill="#000" />
<circle cx="549.8" cy="765.2" r="2.2" fill="#000" />
<circle cx="479.6" cy="784.2" r="2.2" fill="#000" />
<circle cx="549.8" cy="784.2" r="2.2" fill="#000" />
<rect x="481.0" y="808.8" width="4.5" height="5.2" fill="#fcfcfc" />
<rect x="544.3" y="808.8" width="4.5" height="5.2" fill="#fcfcfc" />
<rect x="481.0" y="818.0" width="4.5" height="5.2" fill="#fcfcfc" />
<rect x="544.3" y="818.0" width="4.5" height="5.2" fill="#fcfcfc" />
<circle cx="479.6" cy="806.5" r="2.2" fill="#000" />
<circle cx="549.8" cy="806.5" r="2.2" fill="#000" />
<circle cx="479.6" cy="825.5" r="2.2" fill="#000" />
<circle cx="549.8" cy="825.5" r="2.2" fill="#000" />
<rect x="481.0" y="850.8" width="4.5" height="5.2" fill="#fcfcfc" />
<rect x="544.3" y="850.8" width="4.5" height="5.2" fill="#fcfcfc" />
<rect x="481.0" y="860.0" width="4.5" height="5.2" fill="#fcfcfc" />
<rect x="544.3" y="860.0" width="4.5" height="5.2" fill="#fcfcfc" />
<circle cx="479.6" cy="848.5" r="2.2" fill="#000" />
<circle cx="549.8" cy="848.5" r="2.2" fill="#000" />
<circle cx="479.6" cy="867.5" r="2.2" fill="#000" />
<circle cx="549.8" cy="867.5" r="2.2" fill="#000" />
<rect x="481.0" y="896.3" width="4.5" height="5.2" fill="#fcfcfc" />
<rect x="544.3" y="896.3" width="4.5" height="5.2" fill="#fcfcfc" />
<rect x="481.0" y="905.5" width="4.5" height="5.2" fill="#fcfcfc" />
<rect x="544.3" y="905.5" width="4.5" height="5.2" fill="#fcfcfc" />
<circle cx="479.6" cy="894.0" r="2.2" fill="#000" />
<circle cx="549.8" cy="894.0" r="2.2" fill="#000" />
<circle cx="479.6" cy="913.0" r="2.2" fill="#000" />
<circle cx="549.8" cy="913.0" r="2.2" fill="#000" />
<rect x="481.0" y="940.0" width="4.5" height="5.2" fill="#fcfcfc" />
<rect x="544.3" y="940.0" width="4.5" height="5.2" fill="#fcfcfc" />
<rect x="481.0" y="949.2" width="4.5" height="5.2" fill="#fcfcfc" />
<rect x="544.3" y="949.2" width="4.5" height="5.2" fill="#fcfcfc" />
<circle cx="479.6" cy="937.8" r="2.2" fill="#000" />
<circle cx="549.8" cy="937.8" r="2.2" fill="#000" />
<circle cx="479.6" cy="956.8" r="2.2" fill="#000" />
<circle cx="549.8" cy="956.8" r="2.2" fill="#000" />
<rect x="46.0" y="283.0" width="7.0" height="18.0" fill="#fcfcfc" />
<path d="M47 283L47 301M52.5 283L52.5 301" fill="none" stroke="#000" stroke-width="1.2" stroke-dasharray="3 2"/>
<path d="M57.5 455 A8 8 0 0 0 57.5 470 Z" fill="#fcfcfc"/>
<rect x="46.0" y="456.5" width="8.0" height="12.0" fill="#fcfcfc" />
<path d="M47 456L47 469" fill="none" stroke="#000" stroke-width="1.2" stroke-dasharray="3 2"/>
<rect x="46.0" y="574.0" width="8.0" height="16.0" fill="#fcfcfc" />
<path d="M47 574L47 590M52.5 574L52.5 590" fill="none" stroke="#000" stroke-width="1.2" stroke-dasharray="3 2"/>
<polyline points="405.5,168.0 405.5,151.8 463.0,151.8" fill="none" stroke="#fcfcfc" stroke-width="0.8"/>
<polyline points="571.0,151.8 625.3,151.8 625.3,180.0" fill="none" stroke="#fcfcfc" stroke-width="0.8"/>
<polyline points="627.0,181.4 688.3,181.4 688.3,275.8 627.0,275.8" fill="none" stroke="#fcfcfc" stroke-width="0.8"/>
<defs><pattern id="hat" width="2.5" height="2.5" patternUnits="userSpaceOnUse" patternTransform="rotate(42)">
<rect width="2.5" height="2.5" fill="#000"/><rect x="0" y="0" width="2.5" height="0.55" fill="#fcfcfc"/></pattern></defs>
<polygon points="460.5,13.5 489.5,13.5 489.5,17.0 544.0,17.0 544.0,14.0 573.4,14.0 573.4,42.0 571.0,42.0 571.0,84.0 569.5,84.0 569.5,152.0 464.0,152.0 464.0,84.0 463.0,84.0 463.0,42.0 460.5,42.0" fill="#fcfcfc" stroke="#000" stroke-width="1.1"/>
<polygon points="462.3,15.3 488.0,15.3 488.0,18.8 545.6,18.8 545.6,15.8 571.6,15.8 571.6,41.0 569.2,41.0 569.2,84.5 567.7,84.5 567.7,152.0 465.8,152.0 465.8,84.5 464.8,84.5 464.8,41.0 462.3,41.0" fill="url(#hat)" />
<rect x="483.2" y="70.0" width="66.8" height="86.0" fill="#fcfcfc" />
<path d="M484 72 A32.5 33 0 0 1 549 72 Z" fill="#fcfcfc"/>
<rect x="472.6" y="83" width="12" height="22.5" rx="2.5" fill="#fcfcfc"/>
<rect x="549" y="83" width="12.6" height="22.5" rx="2.5" fill="#fcfcfc"/>
<rect x="472.6" y="118" width="12" height="23" rx="2.5" fill="#fcfcfc"/>
<rect x="549" y="118" width="12.6" height="23" rx="2.5" fill="#fcfcfc"/>
<rect x="483.0" y="70.0" width="6.0" height="12.5" fill="#000" />
<rect x="544.5" y="70.0" width="6.0" height="12.5" fill="#000" />
<rect x="479.0" y="73.0" width="5.0" height="6.5" fill="#000" />
<rect x="550.0" y="73.0" width="5.0" height="6.5" fill="#000" />
<rect x="483.0" y="106.0" width="6.0" height="12.0" fill="#000" />
<rect x="544.5" y="106.0" width="6.0" height="12.0" fill="#000" />
<rect x="479.0" y="109.0" width="5.0" height="6.0" fill="#000" />
<rect x="550.0" y="109.0" width="5.0" height="6.0" fill="#000" />
<rect x="483.0" y="141.5" width="6.0" height="14.5" fill="#000" />
<rect x="544.5" y="141.5" width="6.0" height="14.5" fill="#000" />
<rect x="479.0" y="144.5" width="5.0" height="8.5" fill="#000" />
<rect x="550.0" y="144.5" width="5.0" height="8.5" fill="#000" />
<path d="M496.8 63.8L484.6 59.4M501.7 56.2L492.5 47M509.3 51.3L504.9 39.1M523.7 51.3L528.1 39.1M531.3 56.2L540.5 47M536.2 63.8L548.4 59.4" fill="none" stroke="#000" stroke-width="2.2"/>
<rect x="512.0" y="22.2" width="10.5" height="15.8" fill="#fcfcfc" />
<rect x="510.0" y="37.0" width="14.5" height="9.0" fill="#fcfcfc" />
<polyline points="500.4,40.0 500.4,27.7 512.0,25.4" fill="none" stroke="#fcfcfc" stroke-width="1.6"/>
<polyline points="534.0,40.0 534.0,27.7 522.5,25.4" fill="none" stroke="#fcfcfc" stroke-width="1.6"/>
<circle cx="472.2" cy="27.5" r="6.4" fill="#fcfcfc" />
<path d="M472.2 27.5L478.6 27.5M472.2 27.5L477.4 31.3M472.2 27.5L474.2 33.6M472.2 27.5L470.2 33.6M472.2 27.5L467 31.3M472.2 27.5L465.8 27.5M472.2 27.5L467 23.7M472.2 27.5L470.2 21.4M472.2 27.5L474.2 21.4M472.2 27.5L477.4 23.7" fill="none" stroke="#000" stroke-width="0.9"/>
<circle cx="472.2" cy="27.5" r="2.6" fill="#000" />
<circle cx="559.0" cy="26.5" r="6.4" fill="#fcfcfc" />
<path d="M559 26.5L565.4 26.5M559 26.5L564.2 30.3M559 26.5L561 32.6M559 26.5L557 32.6M559 26.5L553.8 30.3M559 26.5L552.6 26.5M559 26.5L553.8 22.7M559 26.5L557 20.4M559 26.5L561 20.4M559 26.5L564.2 22.7" fill="none" stroke="#000" stroke-width="0.9"/>
<circle cx="559.0" cy="26.5" r="2.6" fill="#000" />
<path d="M476 31L500.5 52M556 30L534.5 50.5" fill="none" stroke="#fcfcfc" stroke-width="6"/>
<rect x="465.5" y="47.0" width="6.0" height="10.3" fill="#fcfcfc" />
<rect x="562.4" y="47.0" width="6.0" height="10.3" fill="#fcfcfc" />
<path d="M471 52L491 59M562.5 52L545.5 58.5" fill="none" stroke="#fcfcfc" stroke-width="3.6"/>
<path d="M509.0 71 A7.5 7.5 0 0 1 524.0 71" fill="none" stroke="#000" stroke-width="1.3" stroke-dasharray="4 2"/>
<path d="M504.0 71 A12.5 12.5 0 0 1 529.0 71" fill="none" stroke="#000" stroke-width="1.3" stroke-dasharray="4 2"/>
<path d="M499.0 71 A17.5 17.5 0 0 1 534.0 71" fill="none" stroke="#000" stroke-width="1.3" stroke-dasharray="4 2"/>
<path d="M509.9 66.4L491.9 53.8M512.5 64.1L501.5 45M516.5 63L516.5 41M520.5 64.1L531.5 45M523.1 66.4L541.1 53.8" fill="none" stroke="#000" stroke-width="1.1" stroke-dasharray="3 2"/>
<path d="M491.5 71 A25 25 0 0 1 541.5 71" fill="none" stroke="#000" stroke-width="1.2" stroke-dasharray="5 3"/>
<path d="M489 73L544.5 73M489 79L544.5 79M489 87L544.5 87M489 104L544.5 104M489 110L544.5 110M489 116L544.5 116M489 122L544.5 122M489 138L544.5 138M489 144L544.5 144M489 150L544.5 150" fill="none" stroke="#000" stroke-width="1.4" stroke-dasharray="5 2.2"/>
<path d="M491 87L491 104M497 87L497 104M503 87L503 104M509 87L509 104M524 87L524 104M530 87L530 104M536 87L536 104M542 87L542 104M491 122L491 138M497 122L497 138M503 122L503 138M509 122L509 138M524 122L524 138M530 122L530 138M536 122L536 138M542 122L542 138" fill="none" stroke="#000" stroke-width="1.4" stroke-dasharray="4 2"/>
<path d="M491 110L491 116M500 110L500 116M509 110L509 116M524 110L524 116M533 110L533 116M542 110L542 116M491 144L491 150M500 144L500 150M509 144L509 150M524 144L524 150M533 144L533 150M542 144L542 150M491 73L491 79M500 73L500 79M509 73L509 79M524 73L524 79M533 73L533 79M542 73L542 79" fill="none" stroke="#000" stroke-width="1.4"/>
<text x="39.7" y="729.8" font-family="'Liberation Sans', sans-serif" font-size="11.6" font-weight="normal" textLength="73.6" lengthAdjust="spacingAndGlyphs" stroke="#000" stroke-width="0.45" >FOVNDED</text>
<text x="124.8" y="729.8" font-family="'Liberation Sans', sans-serif" font-size="11.6" font-weight="normal" textLength="19.7" lengthAdjust="spacingAndGlyphs" stroke="#000" stroke-width="0.45" >BY</text>
<text x="156.0" y="729.8" font-family="'Liberation Sans', sans-serif" font-size="11.6" font-weight="normal" textLength="33.6" lengthAdjust="spacingAndGlyphs" stroke="#000" stroke-width="0.45" >DOM</text>
<text x="200.0" y="729.8" font-family="'Liberation Sans', sans-serif" font-size="11.6" font-weight="normal" textLength="68.6" lengthAdjust="spacingAndGlyphs" stroke="#000" stroke-width="0.45" >MANOEL</text>
<text x="284.8" y="729.8" font-family="'Liberation Sans', sans-serif" font-size="11.6" font-weight="normal" textLength="43.9" lengthAdjust="spacingAndGlyphs" stroke="#000" stroke-width="0.45" >APRIL</text>
<text x="335.6" y="729.8" font-family="'Liberation Sans', sans-serif" font-size="11.6" font-weight="normal" textLength="24.4" lengthAdjust="spacingAndGlyphs" stroke="#000" stroke-width="0.75" >21ST</text>
<text x="373.8" y="729.8" font-family="'Liberation Sans', sans-serif" font-size="11.6" font-weight="normal" textLength="34.7" lengthAdjust="spacingAndGlyphs" stroke="#000" stroke-width="0.75" >1500.</text>
<text x="39.7" y="751.8" font-family="'Liberation Sans', sans-serif" font-size="11.6" font-weight="normal" textLength="71.3" lengthAdjust="spacingAndGlyphs" stroke="#000" stroke-width="0.45" >BOVTACA</text>
<text x="119.0" y="751.8" font-family="'Liberation Sans', sans-serif" font-size="11.6" font-weight="normal" textLength="85.6" lengthAdjust="spacingAndGlyphs" stroke="#000" stroke-width="0.45" >ARCHITECT</text>
<text x="213.9" y="751.8" font-family="'Liberation Sans', sans-serif" font-size="11.6" font-weight="normal" textLength="31.5" lengthAdjust="spacingAndGlyphs" stroke="#000" stroke-width="0.45" >TILL</text>
<text x="258.0" y="751.8" font-family="'Liberation Sans', sans-serif" font-size="11.6" font-weight="normal" textLength="23.3" lengthAdjust="spacingAndGlyphs" stroke="#000" stroke-width="0.75" >1511.</text>
<text x="299.8" y="751.8" font-family="'Liberation Sans', sans-serif" font-size="11.6" font-weight="normal" textLength="90.2" lengthAdjust="spacingAndGlyphs" stroke="#000" stroke-width="0.45" >SVCCEEDED</text>
<text x="400.4" y="751.8" font-family="'Liberation Sans', sans-serif" font-size="11.6" font-weight="normal" textLength="19.0" lengthAdjust="spacingAndGlyphs" stroke="#000" stroke-width="0.45" >BY</text>
<text x="39.7" y="775.2" font-family="'Liberation Sans', sans-serif" font-size="11.6" font-weight="normal" textLength="86.3" lengthAdjust="spacingAndGlyphs" stroke="#000" stroke-width="0.45" >LOVRENÇO</text>
<text x="138.7" y="775.2" font-family="'Liberation Sans', sans-serif" font-size="11.6" font-weight="normal" textLength="104.3" lengthAdjust="spacingAndGlyphs" stroke="#000" stroke-width="0.45" >FERNANDES.</text>
<text x="268.0" y="775.2" font-family="'Liberation Sans', sans-serif" font-size="11.6" font-weight="normal" textLength="52.6" lengthAdjust="spacingAndGlyphs" stroke="#000" stroke-width="0.45" >LITTLE</text>
<text x="333.3" y="775.2" font-family="'Liberation Sans', sans-serif" font-size="11.6" font-weight="normal" textLength="45.1" lengthAdjust="spacingAndGlyphs" stroke="#000" stroke-width="0.45" >DONE</text>
<text x="388.8" y="775.2" font-family="'Liberation Sans', sans-serif" font-size="11.6" font-weight="normal" textLength="31.9" lengthAdjust="spacingAndGlyphs" stroke="#000" stroke-width="0.45" >TILL</text>
<text x="39.7" y="796.4" font-family="'Liberation Sans', sans-serif" font-size="11.6" font-weight="normal" textLength="28.3" lengthAdjust="spacingAndGlyphs" stroke="#000" stroke-width="0.75" >1522</text>
<text x="79.7" y="796.4" font-family="'Liberation Sans', sans-serif" font-size="11.6" font-weight="normal" textLength="50.9" lengthAdjust="spacingAndGlyphs" stroke="#000" stroke-width="0.45" >WHEN</text>
<text x="145.6" y="796.4" font-family="'Liberation Sans', sans-serif" font-size="11.6" font-weight="normal" textLength="40.4" lengthAdjust="spacingAndGlyphs" stroke="#000" stroke-width="0.45" >JOÃO</text>
<text x="201.0" y="796.4" font-family="'Liberation Sans', sans-serif" font-size="11.6" font-weight="normal" textLength="19.8" lengthAdjust="spacingAndGlyphs" stroke="#000" stroke-width="0.45" >DE</text>
<text x="233.9" y="796.4" font-family="'Liberation Sans', sans-serif" font-size="11.6" font-weight="normal" textLength="74.0" lengthAdjust="spacingAndGlyphs" stroke="#000" stroke-width="0.45" >CASTILHO</text>
<text x="322.9" y="796.4" font-family="'Liberation Sans', sans-serif" font-size="11.6" font-weight="normal" textLength="87.9" lengthAdjust="spacingAndGlyphs" stroke="#000" stroke-width="0.45" >SVCCEEDED.</text>
<text x="39.7" y="818.8" font-family="'Liberation Sans', sans-serif" font-size="11.6" font-weight="normal" textLength="56.3" lengthAdjust="spacingAndGlyphs" stroke="#000" stroke-width="0.45" >LOWER</text>
<text x="106.3" y="818.8" font-family="'Liberation Sans', sans-serif" font-size="11.6" font-weight="normal" textLength="75.2" lengthAdjust="spacingAndGlyphs" stroke="#000" stroke-width="0.45" >CLOISTER</text>
<text x="195.4" y="818.8" font-family="'Liberation Sans', sans-serif" font-size="11.6" font-weight="normal" textLength="78.9" lengthAdjust="spacingAndGlyphs" stroke="#000" stroke-width="0.45" >FINISHED</text>
<text x="289.4" y="818.8" font-family="'Liberation Sans', sans-serif" font-size="11.6" font-weight="normal" textLength="33.6" lengthAdjust="spacingAndGlyphs" stroke="#000" stroke-width="0.75" >1544.</text>
<text x="39.7" y="841.6" font-family="'Liberation Sans', sans-serif" font-size="11.6" font-weight="normal" textLength="78.2" lengthAdjust="spacingAndGlyphs" stroke="#000" stroke-width="0.45" >CAPELLA</text>
<text x="129.4" y="841.6" font-family="'Liberation Sans', sans-serif" font-size="11.6" font-weight="normal" textLength="35.9" lengthAdjust="spacingAndGlyphs" stroke="#000" stroke-width="0.45" >MOR</text>
<text x="180.3" y="841.6" font-family="'Liberation Sans', sans-serif" font-size="11.6" font-weight="normal" textLength="72.1" lengthAdjust="spacingAndGlyphs" stroke="#000" stroke-width="0.45" >REBVILT</text>
<text x="266.3" y="841.6" font-family="'Liberation Sans', sans-serif" font-size="11.6" font-weight="normal" textLength="25.4" lengthAdjust="spacingAndGlyphs" stroke="#000" stroke-width="0.75" >1551</text>
<text x="305.6" y="841.6" font-family="'Liberation Sans', sans-serif" font-size="11.6" font-weight="normal" textLength="20.8" lengthAdjust="spacingAndGlyphs" stroke="#000" stroke-width="0.45" >BY</text>
<text x="340.3" y="841.6" font-family="'Liberation Sans', sans-serif" font-size="11.6" font-weight="normal" textLength="49.7" lengthAdjust="spacingAndGlyphs" stroke="#000" stroke-width="0.45" >DIOGO</text>
<text x="401.5" y="841.6" font-family="'Liberation Sans', sans-serif" font-size="11.6" font-weight="normal" textLength="22.0" lengthAdjust="spacingAndGlyphs" stroke="#000" stroke-width="0.45" >DE</text>
<text x="41.6" y="864.6" font-family="'Liberation Sans', sans-serif" font-size="11.6" font-weight="normal" textLength="90.2" lengthAdjust="spacingAndGlyphs" stroke="#000" stroke-width="0.45" >TORRALVA</text>
<text x="665.8" y="306.2" font-family="'Liberation Sans', sans-serif" font-size="12" font-weight="normal" textLength="70.6" lengthAdjust="spacingAndGlyphs" stroke="#000" stroke-width="0.45" >CHAPTER</text>
<text x="751.0" y="306.2" font-family="'Liberation Sans', sans-serif" font-size="12" font-weight="normal" textLength="51.0" lengthAdjust="spacingAndGlyphs" stroke="#000" stroke-width="0.45" >HOVSE</text>
<text x="646.0" y="328.0" font-family="'Liberation Sans', sans-serif" font-size="10.8" font-weight="normal" textLength="82.0" lengthAdjust="spacingAndGlyphs" stroke="#000" stroke-width="0.45" >SACRISTY</text>
<text x="650.0" y="351.2" font-family="'Liberation Sans', sans-serif" font-size="11" font-weight="normal" textLength="106.0" lengthAdjust="spacingAndGlyphs" stroke="#000" stroke-width="0.45" >REFECTORY.</text>
<text x="651.0" y="373.6" font-family="'Liberation Sans', sans-serif" font-size="11.5" font-weight="normal" textLength="51.0" lengthAdjust="spacingAndGlyphs" stroke="#000" stroke-width="0.45" >CHOIR</text>
<text x="712.0" y="373.6" font-family="'Liberation Sans', sans-serif" font-size="11.5" font-weight="normal" textLength="78.5" lengthAdjust="spacingAndGlyphs" stroke="#000" stroke-width="0.45" >GALLERY.</text>
<text x="650.0" y="398.8" font-family="'Liberation Sans', sans-serif" font-size="13.6" font-weight="normal" textLength="85.0" lengthAdjust="spacingAndGlyphs" stroke="#000" stroke-width="0.45" >INTENDED</text>
<text x="744.5" y="398.8" font-family="'Liberation Sans', sans-serif" font-size="13.6" font-weight="normal" textLength="89.5" lengthAdjust="spacingAndGlyphs" stroke="#000" stroke-width="0.45" >ENTRANCE</text>
<text x="845.0" y="398.8" font-family="'Liberation Sans', sans-serif" font-size="13.6" font-weight="normal" textLength="53.0" lengthAdjust="spacingAndGlyphs" stroke="#000" stroke-width="0.45" >PORCH</text>
<text x="648.7" y="422.0" font-family="'Liberation Sans', sans-serif" font-size="11.4" font-weight="normal" textLength="101.3" lengthAdjust="spacingAndGlyphs" stroke="#000" stroke-width="0.45" >VNDERCROFT</text>
<text x="757.0" y="422.0" font-family="'Liberation Sans', sans-serif" font-size="11.4" font-weight="normal" textLength="21.0" lengthAdjust="spacingAndGlyphs" stroke="#000" stroke-width="0.45" >OF</text>
<text x="787.0" y="422.0" font-family="'Liberation Sans', sans-serif" font-size="11.4" font-weight="normal" textLength="88.0" lengthAdjust="spacingAndGlyphs" stroke="#000" stroke-width="0.45" >DORMITORY</text>
<text x="694.7" y="447.4" font-family="'Liberation Sans', sans-serif" font-size="12.6" font-weight="normal" textLength="46.3" lengthAdjust="spacingAndGlyphs" stroke="#000" stroke-width="0.45" >FEET</text>
<text x="752.0" y="447.4" font-family="'Liberation Sans', sans-serif" font-size="12.6" font-weight="normal" textLength="48.0" lengthAdjust="spacingAndGlyphs" stroke="#000" stroke-width="0.45" >LONG.</text>
<text x="645.0" y="306.0" font-family="'Liberation Serif', sans-serif" font-size="20" font-weight="bold" textLength="10.0" lengthAdjust="spacingAndGlyphs" stroke="#000" stroke-width="0.3" >1</text>
<rect x="650.0" y="303.2" width="8.5" height="2.8" fill="#000" />
<text x="624.3" y="328.0" font-family="'Liberation Serif', sans-serif" font-size="11" font-weight="bold" textLength="13.7" lengthAdjust="spacingAndGlyphs" stroke="#000" stroke-width="0.3" >2.</text>
<text x="624.3" y="351.0" font-family="'Liberation Serif', sans-serif" font-size="20" font-weight="bold" textLength="12.7" lengthAdjust="spacingAndGlyphs" stroke="#000" stroke-width="0.3" >3</text>
<circle cx="639.5" cy="349.3" r="1.5" fill="#000" />
<text x="626.0" y="373.5" font-family="'Liberation Serif', sans-serif" font-size="18.5" font-weight="bold" textLength="13.0" lengthAdjust="spacingAndGlyphs" stroke="#000" stroke-width="0.3" >4</text>
<circle cx="641.3" cy="371.8" r="1.5" fill="#000" />
<text x="628.0" y="398.7" font-family="'Liberation Serif', sans-serif" font-size="20" font-weight="bold" textLength="12.0" lengthAdjust="spacingAndGlyphs" stroke="#000" stroke-width="0.3" >5</text>
<circle cx="642.0" cy="397.0" r="1.5" fill="#000" />
<text x="629.0" y="422.0" font-family="'Liberation Serif', sans-serif" font-size="21" font-weight="bold" textLength="13.3" lengthAdjust="spacingAndGlyphs" stroke="#000" stroke-width="0.3" >6</text>
<text x="654.0" y="447.4" font-family="'Liberation Sans', sans-serif" font-size="19" font-weight="normal" textLength="19.0" lengthAdjust="spacingAndGlyphs" stroke="#000" stroke-width="0.35" >60</text>
<polyline points="673.0,436.0 686.5,435.5 678.5,455.5" fill="none" stroke="#000" stroke-width="1.6"/>
<text x="126.0" y="149.0" font-family="'Liberation Serif', sans-serif" font-size="15" font-weight="bold" textLength="7.0" lengthAdjust="spacingAndGlyphs" stroke="#000" stroke-width="0.3" >1</text>
<circle cx="136.0" cy="147.5" r="1.4" fill="#000" />
<text x="277.5" y="149.5" font-family="'Liberation Serif', sans-serif" font-size="15" font-weight="bold" textLength="12.5" lengthAdjust="spacingAndGlyphs" stroke="#000" stroke-width="0.3" >2</text>
<text x="163.5" y="698.5" font-family="'Liberation Serif', sans-serif" font-size="17" font-weight="bold" textLength="11.5" lengthAdjust="spacingAndGlyphs" stroke="#000" stroke-width="0.3" >3</text>
<circle cx="178.5" cy="696.5" r="1.5" fill="#000" />
<circle cx="547.0" cy="496.0" r="6.0" fill="#fcfcfc" />
<text x="542.5" y="501.0" font-family="'Liberation Serif', sans-serif" font-size="17" font-weight="bold" textLength="9.5" lengthAdjust="spacingAndGlyphs" stroke="#000" stroke-width="0.3" >4</text>
<text x="509.0" y="660.0" font-family="'Liberation Serif', sans-serif" font-size="14" font-weight="bold" textLength="8.0" lengthAdjust="spacingAndGlyphs" stroke="#000" stroke-width="0.3" >5</text>
<circle cx="519.5" cy="658.5" r="1.3" fill="#000" />
<text x="555.5" y="775.0" font-family="'Liberation Serif', sans-serif" font-size="15" font-weight="bold" textLength="8.0" lengthAdjust="spacingAndGlyphs" stroke="#000" stroke-width="0.3" >6</text>
<circle cx="566.0" cy="773.5" r="1.3" fill="#000" />
<text x="34.5" y="32.5" font-family="'Liberation Serif', sans-serif" font-size="26.5" font-weight="bold" textLength="21.3" lengthAdjust="spacingAndGlyphs" stroke="#000" stroke-width="1.15" >O</text>
<text x="61.5" y="32.5" font-family="'Liberation Serif', sans-serif" font-size="26.5" font-weight="bold" textLength="144.0" lengthAdjust="spacingAndGlyphs" stroke="#000" stroke-width="1.15" >Mosteiro</text>
<text x="219.5" y="32.5" font-family="'Liberation Serif', sans-serif" font-size="26.5" font-weight="bold" textLength="53.0" lengthAdjust="spacingAndGlyphs" stroke="#000" stroke-width="1.15" >dos</text>
<text x="283.8" y="32.5" font-family="'Liberation Serif', sans-serif" font-size="26.5" font-weight="bold" textLength="160.2" lengthAdjust="spacingAndGlyphs" stroke="#000" stroke-width="1.15" >Jeronimos</text>
<text x="36.8" y="70.9" font-family="'Liberation Serif', sans-serif" font-size="26.5" font-weight="bold" textLength="36.2" lengthAdjust="spacingAndGlyphs" stroke="#000" stroke-width="1.15" >de</text>
<text x="77.5" y="70.9" font-family="'Liberation Serif', sans-serif" font-size="26.5" font-weight="bold" textLength="23.3" lengthAdjust="spacingAndGlyphs" stroke="#000" stroke-width="1.15" >S</text>
<text x="124.3" y="70.9" font-family="'Liberation Serif', sans-serif" font-size="26.5" font-weight="bold" textLength="112.4" lengthAdjust="spacingAndGlyphs" stroke="#000" stroke-width="1.15" >Maria</text>
<text x="249.0" y="70.9" font-family="'Liberation Serif', sans-serif" font-size="26.5" font-weight="bold" textLength="42.2" lengthAdjust="spacingAndGlyphs" stroke="#000" stroke-width="1.15" >de</text>
<text x="302.3" y="70.9" font-family="'Liberation Serif', sans-serif" font-size="26.5" font-weight="bold" textLength="136.1" lengthAdjust="spacingAndGlyphs" stroke="#000" stroke-width="1.15" >Belem.</text>
<text x="102.5" y="59.5" font-family="'Liberation Serif', sans-serif" font-size="10" font-weight="bold" textLength="19.5" lengthAdjust="spacingAndGlyphs" stroke="#000" stroke-width="0.7" >ta</text>
<path d="M108 62L118 62" fill="none" stroke="#000" stroke-width="1.2"/>
</g>
</svg>
</body></html>
